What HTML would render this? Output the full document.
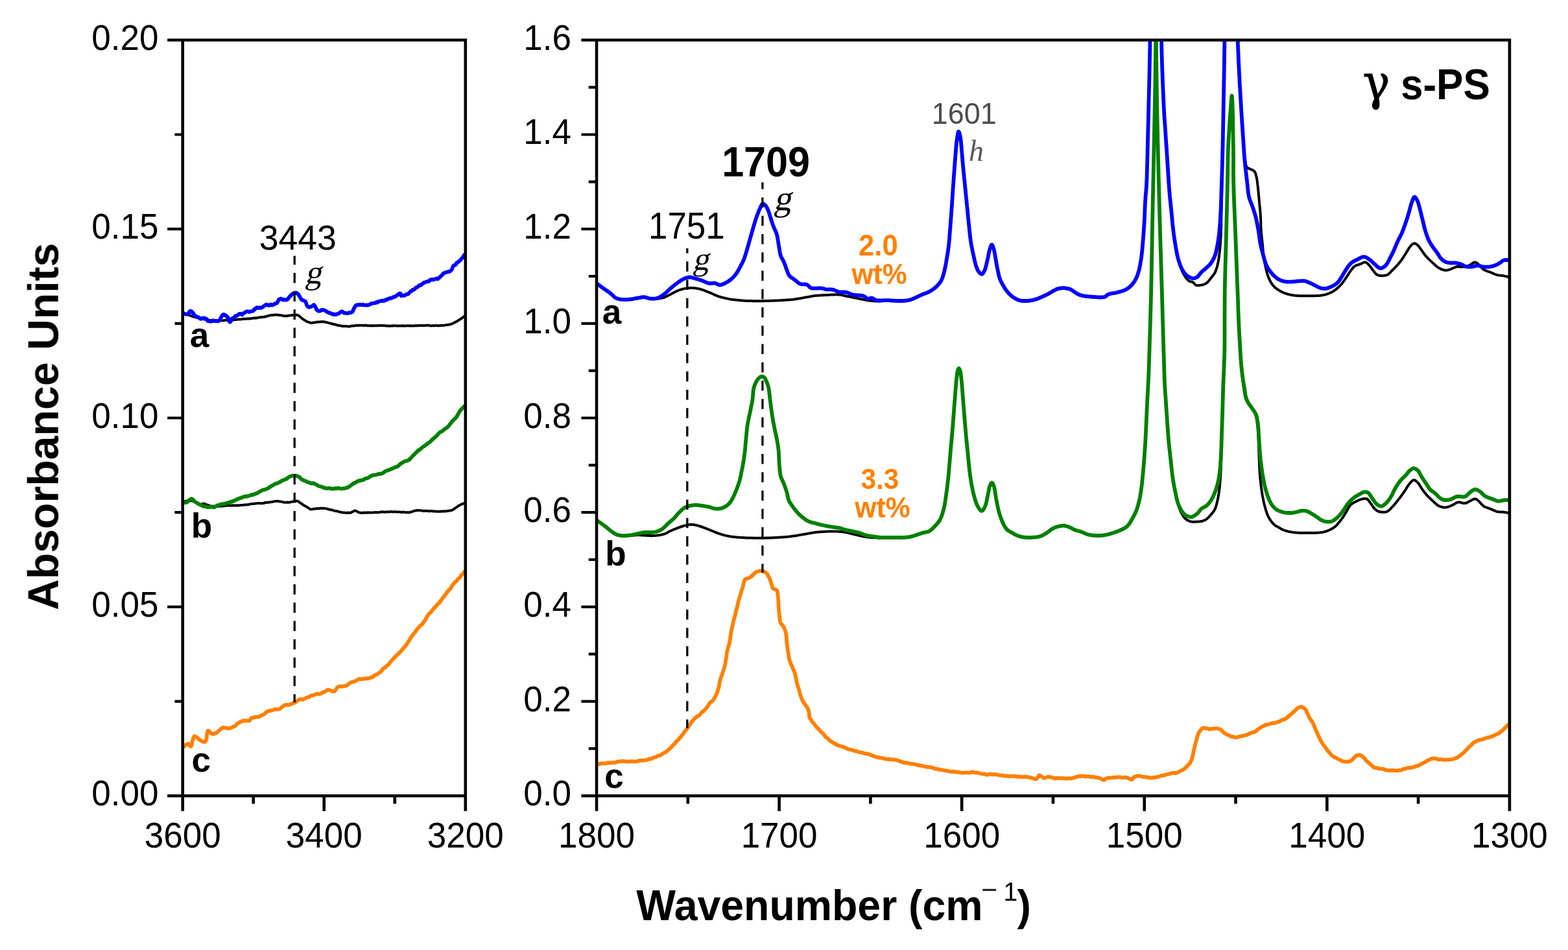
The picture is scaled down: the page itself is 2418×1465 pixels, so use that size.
<!DOCTYPE html>
<html lang="en"><head><meta charset="utf-8"><title>FTIR spectra</title>
<style>
html,body{margin:0;padding:0;background:#fff;}
body{width:2418px;height:1465px;overflow:hidden;}
svg{display:block;font-family:"Liberation Sans",sans-serif;}
</style></head><body>
<svg width="2418" height="1465" viewBox="0 0 2418 1465">
<rect x="0" y="0" width="2418" height="1465" fill="#fff"/>
<defs><filter id="soft" x="0" y="0" width="100%" height="100%" filterUnits="userSpaceOnUse" color-interpolation-filters="sRGB"><feGaussianBlur stdDeviation="0.75"/></filter></defs>
<g id="chart" filter="url(#soft)">
<defs><clipPath id="cl"><rect x="281.7" y="61.8" width="436.09999999999997" height="1165.4"/></clipPath><clipPath id="cr"><rect x="920.0" y="61.8" width="1407.9" height="1165.4"/></clipPath></defs>
<path d="M282.4,482.8 L282.6,483.0 L283.0,483.1 L283.7,483.4 L284.7,483.8 L285.9,484.0 L287.2,484.3 L288.7,485.1 L290.4,485.5 L292.1,486.1 L293.9,487.0 L295.8,487.5 L297.7,488.2 L299.6,488.7 L301.5,489.3 L303.3,489.6 L305.1,490.2 L306.7,490.8 L308.2,491.1 L309.8,491.5 L311.3,491.8 L312.9,491.8 L314.4,492.3 L316.0,492.6 L317.5,492.7 L319.0,492.8 L320.6,493.3 L322.1,493.5 L323.7,493.8 L325.2,494.1 L326.8,494.2 L328.3,494.5 L329.9,494.4 L331.5,494.5 L333.1,494.5 L334.6,494.7 L336.2,494.8 L337.8,494.4 L339.5,494.2 L341.1,494.1 L342.8,494.4 L344.5,494.2 L346.1,494.1 L347.8,493.8 L349.4,493.7 L351.0,493.5 L352.6,493.4 L354.1,493.3 L355.6,493.2 L357.1,493.3 L358.5,493.2 L359.8,493.2 L361.7,493.1 L363.5,493.1 L365.1,492.8 L366.7,492.4 L368.3,492.5 L369.9,492.5 L371.5,492.4 L373.2,492.1 L374.7,492.1 L376.2,491.7 L377.7,491.8 L379.2,491.7 L380.8,491.5 L382.3,491.2 L383.9,491.4 L385.4,491.5 L387.0,491.0 L388.5,491.1 L390.0,490.8 L391.5,490.5 L393.1,490.3 L394.6,490.4 L396.1,490.3 L397.7,489.8 L399.2,489.7 L400.7,489.3 L402.3,489.3 L403.8,489.0 L405.3,489.0 L406.9,488.8 L408.4,488.4 L410.0,488.2 L411.6,487.6 L413.1,487.0 L414.6,486.9 L416.1,486.4 L417.6,486.1 L419.1,486.0 L420.8,486.0 L422.5,485.6 L424.2,485.4 L425.9,485.6 L427.5,485.5 L429.0,485.7 L430.5,485.9 L432.1,485.9 L433.6,486.2 L435.1,486.6 L436.6,487.0 L438.2,487.2 L439.7,487.2 L441.3,487.2 L443.0,487.2 L444.7,486.8 L446.4,486.5 L448.0,486.4 L449.6,486.1 L451.3,486.0 L453.0,486.1 L454.6,485.9 L456.2,485.8 L457.7,485.6 L459.2,486.1 L460.6,486.8 L461.8,487.5 L463.0,488.7 L464.2,489.9 L465.5,490.7 L466.8,491.9 L468.1,492.7 L469.5,493.7 L470.9,494.4 L472.4,495.4 L473.8,496.2 L475.3,496.6 L476.8,497.0 L478.3,497.6 L479.9,498.1 L481.6,497.8 L483.2,497.6 L484.9,497.4 L486.6,497.0 L488.2,496.8 L489.8,496.6 L491.4,496.4 L492.9,496.4 L494.5,496.2 L496.0,496.1 L497.6,496.3 L499.3,496.1 L500.7,496.5 L502.2,496.9 L503.7,497.1 L505.2,497.4 L506.8,498.1 L508.4,498.4 L510.0,498.7 L511.6,499.2 L513.1,499.8 L514.6,500.0 L516.2,500.3 L517.7,500.7 L519.2,501.3 L520.7,501.5 L522.2,502.0 L523.7,502.1 L525.2,502.3 L526.6,502.6 L528.0,503.0 L529.7,503.1 L531.3,503.1 L532.9,503.1 L534.4,503.3 L536.0,503.2 L537.6,503.4 L539.1,503.5 L540.5,503.0 L542.0,502.6 L543.5,502.6 L545.2,502.4 L547.1,502.3 L548.2,502.0 L549.5,501.8 L550.7,501.7 L552.1,501.9 L553.4,501.8 L554.9,501.7 L556.4,501.7 L557.9,501.7 L559.4,501.8 L561.0,502.0 L562.6,501.8 L564.2,501.6 L565.9,502.0 L567.5,502.2 L569.2,502.3 L570.9,502.2 L572.5,502.3 L574.1,502.4 L575.8,502.1 L577.2,502.2 L578.6,502.3 L580.1,502.3 L581.6,502.2 L583.1,502.1 L584.6,502.0 L586.1,502.0 L587.6,501.9 L589.1,502.1 L590.7,502.1 L592.2,502.3 L593.8,502.1 L595.3,502.4 L596.9,502.5 L598.4,502.6 L600.0,502.7 L601.6,502.7 L603.1,502.6 L604.7,502.3 L606.3,502.5 L607.8,502.3 L609.4,502.3 L610.9,502.4 L612.5,502.5 L614.0,502.4 L615.5,502.6 L617.1,502.6 L618.6,502.4 L620.2,502.3 L621.7,502.5 L623.3,502.4 L624.9,502.5 L626.4,502.4 L628.0,502.2 L629.5,502.3 L631.1,502.4 L632.7,502.2 L634.2,502.4 L635.8,502.5 L637.3,502.5 L638.9,502.5 L640.4,502.1 L641.9,502.2 L643.4,502.3 L644.9,502.0 L646.4,501.9 L647.9,501.9 L649.3,502.0 L650.8,502.0 L652.2,502.0 L653.8,502.2 L655.5,501.9 L657.1,501.8 L658.7,501.8 L660.3,501.8 L661.9,501.8 L663.5,502.2 L665.1,502.4 L666.7,502.1 L668.3,502.2 L669.8,502.2 L671.3,502.1 L672.8,502.1 L674.2,502.3 L675.6,502.3 L677.0,502.2 L678.3,502.0 L679.6,502.0 L680.9,501.8 L682.6,501.8 L684.2,501.9 L685.8,501.6 L687.3,501.3 L688.7,501.1 L690.1,500.9 L691.5,500.8 L692.9,500.6 L694.3,500.1 L695.8,499.8 L697.2,499.2 L698.7,498.5 L700.1,497.8 L701.5,497.1 L702.9,496.4 L704.3,495.6 L705.7,494.9 L707.2,494.0 L708.8,492.8 L710.4,491.8 L712.1,490.8 L713.7,489.4 L715.1,488.5 L716.2,487.8 L716.9,487.5 L717.2,487.4" fill="none" stroke="#000000" stroke-width="4.0" stroke-linejoin="round" stroke-linecap="butt" clip-path="url(#cl)" />
<path d="M282.4,774.1 L282.8,773.9 L283.8,773.6 L285.3,773.1 L287.1,772.6 L289.1,772.3 L291.2,772.3 L293.1,772.2 L294.8,772.3 L296.4,772.3 L297.9,772.9 L299.5,773.5 L301.0,774.2 L302.6,774.9 L304.1,775.8 L305.5,776.9 L306.9,777.7 L308.2,778.0 L310.0,778.0 L311.6,777.3 L313.2,776.7 L314.9,776.8 L316.3,777.2 L317.7,777.9 L319.2,778.6 L320.7,778.9 L322.3,779.6 L323.9,780.3 L325.4,780.7 L327.0,780.6 L328.6,780.8 L330.2,780.6 L331.9,781.0 L333.5,781.0 L335.2,780.8 L336.9,780.6 L338.5,780.7 L340.2,780.6 L341.9,780.6 L343.6,780.5 L345.3,780.2 L347.0,779.9 L348.6,779.8 L350.3,779.6 L351.9,779.4 L353.6,779.4 L355.2,779.7 L356.7,779.4 L358.4,779.3 L360.0,779.6 L361.7,779.5 L363.2,779.5 L364.7,779.5 L366.2,779.3 L367.7,779.6 L369.2,779.2 L370.8,779.1 L372.4,778.9 L373.9,778.9 L375.5,778.7 L377.0,778.5 L378.6,778.6 L380.1,778.3 L381.7,778.2 L383.2,778.2 L384.8,777.6 L386.4,777.2 L387.9,777.0 L389.4,777.1 L390.9,777.0 L392.3,776.7 L394.0,776.4 L395.7,776.2 L397.3,776.2 L398.9,775.9 L400.5,776.1 L402.2,776.2 L403.8,776.2 L405.4,776.0 L407.0,775.9 L408.6,775.1 L410.3,774.8 L411.9,774.9 L413.6,774.8 L415.2,774.4 L416.9,774.4 L418.6,774.1 L420.3,773.9 L422.0,773.4 L423.7,773.0 L425.4,772.9 L427.1,772.7 L428.6,772.7 L430.3,773.3 L431.9,773.5 L433.4,773.6 L435.0,773.9 L436.5,774.2 L438.2,774.8 L439.8,774.8 L441.4,774.8 L443.1,774.5 L444.8,774.9 L446.5,774.6 L448.1,774.3 L449.6,773.9 L451.5,773.5 L453.2,773.1 L455.0,773.0 L456.6,772.6 L458.2,772.5 L459.7,773.2 L461.0,773.8 L462.3,775.1 L463.6,775.8 L464.9,776.7 L466.2,777.7 L467.5,778.4 L468.8,779.5 L470.1,780.1 L471.4,780.7 L472.6,781.5 L474.0,782.2 L475.3,783.3 L476.7,784.1 L478.3,785.1 L479.7,785.5 L481.3,785.4 L482.9,784.9 L484.6,784.7 L486.4,784.5 L488.1,784.2 L489.8,784.1 L491.4,784.4 L493.1,784.0 L494.8,783.6 L496.4,783.9 L498.1,783.8 L499.7,784.1 L501.2,784.0 L502.9,784.4 L504.5,784.7 L506.1,785.2 L507.6,785.7 L509.2,786.1 L510.8,786.2 L512.4,786.4 L514.0,787.1 L515.6,787.6 L517.2,788.0 L518.8,788.0 L520.4,788.4 L521.9,788.9 L523.4,789.3 L524.8,789.8 L526.3,790.0 L528.0,790.3 L529.5,790.5 L531.2,790.4 L532.9,790.8 L534.8,791.0 L536.6,790.5 L538.3,790.8 L539.9,790.8 L541.4,790.5 L543.3,789.3 L545.0,788.6 L546.5,787.5 L548.1,787.5 L549.6,788.1 L551.0,789.0 L552.8,789.9 L553.9,790.3 L555.0,790.6 L556.3,790.8 L557.6,791.1 L559.1,790.8 L560.6,790.5 L562.2,790.8 L563.9,790.4 L565.6,790.7 L567.3,790.3 L569.0,790.5 L570.7,790.5 L572.5,790.6 L574.1,790.4 L575.8,790.5 L577.2,790.1 L578.7,790.2 L580.1,790.0 L581.6,790.2 L583.1,790.2 L584.6,790.0 L586.1,789.9 L587.6,789.5 L589.1,789.3 L590.7,789.5 L592.2,789.5 L593.7,789.7 L595.3,789.6 L596.8,789.2 L598.4,789.2 L599.9,789.4 L601.4,789.3 L602.9,788.9 L604.4,789.3 L606.0,789.4 L607.6,789.1 L609.2,789.2 L610.8,789.2 L612.5,789.5 L614.1,789.5 L615.8,789.4 L617.5,789.6 L619.1,790.0 L620.7,789.7 L622.4,789.6 L623.9,789.9 L625.4,790.2 L626.9,790.2 L628.3,790.1 L629.6,790.3 L630.9,790.3 L632.0,789.8 L633.1,789.9 L634.9,789.3 L636.3,788.6 L637.7,788.3 L639.0,787.7 L640.8,787.5 L641.9,787.1 L643.2,787.3 L644.5,787.0 L646.0,786.9 L647.4,787.1 L649.0,787.2 L650.5,787.4 L652.1,787.8 L653.8,788.0 L655.4,787.7 L657.0,787.8 L658.6,788.0 L660.2,788.1 L661.8,788.3 L663.3,788.3 L664.8,788.1 L666.4,788.1 L668.0,788.5 L669.6,788.4 L671.2,788.6 L672.8,788.8 L674.4,788.7 L675.9,788.7 L677.5,788.7 L679.0,788.5 L680.5,788.7 L682.0,788.5 L683.4,788.6 L684.7,788.3 L686.4,788.4 L688.0,788.3 L689.6,788.1 L691.1,787.9 L692.6,787.5 L694.0,787.5 L695.4,787.1 L696.8,786.9 L698.1,786.1 L699.6,785.3 L701.0,784.3 L702.3,783.6 L703.6,782.4 L704.9,781.6 L706.3,780.5 L707.6,779.7 L709.4,778.7 L711.5,777.9 L713.6,776.9 L715.4,776.3 L716.7,776.2 L717.2,775.7" fill="none" stroke="#000000" stroke-width="4.0" stroke-linejoin="round" stroke-linecap="butt" clip-path="url(#cl)" />
<path d="M282.4,482.6 L283.2,483.2 L285.0,483.9 L287.2,484.7 L289.1,484.5 L290.6,483.8 L292.1,480.7 L293.5,479.4 L294.8,479.9 L295.8,480.4 L296.7,482.1 L297.6,482.3 L298.5,484.1 L299.5,485.3 L300.6,486.9 L302.0,488.3 L303.5,488.2 L305.0,488.9 L306.6,489.6 L308.2,491.3 L309.8,491.8 L311.3,490.7 L312.9,491.2 L314.4,490.2 L315.9,491.0 L317.4,491.2 L318.7,492.1 L320.1,495.0 L321.6,495.2 L323.0,494.9 L324.6,495.9 L326.1,495.7 L327.7,494.2 L329.2,494.8 L330.9,494.6 L332.6,495.2 L334.3,494.7 L335.9,495.5 L337.0,494.9 L338.1,494.4 L339.2,493.2 L340.2,490.6 L341.3,488.7 L342.4,486.8 L343.4,485.6 L344.5,484.8 L345.9,485.2 L347.3,486.5 L348.7,486.6 L350.1,488.6 L351.2,489.5 L352.2,490.4 L352.9,492.9 L353.2,494.5 L353.5,495.7 L354.1,496.5 L355.0,496.6 L356.0,494.3 L357.2,493.8 L358.5,490.8 L359.8,490.2 L361.1,489.8 L362.6,487.5 L364.1,487.4 L365.6,486.2 L367.1,485.8 L368.4,484.3 L370.1,483.8 L371.7,484.1 L373.2,485.5 L374.4,483.8 L375.5,483.2 L376.6,482.5 L378.0,481.8 L379.5,480.6 L381.2,480.2 L383.0,480.5 L384.8,481.2 L386.6,480.0 L388.0,480.2 L389.3,479.8 L390.7,479.3 L392.1,476.8 L393.4,476.9 L394.8,474.9 L396.1,474.2 L397.7,474.3 L399.2,475.0 L400.7,474.2 L402.3,474.9 L403.8,474.3 L405.3,473.2 L406.8,472.3 L408.3,471.2 L409.8,470.1 L411.4,469.6 L413.0,470.4 L414.6,471.4 L416.3,470.2 L417.9,469.4 L419.5,470.7 L421.0,470.3 L422.6,469.4 L424.0,468.2 L425.4,467.9 L426.7,467.7 L428.0,465.9 L429.0,463.9 L430.2,461.5 L431.5,461.7 L433.0,460.5 L434.7,461.2 L436.5,462.6 L438.2,461.8 L439.7,462.3 L441.1,462.7 L442.5,461.9 L443.9,461.4 L445.1,459.2 L446.3,458.0 L447.4,456.2 L448.5,456.1 L449.6,454.4 L450.8,453.2 L452.0,453.0 L453.2,452.1 L454.4,452.0 L456.0,451.4 L457.7,451.9 L459.2,453.4 L460.1,454.1 L460.8,454.9 L461.4,456.4 L462.1,457.3 L463.0,458.8 L464.2,461.1 L465.6,462.6 L467.0,463.1 L468.4,463.6 L469.7,464.1 L470.8,464.7 L471.7,466.4 L472.6,469.2 L473.5,471.5 L474.4,472.2 L475.4,473.5 L477.0,473.8 L478.7,473.3 L480.2,472.6 L482.2,471.5 L484.0,470.1 L485.0,471.2 L485.8,471.9 L486.7,473.8 L487.6,476.3 L488.6,478.1 L489.8,478.5 L491.1,479.8 L492.7,479.7 L494.3,479.4 L496.0,477.9 L497.7,478.2 L499.3,477.9 L501.0,479.0 L502.6,479.5 L504.2,480.9 L505.8,481.7 L507.3,482.7 L508.9,482.5 L510.4,483.3 L512.0,484.1 L513.5,484.9 L515.0,484.4 L516.5,485.1 L518.1,485.1 L519.7,484.2 L521.3,483.8 L522.9,483.1 L524.5,481.7 L526.1,480.9 L527.6,480.2 L529.1,481.5 L530.6,482.7 L532.2,482.6 L533.7,483.0 L535.3,483.1 L537.0,483.1 L538.8,481.9 L540.5,482.2 L542.0,481.6 L543.3,481.0 L544.3,479.3 L544.9,477.9 L545.5,476.5 L546.1,474.8 L547.1,473.6 L548.4,471.4 L549.9,470.3 L551.5,470.1 L553.3,470.3 L555.0,469.5 L556.7,470.0 L558.3,470.4 L559.9,469.7 L561.5,470.5 L563.0,470.7 L564.6,470.5 L566.2,470.5 L567.8,470.5 L569.4,469.8 L571.0,469.1 L572.6,467.9 L574.2,467.9 L575.8,467.4 L577.4,467.4 L578.9,467.1 L580.5,466.0 L582.1,466.6 L583.7,464.9 L585.3,464.6 L586.9,464.1 L588.5,464.0 L590.1,463.3 L591.7,464.2 L593.3,463.5 L594.9,462.2 L596.3,462.4 L597.6,461.1 L599.0,461.0 L600.4,460.1 L601.7,459.8 L603.1,460.0 L604.4,459.6 L606.1,458.2 L607.8,458.0 L609.6,457.3 L611.3,456.1 L612.8,454.7 L614.0,454.5 L615.2,453.2 L616.0,452.5 L616.9,452.3 L617.5,452.6 L618.1,453.7 L618.7,456.3 L619.7,456.0 L620.9,455.6 L622.5,455.9 L624.1,455.7 L625.9,454.0 L627.7,453.6 L629.3,453.5 L630.5,452.1 L631.7,451.0 L632.9,449.5 L634.1,448.3 L635.3,448.6 L636.4,447.0 L637.6,447.0 L638.8,446.4 L640.2,445.0 L641.5,443.3 L642.9,443.4 L644.3,442.2 L645.6,441.0 L647.0,439.8 L648.4,440.2 L649.8,439.0 L651.1,437.7 L652.5,437.1 L653.8,435.7 L655.2,435.7 L656.6,435.0 L658.0,434.1 L659.5,434.2 L661.2,434.0 L662.8,431.9 L664.4,431.6 L666.0,430.7 L667.5,431.4 L669.1,431.4 L670.6,430.4 L672.1,430.0 L673.6,429.4 L675.2,430.3 L676.4,428.9 L677.5,428.3 L678.7,427.0 L679.9,426.0 L681.0,424.8 L682.2,423.8 L683.5,421.7 L684.7,421.5 L686.3,420.3 L688.0,420.1 L689.7,419.5 L691.3,419.0 L692.9,418.9 L694.3,418.2 L695.4,416.9 L696.4,416.2 L697.2,414.7 L698.0,412.0 L698.9,410.3 L700.0,409.2 L701.0,409.2 L702.2,408.6 L703.4,407.1 L704.7,404.8 L705.9,404.6 L707.2,403.3 L708.4,402.4 L709.6,401.6 L710.7,400.4 L711.9,398.6 L713.2,397.7 L714.4,395.5 L715.5,393.7 L716.4,393.3 L717.0,391.6 L717.2,391.1" fill="none" stroke="#0000ff" stroke-width="5.8" stroke-linejoin="round" stroke-linecap="butt" clip-path="url(#cl)" />
<path d="M282.4,774.3 L283.5,774.8 L285.8,775.1 L288.2,774.7 L289.5,773.4 L290.8,772.4 L292.1,770.9 L293.5,770.0 L294.8,769.1 L296.1,769.7 L297.3,770.1 L298.5,771.6 L299.8,773.0 L301.1,774.0 L302.5,775.0 L303.8,775.9 L305.1,776.2 L306.5,777.1 L307.8,778.2 L309.2,778.4 L310.6,779.4 L312.0,780.0 L313.6,780.8 L315.2,780.8 L316.8,780.7 L318.4,781.6 L320.0,782.2 L321.6,782.1 L323.2,781.7 L324.8,781.6 L326.5,782.0 L328.1,781.7 L329.6,782.3 L331.2,781.9 L332.7,780.8 L334.2,780.3 L335.7,779.2 L337.2,778.9 L338.8,778.5 L340.3,777.7 L341.9,777.4 L343.5,777.2 L345.2,777.2 L346.9,777.3 L348.6,776.0 L350.3,775.6 L351.7,775.4 L353.2,774.8 L354.6,774.6 L356.0,773.6 L357.5,773.8 L358.9,773.2 L360.3,772.1 L361.7,772.0 L363.2,771.2 L364.6,770.3 L366.0,769.9 L367.5,769.0 L368.9,768.3 L370.3,768.4 L371.8,768.0 L373.2,766.8 L374.8,766.8 L376.5,765.8 L378.2,765.4 L379.8,765.8 L381.5,765.4 L383.1,764.7 L384.7,764.2 L386.3,763.7 L387.9,762.9 L389.5,763.4 L391.1,762.3 L392.7,761.8 L394.2,761.6 L395.6,760.7 L397.0,760.5 L398.3,759.1 L399.7,758.7 L401.0,758.0 L402.4,757.0 L403.8,756.5 L405.4,755.5 L407.0,755.3 L408.6,754.9 L410.2,754.3 L411.8,753.6 L413.3,753.2 L414.7,752.2 L416.0,750.9 L417.2,750.6 L418.5,749.4 L419.7,748.7 L421.0,748.4 L422.5,747.2 L424.0,746.2 L425.6,745.6 L427.1,745.6 L428.6,744.9 L429.9,744.1 L431.2,743.4 L432.5,743.2 L433.8,741.8 L435.0,741.0 L436.3,740.8 L437.7,740.2 L439.2,739.4 L440.6,739.0 L442.0,738.5 L443.4,737.2 L444.8,736.3 L446.2,735.2 L447.7,734.9 L449.3,733.9 L451.0,733.5 L452.7,733.6 L454.4,733.6 L456.1,733.4 L457.8,734.1 L459.4,734.6 L461.1,735.5 L462.4,736.4 L463.6,737.8 L464.9,739.2 L466.2,739.7 L467.4,740.0 L468.8,741.1 L470.2,741.5 L471.8,741.9 L473.3,743.2 L474.8,743.3 L476.4,744.3 L477.9,744.4 L479.4,745.3 L480.9,745.6 L482.5,745.0 L484.0,745.2 L485.4,746.4 L486.7,747.0 L488.1,747.4 L489.5,748.4 L490.9,749.3 L492.3,749.7 L493.6,750.1 L495.2,750.3 L496.7,751.0 L498.1,751.3 L499.7,752.3 L501.2,752.9 L502.7,752.7 L504.3,753.3 L505.9,752.9 L507.5,752.7 L509.1,753.3 L510.8,753.3 L512.4,753.9 L514.0,753.7 L515.6,753.7 L517.3,753.0 L519.0,753.4 L520.6,752.6 L522.3,752.8 L523.9,753.3 L525.6,753.6 L527.3,753.7 L529.0,753.2 L530.7,753.2 L532.2,753.2 L533.7,752.2 L535.4,752.2 L536.9,751.6 L538.4,750.3 L539.8,749.5 L541.4,748.3 L542.7,747.1 L544.0,746.6 L545.4,745.1 L546.7,744.8 L548.1,744.5 L549.5,743.1 L550.9,742.9 L552.5,741.5 L554.1,741.6 L555.7,740.7 L557.3,740.9 L558.9,740.2 L560.5,740.1 L562.1,738.7 L563.7,737.7 L565.3,737.7 L566.9,737.2 L568.5,736.5 L570.0,735.2 L571.6,734.3 L573.3,733.7 L574.9,732.6 L576.5,732.8 L578.0,732.4 L579.6,732.2 L581.2,731.9 L582.7,731.3 L584.2,730.8 L585.7,731.2 L587.2,730.5 L588.8,730.2 L590.3,729.5 L591.8,728.7 L593.3,727.3 L594.9,726.3 L596.4,726.1 L598.0,725.1 L599.6,724.9 L601.2,724.0 L602.8,723.4 L604.4,722.6 L605.8,722.4 L607.2,721.7 L608.6,720.9 L610.0,720.1 L611.4,719.8 L612.7,719.6 L614.0,718.6 L615.3,717.2 L616.6,716.2 L617.9,715.0 L619.1,714.3 L620.3,713.8 L621.6,713.0 L623.1,711.8 L624.7,711.3 L626.2,710.9 L627.8,710.5 L629.3,709.7 L630.4,709.6 L631.4,708.5 L632.5,707.5 L633.5,706.4 L634.6,705.2 L635.6,704.2 L636.7,702.6 L637.8,701.6 L638.8,701.0 L640.0,699.3 L641.2,698.4 L642.4,697.3 L643.6,695.9 L644.8,694.7 L646.0,694.5 L647.2,693.1 L648.4,692.7 L649.6,691.3 L650.8,690.4 L652.0,689.1 L653.2,688.5 L654.4,688.1 L655.6,686.7 L656.8,686.0 L658.0,685.5 L659.1,684.1 L660.4,683.1 L661.6,682.5 L662.8,681.9 L664.0,680.3 L665.2,679.5 L666.3,678.0 L667.5,676.7 L668.6,676.6 L669.7,674.9 L670.7,674.5 L671.7,673.6 L672.8,672.4 L673.8,671.4 L674.9,670.3 L676.0,668.8 L677.1,667.8 L678.4,666.4 L679.8,666.1 L681.1,665.4 L682.5,664.6 L683.9,663.1 L685.3,662.3 L686.6,660.9 L687.7,660.4 L688.8,659.6 L689.9,659.0 L690.9,657.8 L692.0,656.6 L693.1,655.6 L694.1,653.7 L695.1,652.8 L696.2,651.0 L697.3,649.9 L698.4,648.4 L699.5,648.0 L700.6,646.1 L701.7,645.5 L702.8,644.6 L703.8,642.9 L704.8,641.9 L705.7,639.9 L706.8,638.1 L707.8,636.2 L708.7,634.7 L709.6,633.1 L710.5,632.7 L711.5,631.0 L712.8,629.9 L714.3,628.2 L715.7,626.6 L716.8,625.8 L717.2,625.2" fill="none" stroke="#008000" stroke-width="5.8" stroke-linejoin="round" stroke-linecap="butt" clip-path="url(#cl)" />
<path d="M282.6,1152.3 L283.0,1151.6 L284.1,1151.1 L285.6,1149.3 L287.2,1148.4 L288.8,1147.4 L290.1,1146.7 L291.3,1147.9 L292.3,1149.0 L293.3,1150.8 L294.2,1151.0 L294.7,1150.4 L295.2,1149.8 L295.7,1149.0 L296.1,1146.5 L296.5,1144.3 L296.9,1142.7 L297.3,1141.3 L297.8,1139.2 L298.3,1137.3 L299.0,1136.8 L299.7,1135.2 L300.7,1135.9 L301.9,1136.1 L303.1,1136.7 L304.4,1137.7 L305.8,1139.0 L307.2,1140.7 L308.7,1141.1 L310.4,1142.3 L312.2,1143.5 L313.9,1143.9 L315.4,1144.3 L316.7,1143.4 L317.4,1142.4 L318.0,1141.2 L318.3,1140.2 L318.6,1138.3 L318.8,1136.0 L319.0,1134.1 L319.2,1132.0 L319.5,1129.9 L319.8,1128.9 L320.2,1128.0 L320.8,1126.8 L322.0,1127.1 L323.3,1128.2 L324.7,1130.0 L326.2,1131.3 L327.6,1131.4 L329.1,1132.1 L330.5,1131.1 L332.0,1130.6 L333.5,1130.4 L335.0,1129.1 L336.2,1128.4 L337.5,1126.7 L338.7,1125.9 L339.9,1125.0 L341.1,1123.7 L342.3,1123.1 L343.6,1121.9 L345.2,1122.0 L346.8,1122.4 L348.5,1122.8 L350.3,1122.8 L351.8,1123.2 L353.4,1123.4 L355.1,1122.7 L356.8,1122.3 L358.4,1121.0 L359.8,1120.9 L361.4,1120.1 L362.7,1119.4 L364.0,1118.1 L365.6,1116.2 L367.0,1115.2 L368.5,1114.8 L370.1,1113.3 L371.8,1112.9 L373.5,1112.1 L375.1,1111.4 L376.7,1111.0 L378.5,1111.8 L380.2,1111.4 L381.9,1111.3 L383.4,1111.3 L384.7,1111.6 L385.8,1109.8 L386.6,1108.6 L387.4,1107.5 L388.5,1107.0 L389.8,1106.8 L391.3,1106.7 L392.9,1106.0 L394.5,1105.7 L396.1,1105.3 L397.7,1105.7 L399.3,1105.7 L401.0,1104.4 L402.6,1103.5 L404.2,1102.8 L405.7,1102.0 L407.0,1101.5 L408.3,1100.8 L409.5,1099.5 L410.7,1097.9 L412.0,1097.2 L413.3,1096.5 L414.8,1096.2 L416.4,1096.3 L418.0,1095.8 L419.6,1095.2 L421.3,1094.8 L422.9,1094.5 L424.5,1093.3 L426.2,1093.9 L427.8,1093.8 L429.5,1093.8 L431.0,1093.5 L432.4,1092.5 L434.0,1091.3 L435.3,1089.7 L436.6,1089.1 L438.2,1087.7 L439.6,1087.1 L441.2,1087.0 L442.9,1087.0 L444.6,1087.2 L446.2,1086.8 L447.7,1086.2 L449.2,1085.8 L450.5,1085.0 L451.8,1084.5 L453.1,1083.4 L454.4,1083.6 L455.8,1083.0 L457.2,1081.5 L458.6,1080.5 L460.0,1079.7 L461.5,1079.0 L463.0,1078.1 L464.6,1078.5 L466.2,1078.8 L467.8,1078.2 L469.5,1077.7 L471.1,1076.8 L472.6,1076.1 L474.2,1075.6 L475.7,1074.8 L477.1,1074.8 L478.6,1073.4 L480.2,1072.2 L481.7,1072.7 L483.3,1072.1 L485.0,1071.1 L486.6,1070.9 L488.2,1069.9 L489.8,1069.9 L491.3,1070.3 L492.9,1070.3 L494.4,1069.8 L495.9,1068.8 L497.4,1068.1 L498.7,1067.1 L500.1,1067.0 L501.5,1066.2 L502.8,1065.7 L504.2,1064.4 L505.6,1063.5 L507.0,1063.8 L508.8,1064.5 L510.6,1065.1 L512.4,1065.8 L514.1,1066.4 L515.6,1066.2 L516.9,1064.6 L518.0,1063.3 L519.0,1061.7 L520.4,1059.9 L521.7,1059.0 L523.3,1058.7 L524.9,1058.3 L526.7,1058.6 L528.3,1058.8 L529.9,1058.0 L531.5,1058.0 L533.0,1057.8 L534.6,1057.3 L536.1,1056.0 L537.6,1054.7 L539.1,1053.7 L540.6,1052.8 L542.1,1051.9 L543.6,1051.7 L545.2,1051.6 L546.7,1051.1 L548.3,1049.9 L549.9,1049.2 L551.5,1048.6 L553.1,1047.1 L554.8,1047.0 L556.3,1047.3 L557.9,1047.2 L559.5,1047.2 L561.1,1046.9 L562.7,1046.2 L564.3,1046.6 L565.9,1046.0 L567.5,1046.1 L569.1,1046.2 L570.7,1045.2 L572.3,1044.4 L573.9,1044.5 L575.3,1043.9 L576.6,1042.4 L578.0,1041.2 L579.3,1040.3 L580.7,1040.4 L582.1,1039.8 L583.4,1038.1 L584.6,1037.8 L585.7,1037.3 L586.9,1036.1 L588.1,1034.6 L589.2,1033.5 L590.4,1031.8 L591.5,1030.3 L592.7,1030.3 L593.8,1029.3 L594.9,1028.2 L596.1,1027.5 L597.4,1025.9 L598.6,1025.1 L599.7,1024.1 L600.9,1022.2 L602.1,1020.7 L603.3,1019.4 L604.4,1018.0 L605.5,1017.3 L606.6,1015.9 L607.6,1014.8 L608.7,1013.3 L609.7,1013.0 L610.8,1011.5 L611.9,1010.3 L612.9,1009.3 L614.0,1008.7 L615.1,1007.2 L616.1,1006.7 L617.2,1005.3 L618.3,1004.2 L619.4,1003.1 L620.4,1001.3 L621.5,1000.5 L622.5,999.1 L623.6,997.5 L624.5,997.3 L625.4,995.7 L626.2,994.6 L627.1,993.8 L628.0,992.4 L628.8,990.7 L629.7,989.5 L630.5,988.2 L631.4,987.3 L632.2,985.2 L633.1,984.1 L634.1,982.5 L635.0,981.0 L635.9,980.2 L636.9,978.8 L637.8,977.5 L638.8,976.4 L639.7,975.5 L640.7,973.7 L641.7,972.4 L642.7,971.0 L643.7,969.7 L644.8,968.7 L645.8,967.4 L646.9,966.2 L648.0,965.0 L649.1,964.5 L650.1,963.3 L651.2,962.4 L652.2,961.4 L653.2,959.3 L654.2,957.9 L655.1,957.1 L656.1,955.9 L657.0,953.6 L658.0,951.7 L658.9,950.6 L659.8,948.8 L660.8,947.5 L661.8,946.0 L662.8,945.4 L663.9,944.6 L664.9,943.7 L666.0,941.6 L667.0,940.7 L668.1,939.6 L669.2,937.6 L670.3,937.1 L671.3,936.3 L672.4,934.3 L673.4,933.8 L674.5,932.2 L675.6,930.9 L676.7,930.4 L677.7,929.4 L678.8,927.3 L679.8,926.1 L680.9,924.9 L681.9,923.5 L682.8,922.0 L683.8,920.8 L684.7,920.2 L685.7,918.2 L686.6,917.3 L687.6,916.1 L688.5,914.3 L689.5,913.2 L690.4,912.4 L691.4,911.3 L692.3,909.4 L693.3,909.1 L694.2,908.1 L695.2,907.2 L696.1,904.9 L697.1,903.4 L698.1,901.7 L699.0,901.3 L700.0,899.8 L701.0,898.2 L702.1,897.2 L703.2,896.8 L704.3,895.9 L705.4,894.1 L706.4,892.5 L707.5,892.2 L708.5,891.0 L709.6,890.0 L710.8,887.8 L712.2,885.8 L713.7,884.8 L715.0,883.3 L716.2,881.5 L716.9,881.6 L717.2,881.3" fill="none" stroke="#ff8000" stroke-width="5.8" stroke-linejoin="round" stroke-linecap="butt" clip-path="url(#cl)" />
<path d="M920.7,437.4 L921.1,437.7 L921.9,438.3 L923.1,439.2 L924.6,440.3 L926.3,441.6 L928.0,442.8 L929.7,444.1 L931.1,445.1 L932.4,446.0 L933.7,446.9 L935.1,447.8 L936.4,448.7 L937.7,449.6 L939.0,450.5 L940.3,451.4 L941.5,452.4 L942.7,453.4 L943.9,454.6 L945.1,455.7 L946.2,456.9 L947.4,457.9 L948.6,458.9 L949.8,459.6 L951.4,460.3 L953.0,460.8 L954.6,461.2 L956.3,461.5 L958.1,461.7 L959.5,461.8 L961.0,461.9 L962.6,462.0 L964.2,462.0 L965.8,461.9 L967.4,461.9 L969.0,461.8 L970.5,461.7 L972.1,461.6 L973.7,461.4 L975.3,461.3 L976.8,461.1 L978.4,460.9 L980.0,460.6 L981.5,460.4 L983.0,460.2 L984.8,460.0 L986.5,459.7 L988.2,459.4 L989.9,459.2 L991.6,459.0 L993.4,459.0 L994.8,459.1 L996.3,459.4 L997.8,459.8 L999.3,460.2 L1000.8,460.6 L1002.2,460.9 L1003.7,461.1 L1005.5,461.2 L1007.2,461.2 L1008.9,461.1 L1010.7,461.0 L1012.4,460.9 L1014.1,460.7 L1015.6,460.5 L1017.1,460.3 L1018.6,460.0 L1020.1,459.8 L1021.6,459.4 L1023.0,459.0 L1024.5,458.6 L1026.0,458.0 L1027.5,457.3 L1029.0,456.6 L1030.4,455.8 L1031.9,455.0 L1033.4,454.2 L1034.9,453.4 L1036.3,452.6 L1037.8,451.9 L1039.3,451.1 L1040.8,450.3 L1042.2,449.6 L1043.7,448.9 L1045.2,448.2 L1046.7,447.7 L1048.2,447.1 L1049.6,446.6 L1051.1,446.2 L1052.6,445.8 L1054.1,445.4 L1055.6,445.1 L1057.3,444.8 L1059.0,444.5 L1060.8,444.3 L1062.5,444.2 L1064.2,444.1 L1066.0,444.1 L1067.7,444.1 L1069.4,444.2 L1071.2,444.3 L1072.9,444.5 L1074.6,444.8 L1076.3,445.1 L1077.8,445.4 L1079.3,445.8 L1080.8,446.2 L1082.3,446.7 L1083.8,447.2 L1085.3,447.7 L1086.7,448.2 L1088.2,448.8 L1089.7,449.3 L1091.2,449.9 L1092.7,450.5 L1094.1,451.1 L1095.6,451.7 L1097.1,452.4 L1098.6,453.0 L1100.1,453.7 L1101.5,454.4 L1103.0,455.1 L1104.5,455.7 L1106.0,456.4 L1107.5,456.9 L1108.9,457.4 L1110.4,457.8 L1111.9,458.2 L1113.4,458.6 L1114.9,459.0 L1116.4,459.3 L1117.8,459.6 L1119.3,460.0 L1120.7,460.3 L1122.1,460.6 L1123.5,460.9 L1125.0,461.2 L1126.5,461.4 L1128.2,461.7 L1129.6,461.9 L1131.0,462.1 L1132.5,462.3 L1134.0,462.5 L1135.5,462.6 L1137.1,462.8 L1138.8,463.0 L1140.5,463.1 L1142.1,463.3 L1143.8,463.4 L1145.5,463.6 L1147.3,463.7 L1149.0,463.8 L1150.5,463.9 L1152.0,463.9 L1153.6,464.0 L1155.2,464.0 L1156.9,464.1 L1158.6,464.1 L1160.2,464.2 L1161.9,464.2 L1163.6,464.2 L1165.2,464.2 L1166.9,464.2 L1168.5,464.2 L1170.1,464.2 L1171.6,464.2 L1173.1,464.2 L1174.6,464.2 L1175.9,464.2 L1177.7,464.2 L1179.4,464.1 L1181.0,464.1 L1182.6,464.1 L1184.1,464.0 L1185.6,464.0 L1187.1,463.9 L1188.8,463.8 L1190.5,463.8 L1191.9,463.7 L1193.5,463.7 L1195.1,463.6 L1196.7,463.5 L1198.4,463.4 L1200.1,463.4 L1201.8,463.3 L1203.4,463.2 L1205.1,463.1 L1206.7,463.0 L1208.3,462.9 L1209.8,462.8 L1211.2,462.7 L1212.9,462.6 L1214.5,462.5 L1216.0,462.4 L1217.5,462.3 L1218.9,462.2 L1220.4,462.1 L1222.0,461.9 L1223.7,461.7 L1225.1,461.5 L1226.6,461.3 L1228.1,461.1 L1229.7,460.8 L1231.3,460.5 L1232.9,460.3 L1234.5,460.0 L1236.1,459.7 L1237.7,459.4 L1239.3,459.1 L1240.8,458.8 L1242.3,458.6 L1244.0,458.3 L1245.7,458.0 L1247.3,457.7 L1248.8,457.4 L1250.4,457.1 L1252.0,456.8 L1253.6,456.5 L1255.2,456.3 L1256.8,456.1 L1258.3,455.9 L1259.8,455.8 L1261.2,455.7 L1262.7,455.6 L1264.2,455.5 L1265.7,455.4 L1267.2,455.3 L1268.8,455.3 L1270.3,455.2 L1271.9,455.1 L1273.4,455.1 L1275.0,455.0 L1276.6,454.9 L1278.2,454.8 L1279.9,454.7 L1281.6,454.6 L1283.3,454.5 L1285.0,454.4 L1286.6,454.4 L1288.3,454.3 L1289.9,454.3 L1291.4,454.3 L1292.8,454.4 L1294.2,454.4 L1295.8,454.6 L1297.3,454.9 L1298.7,455.1 L1300.1,455.5 L1301.4,455.8 L1302.9,456.2 L1304.6,456.5 L1305.8,456.8 L1307.2,457.0 L1308.6,457.3 L1310.1,457.6 L1311.7,457.9 L1313.2,458.2 L1314.8,458.6 L1316.4,458.9 L1318.0,459.2 L1319.6,459.5 L1321.1,459.8 L1322.6,460.1 L1324.0,460.4 L1325.3,460.7 L1327.0,461.0 L1328.6,461.4 L1330.2,461.7 L1331.7,462.0 L1333.2,462.3 L1334.7,462.6 L1336.2,462.9 L1337.8,463.2 L1339.3,463.4 L1340.8,463.6 L1342.3,463.8 L1343.9,463.9 L1345.4,464.1 L1347.0,464.2 L1348.6,464.3 L1350.2,464.4 L1351.6,464.4 L1353.0,464.4 L1354.4,464.4 L1355.8,464.4 L1357.3,464.3 L1358.7,464.3 L1360.2,464.2 L1361.8,464.1 L1363.4,464.1 L1365.1,464.0 L1366.8,464.0 L1368.1,464.0 L1369.4,464.0 L1370.8,464.0 L1372.2,464.0 L1373.7,464.1 L1375.2,464.2 L1376.8,464.2 L1378.3,464.3 L1379.9,464.3 L1381.5,464.4 L1383.1,464.5 L1384.8,464.5 L1386.4,464.5 L1388.0,464.5 L1389.6,464.5 L1391.2,464.5 L1392.7,464.4 L1394.3,464.3 L1395.8,464.2 L1397.2,464.0 L1398.6,463.8 L1400.0,463.6 L1401.6,463.2 L1403.1,462.8 L1404.7,462.3 L1406.2,461.8 L1407.8,461.2 L1409.3,460.6 L1410.7,459.9 L1412.2,459.2 L1413.6,458.6 L1415.0,457.9 L1416.4,457.2 L1417.7,456.6 L1419.0,456.0 L1420.2,455.4 L1421.4,454.8 L1422.6,454.4 L1424.3,453.7 L1425.9,453.1 L1427.4,452.6 L1428.8,452.1 L1430.2,451.5 L1431.6,450.9 L1433.0,450.2 L1434.3,449.5 L1435.7,448.7 L1437.0,447.8 L1438.4,446.9 L1439.7,446.0 L1440.9,445.0 L1442.2,444.0 L1443.4,442.9 L1444.5,441.8 L1445.7,440.7 L1446.8,439.4 L1447.9,438.2 L1448.9,436.9 L1449.9,435.5 L1450.8,434.1 L1451.7,432.6 L1452.3,431.3 L1452.9,429.9 L1453.5,428.4 L1454.0,426.9 L1454.4,425.4 L1454.9,423.8 L1455.3,422.2 L1455.7,420.7 L1456.1,419.1 L1456.5,417.5 L1456.8,416.0 L1457.2,414.5 L1457.5,413.0 L1457.8,411.5 L1458.1,410.0 L1458.4,408.6 L1458.7,407.1 L1458.9,405.6 L1459.2,404.0 L1459.4,402.5 L1459.7,401.0 L1460.0,399.4 L1460.2,397.9 L1460.5,396.3 L1460.7,394.8 L1461.0,393.2 L1461.2,391.7 L1461.5,390.1 L1461.7,388.5 L1462.0,386.9 L1462.2,385.2 L1462.4,383.6 L1462.7,382.0 L1462.9,380.3 L1463.1,378.6 L1463.2,377.1 L1463.4,375.6 L1463.5,374.1 L1463.7,372.6 L1463.8,371.1 L1464.0,369.5 L1464.1,368.0 L1464.2,366.4 L1464.3,364.8 L1464.4,363.2 L1464.5,361.7 L1464.7,360.1 L1464.8,358.5 L1464.9,356.9 L1465.0,355.3 L1465.1,353.7 L1465.3,352.3 L1465.4,350.8 L1465.5,349.3 L1465.6,347.9 L1465.7,346.4 L1465.8,344.9 L1466.0,343.4 L1466.1,341.9 L1466.2,340.4 L1466.3,338.9 L1466.4,337.4 L1466.5,335.9 L1466.7,334.4 L1466.8,332.9 L1466.9,331.4 L1467.0,329.9 L1467.1,328.3 L1467.2,326.8 L1467.3,325.3 L1467.4,323.7 L1467.5,322.2 L1467.6,320.7 L1467.7,319.1 L1467.9,317.6 L1468.0,316.0 L1468.1,314.4 L1468.2,312.9 L1468.3,311.3 L1468.4,309.7 L1468.5,308.1 L1468.6,306.5 L1468.7,305.0 L1468.8,303.4 L1468.9,301.8 L1469.0,300.3 L1469.1,298.7 L1469.2,297.2 L1469.3,295.6 L1469.4,294.1 L1469.5,292.5 L1469.6,291.0 L1469.7,289.4 L1469.8,287.9 L1469.9,286.4 L1470.1,284.8 L1470.2,283.3 L1470.3,281.8 L1470.4,280.2 L1470.5,278.7 L1470.6,277.2 L1470.7,275.7 L1470.8,274.1 L1470.9,272.6 L1471.0,271.1 L1471.1,269.6 L1471.3,268.1 L1471.4,266.6 L1471.5,265.1 L1471.6,263.5 L1471.7,262.0 L1471.8,260.5 L1471.9,259.0 L1472.0,257.4 L1472.2,255.9 L1472.3,254.4 L1472.4,252.9 L1472.5,251.4 L1472.6,249.9 L1472.7,248.4 L1472.9,246.9 L1473.0,245.4 L1473.1,244.0 L1473.2,242.5 L1473.3,241.1 L1473.4,239.6 L1473.6,238.0 L1473.7,236.4 L1473.8,234.8 L1473.9,233.2 L1474.1,231.7 L1474.2,230.1 L1474.3,228.5 L1474.4,226.9 L1474.6,225.4 L1474.7,223.9 L1474.8,222.4 L1475.0,220.9 L1475.2,219.5 L1475.3,218.1 L1475.5,216.8 L1475.8,215.0 L1476.0,213.1 L1476.3,211.1 L1476.6,209.1 L1476.9,207.3 L1477.2,205.7 L1477.5,204.5 L1477.9,203.6 L1478.2,203.3 L1478.7,203.8 L1479.2,205.0 L1479.8,206.7 L1480.3,208.7 L1480.7,210.6 L1481.0,211.8 L1481.2,213.1 L1481.4,214.6 L1481.6,216.0 L1481.7,217.6 L1481.9,219.2 L1482.0,220.8 L1482.2,222.5 L1482.3,224.2 L1482.5,225.9 L1482.6,227.6 L1482.8,229.3 L1482.9,230.7 L1483.1,232.2 L1483.2,233.7 L1483.3,235.2 L1483.4,236.7 L1483.6,238.2 L1483.7,239.7 L1483.8,241.3 L1483.9,242.9 L1484.0,244.5 L1484.2,246.0 L1484.3,247.6 L1484.4,249.3 L1484.6,250.9 L1484.7,252.5 L1484.9,254.1 L1485.0,255.6 L1485.1,257.1 L1485.3,258.6 L1485.4,260.2 L1485.6,261.7 L1485.7,263.2 L1485.9,264.8 L1486.0,266.3 L1486.2,267.9 L1486.4,269.5 L1486.5,271.1 L1486.7,272.7 L1486.8,274.2 L1487.0,275.8 L1487.2,277.4 L1487.3,279.0 L1487.5,280.6 L1487.7,282.1 L1487.8,283.7 L1488.0,285.3 L1488.1,286.8 L1488.3,288.4 L1488.4,289.9 L1488.6,291.5 L1488.7,293.0 L1488.9,294.6 L1489.1,296.2 L1489.2,297.7 L1489.4,299.3 L1489.5,300.8 L1489.7,302.4 L1489.8,303.9 L1490.0,305.5 L1490.1,307.1 L1490.3,308.6 L1490.5,310.2 L1490.6,311.7 L1490.8,313.3 L1490.9,314.8 L1491.1,316.4 L1491.2,317.9 L1491.4,319.5 L1491.5,321.1 L1491.7,322.7 L1491.9,324.2 L1492.0,325.8 L1492.2,327.4 L1492.3,328.9 L1492.5,330.5 L1492.6,332.1 L1492.8,333.7 L1492.9,335.2 L1493.1,336.8 L1493.2,338.3 L1493.4,339.9 L1493.6,341.4 L1493.7,343.0 L1493.9,344.5 L1494.0,346.0 L1494.2,347.5 L1494.4,349.1 L1494.5,350.6 L1494.7,352.2 L1494.8,353.7 L1495.0,355.2 L1495.2,356.8 L1495.3,358.3 L1495.5,359.8 L1495.6,361.3 L1495.8,362.9 L1496.0,364.4 L1496.1,365.8 L1496.3,367.3 L1496.5,368.8 L1496.7,370.2 L1496.9,371.7 L1497.1,373.1 L1497.3,374.5 L1497.6,376.1 L1497.8,377.6 L1498.1,379.2 L1498.4,380.7 L1498.7,382.2 L1499.0,383.7 L1499.3,385.2 L1499.6,386.7 L1499.9,388.1 L1500.2,389.6 L1500.5,391.0 L1500.8,392.4 L1501.1,393.8 L1501.5,395.2 L1501.8,396.8 L1502.2,398.4 L1502.5,400.1 L1502.9,401.7 L1503.2,403.3 L1503.6,404.8 L1504.0,406.3 L1504.3,407.8 L1504.7,409.2 L1505.2,410.6 L1505.6,411.8 L1506.2,413.5 L1506.9,415.0 L1507.5,416.5 L1508.2,417.8 L1509.0,419.1 L1509.8,420.1 L1511.1,421.6 L1512.5,422.8 L1513.9,423.2 L1515.0,422.7 L1516.1,421.4 L1517.1,419.8 L1518.0,418.0 L1518.6,416.9 L1519.0,415.7 L1519.5,414.3 L1519.9,412.9 L1520.3,411.4 L1520.7,409.9 L1521.1,408.3 L1521.4,406.7 L1521.8,405.1 L1522.2,403.5 L1522.6,402.0 L1522.9,400.5 L1523.3,398.8 L1523.6,397.2 L1523.9,395.5 L1524.3,393.8 L1524.6,392.1 L1524.9,390.5 L1525.3,388.9 L1525.6,387.5 L1526.0,386.1 L1526.3,384.9 L1526.9,382.9 L1527.6,381.0 L1528.2,379.3 L1528.8,378.1 L1529.5,377.6 L1530.1,378.1 L1530.7,379.3 L1531.4,381.0 L1532.0,383.0 L1532.6,384.9 L1532.9,386.1 L1533.2,387.4 L1533.5,388.9 L1533.8,390.4 L1534.1,391.9 L1534.4,393.5 L1534.6,395.1 L1534.9,396.7 L1535.1,398.3 L1535.4,399.9 L1535.7,401.5 L1536.0,403.0 L1536.2,404.5 L1536.5,406.0 L1536.8,407.6 L1537.1,409.1 L1537.3,410.7 L1537.6,412.2 L1537.9,413.7 L1538.2,415.2 L1538.5,416.6 L1538.8,418.0 L1539.2,419.7 L1539.5,421.3 L1539.8,422.9 L1540.2,424.5 L1540.5,426.0 L1541.0,427.5 L1541.4,429.0 L1541.9,430.5 L1542.5,432.1 L1543.2,433.6 L1543.9,435.1 L1544.7,436.6 L1545.5,438.0 L1546.3,439.4 L1547.1,440.9 L1547.9,442.3 L1548.7,443.6 L1549.6,445.0 L1550.4,446.3 L1551.3,447.6 L1552.3,448.9 L1553.3,450.2 L1554.3,451.4 L1555.4,452.6 L1556.5,453.8 L1557.7,455.0 L1558.9,456.2 L1560.1,457.3 L1561.4,458.3 L1562.7,459.2 L1564.0,460.1 L1565.4,460.9 L1566.8,461.7 L1568.2,462.4 L1569.7,463.0 L1571.2,463.5 L1572.8,464.0 L1574.5,464.3 L1575.8,464.5 L1577.2,464.7 L1578.6,464.8 L1580.1,464.8 L1581.6,464.8 L1583.2,464.7 L1584.7,464.6 L1586.3,464.5 L1587.9,464.3 L1589.5,464.0 L1591.0,463.8 L1592.5,463.5 L1594.0,463.2 L1595.5,462.8 L1596.9,462.4 L1598.3,462.0 L1599.7,461.5 L1601.1,460.9 L1602.5,460.4 L1603.9,459.8 L1605.3,459.2 L1606.7,458.5 L1608.1,457.9 L1609.5,457.2 L1610.9,456.6 L1612.2,456.0 L1613.6,455.3 L1615.1,454.7 L1616.5,453.9 L1617.9,453.1 L1619.3,452.3 L1620.7,451.5 L1622.1,450.6 L1623.5,449.8 L1624.9,449.0 L1626.3,448.2 L1627.7,447.5 L1629.1,446.9 L1630.5,446.3 L1631.9,445.9 L1633.2,445.5 L1634.8,445.2 L1636.4,445.0 L1638.0,444.9 L1639.6,444.9 L1641.2,444.9 L1642.7,445.1 L1644.3,445.3 L1645.8,445.6 L1647.4,445.9 L1648.9,446.3 L1650.2,446.8 L1651.5,447.4 L1652.8,448.1 L1654.1,448.9 L1655.4,449.8 L1656.6,450.7 L1657.9,451.6 L1659.2,452.4 L1660.5,453.3 L1661.8,454.1 L1663.2,454.8 L1664.6,455.3 L1666.0,455.8 L1667.4,456.2 L1668.9,456.6 L1670.4,456.9 L1671.9,457.1 L1673.4,457.4 L1674.9,457.6 L1676.5,457.8 L1678.0,457.9 L1679.6,458.1 L1681.1,458.2 L1682.6,458.3 L1684.2,458.5 L1685.7,458.6 L1687.3,458.7 L1689.0,458.9 L1690.6,459.0 L1692.3,459.1 L1694.0,459.2 L1695.6,459.2 L1697.2,459.3 L1698.7,459.2 L1700.2,459.1 L1701.5,459.0 L1702.7,458.8 L1703.8,458.5 L1705.3,457.6 L1706.4,456.5 L1707.5,455.3 L1708.9,454.4 L1710.2,453.9 L1711.6,453.4 L1713.2,453.1 L1714.9,452.8 L1716.6,452.5 L1718.4,452.2 L1720.1,452.0 L1721.8,451.6 L1723.4,451.2 L1725.1,450.8 L1726.7,450.4 L1728.3,449.9 L1729.9,449.4 L1731.5,448.9 L1733.0,448.4 L1734.5,447.8 L1735.9,447.1 L1737.5,446.2 L1738.9,445.3 L1740.3,444.3 L1741.7,443.2 L1743.0,442.1 L1744.2,440.9 L1745.4,439.6 L1746.5,438.3 L1747.5,437.0 L1748.5,435.6 L1749.5,434.1 L1750.4,432.6 L1751.2,431.2 L1751.9,429.8 L1752.6,428.3 L1753.2,426.8 L1753.9,425.2 L1754.5,423.6 L1755.0,421.9 L1755.6,420.1 L1756.0,418.8 L1756.3,417.5 L1756.7,416.1 L1757.0,414.7 L1757.3,413.3 L1757.6,411.9 L1757.9,410.4 L1758.2,408.9 L1758.5,407.3 L1758.7,405.8 L1759.0,404.2 L1759.3,402.6 L1759.5,401.0 L1759.8,399.4 L1760.0,398.0 L1760.2,396.5 L1760.3,395.1 L1760.5,393.6 L1760.7,392.1 L1760.9,390.5 L1761.0,389.0 L1761.2,387.4 L1761.4,385.8 L1761.5,384.2 L1761.7,382.6 L1761.8,381.0 L1761.9,379.4 L1762.1,377.8 L1762.2,376.2 L1762.3,374.6 L1762.5,373.0 L1762.6,371.4 L1762.7,369.8 L1762.9,368.3 L1763.0,366.8 L1763.1,365.2 L1763.2,363.7 L1763.3,362.2 L1763.5,360.7 L1763.6,359.2 L1763.7,357.6 L1763.8,356.1 L1763.9,354.6 L1764.0,353.0 L1764.1,351.5 L1764.2,350.0 L1764.3,348.5 L1764.4,347.0 L1764.4,345.5 L1764.5,344.0 L1764.6,342.5 L1764.7,341.0 L1764.8,339.6 L1764.9,338.1 L1764.9,336.7 L1765.0,335.1 L1765.1,333.5 L1765.2,331.9 L1765.2,330.3 L1765.3,328.8 L1765.3,327.2 L1765.4,325.7 L1765.4,324.2 L1765.5,322.6 L1765.6,321.1 L1765.6,319.6 L1765.7,318.0 L1765.7,316.5 L1765.8,315.0 L1765.9,313.4 L1766.0,311.8 L1766.1,310.4 L1766.2,308.9 L1766.3,307.4 L1766.4,305.9 L1766.5,304.5 L1766.6,303.0 L1766.8,301.5 L1766.9,300.0 L1767.0,298.5 L1767.1,297.0 L1767.3,295.5 L1767.4,294.0 L1767.5,292.5 L1767.6,291.0 L1767.8,289.5 L1767.9,287.9 L1768.0,286.4 L1768.0,284.9 L1768.1,283.4 L1768.2,281.9 L1768.3,280.4 L1768.3,278.8 L1768.4,277.3 L1768.5,275.8 L1768.5,274.3 L1768.6,272.8 L1768.6,271.3 L1768.7,269.7 L1768.7,268.2 L1768.7,266.6 L1768.8,265.0 L1768.8,263.5 L1768.9,261.9 L1768.9,260.3 L1769.0,258.7 L1769.0,257.0 L1769.0,255.4 L1769.1,253.7 L1769.1,252.3 L1769.2,250.9 L1769.2,249.4 L1769.3,247.9 L1769.3,246.4 L1769.3,244.9 L1769.4,243.4 L1769.4,241.9 L1769.4,240.3 L1769.5,238.8 L1769.5,237.3 L1769.6,235.7 L1769.6,234.1 L1769.6,232.6 L1769.7,231.0 L1769.7,229.4 L1769.7,227.9 L1769.8,226.3 L1769.8,224.7 L1769.9,223.1 L1769.9,221.6 L1769.9,220.0 L1770.0,218.4 L1770.0,216.9 L1770.0,215.3 L1770.1,213.8 L1770.1,212.2 L1770.2,210.7 L1770.2,209.2 L1770.2,207.7 L1770.3,206.3 L1770.3,204.8 L1770.3,203.4 L1770.4,202.0 L1770.4,200.6 L1770.5,199.1 L1770.5,197.7 L1770.5,196.3 L1770.6,194.9 L1770.6,193.4 L1770.6,192.0 L1770.7,190.5 L1770.7,189.1 L1770.8,187.6 L1770.8,186.0 L1770.8,184.5 L1770.9,182.9 L1770.9,181.3 L1771.0,179.6 L1771.0,177.9 L1771.0,176.2 L1771.1,174.4 L1771.1,172.6 L1771.2,170.7 L1771.2,169.6 L1771.2,168.4 L1771.2,167.2 L1771.3,166.0 L1771.3,164.8 L1771.3,163.6 L1771.4,162.4 L1771.4,161.2 L1771.4,159.9 L1771.4,158.7 L1771.5,157.4 L1771.5,156.1 L1771.5,154.9 L1771.6,153.6 L1771.6,152.3 L1771.6,150.9 L1771.7,149.6 L1771.7,148.3 L1771.7,146.9 L1771.8,145.6 L1771.8,144.2 L1771.8,142.8 L1771.9,141.4 L1771.9,140.0 L1771.9,138.6 L1772.0,137.2 L1772.0,135.8 L1772.0,134.4 L1772.1,132.9 L1772.1,131.5 L1772.1,130.0 L1772.2,128.5 L1772.2,127.0 L1772.2,125.5 L1772.3,124.0 L1772.3,122.5 L1772.4,121.0 L1772.4,119.5 L1772.4,117.9 L1772.5,116.4 L1772.5,114.8 L1772.5,113.3 L1772.6,111.7 L1772.6,110.1 L1772.6,108.5 L1772.7,106.9 L1772.7,105.3 L1772.7,103.6 L1772.8,102.0 L1772.8,100.4 L1772.8,98.7 L1772.9,97.0 L1772.9,95.4 L1772.9,93.7 L1773.0,92.0 L1773.0,90.3 L1773.0,88.6 L1773.1,86.9 L1773.1,85.2 L1773.1,83.4 L1773.2,81.7 L1773.2,80.0 L1773.2,78.2 L1773.3,76.4 L1773.3,74.7 L1773.3,72.9 L1773.4,71.1 L1773.4,69.3 L1773.4,67.5 L1773.4,65.7 L1773.5,63.8 L1773.5,62.0 L1773.5,60.8 L1773.5,59.6 L1773.5,58.4 L1773.5,57.1 L1773.6,55.8 L1773.6,54.5 L1773.6,53.2 L1773.6,51.9 L1773.5,50.5 L1773.5,49.2 L1773.5,47.8 L1773.5,46.4 L1773.5,44.9 L1773.5,43.5 L1773.5,42.0 L1773.4,40.6 L1773.4,39.1 L1773.4,37.6 L1773.3,36.0 L1773.3,34.5 L1773.3,32.9 L1773.2,31.4 L1773.2,29.8 L1773.2,28.2 L1773.1,26.5 L1773.1,24.9 L1773.0,23.3 L1773.0,21.6 L1772.9,19.9 L1772.9,18.3 L1772.8,16.6 L1772.8,14.8 L1772.7,13.1 L1772.7,11.4 L1772.6,9.7 L1772.6,7.9 L1772.5,6.1 L1772.4,4.4 L1772.4,2.6 L1772.3,0.8 L1772.2,-1.0 L1772.2,-2.8 L1772.1,-4.7 L1772.0,-6.5 L1772.0,-8.3 L1771.9,-10.2 L1771.8,-12.0 L1771.8,-13.9 L1771.7,-15.7 L1771.6,-17.6 L1771.6,-19.5 L1771.5,-21.4 L1771.4,-23.3 L1771.3,-25.2 L1771.3,-27.1 L1771.2,-29.0 L1771.1,-30.9 L1771.1,-32.8 L1771.0,-34.7 L1770.9,-36.6 L1770.8,-38.6 L1770.8,-40.5 L1770.7,-42.4 L1770.6,-44.4 L1770.5,-46.3 L1770.5,-48.2 L1770.4,-50.2 L1770.3,-52.1 L1770.3,-54.0 L1770.2,-56.0 L1770.1,-57.9 L1770.0,-59.9 L1770.0,-61.8 L1769.9,-63.7 L1769.8,-65.7 L1769.8,-67.6 L1769.7,-69.5 L1769.6,-71.5 L1769.6,-73.4 L1769.5,-75.3 L1769.5,-77.2 L1769.4,-79.2 L1769.3,-81.1 L1769.3,-83.0 L1769.2,-84.9 L1769.2,-86.8 L1769.1,-88.7 L1769.1,-90.6 L1769.0,-92.5 L1769.0,-94.4 L1768.9,-96.2 L1768.9,-98.1 L1768.8,-100.0 L1768.8,-101.8 L1768.8,-103.7 L1768.7,-105.5 L1768.7,-107.3 L1768.7,-109.2 L1768.6,-111.0 L1768.6,-112.8 L1768.6,-114.6 L1768.5,-116.4 L1768.5,-118.1 L1768.5,-119.9 L1768.5,-121.7 L1768.5,-123.4 L1768.4,-125.1 L1768.4,-126.9 L1768.4,-128.6 L1768.4,-130.3 L1768.4,-132.0 L1768.4,-133.6 L1768.4,-135.3 L1768.4,-137.0 L1768.4,-138.6 L1768.4,-140.2 L1768.5,-141.8 L1768.5,-143.4 L1768.5,-145.0 L1768.5,-146.6 L1768.6,-148.1 L1768.6,-149.6 L1768.6,-151.1 L1768.7,-152.6 L1768.7,-154.1 L1768.7,-155.6 L1768.8,-157.0 L1768.8,-158.5 L1768.9,-159.9 L1769.0,-161.3 L1769.0,-162.7 L1769.1,-164.0 L1769.2,-165.4 L1769.2,-166.7 L1769.3,-168.0 L1769.4,-169.3 L1769.5,-170.5 L1769.6,-171.8 L1769.7,-173.0 L1769.8,-174.2 L1769.9,-175.3 L1770.0,-176.5 L1770.1,-177.6 L1770.2,-178.7 L1770.3,-179.8 L1770.4,-180.9 L1770.6,-181.9 L1770.7,-182.9 L1770.8,-183.9 L1771.0,-184.9 L1771.1,-185.8 L1771.3,-186.8 L1771.4,-187.6 L1771.6,-188.5 L1771.8,-189.4 L1771.9,-190.2 L1772.1,-191.0 L1772.3,-191.7 L1772.5,-192.5 L1772.7,-193.2 L1772.9,-193.8 L1773.1,-194.5 L1773.3,-195.1 L1773.5,-195.7 L1773.7,-196.3 L1774.0,-196.8 L1774.2,-197.3 L1774.4,-197.8 L1774.7,-198.2 L1774.9,-198.6 L1775.2,-199.0 L1775.5,-199.4 L1775.7,-199.7 L1776.0,-200.0 L1777.4,-201.2 L1779.0,-202.0 L1780.7,-202.5 L1782.5,-202.7 L1784.3,-202.5 L1786.0,-202.0 L1787.6,-201.2 L1789.0,-200.0 L1789.3,-199.7 L1789.5,-199.4 L1789.8,-199.0 L1790.1,-198.6 L1790.3,-198.2 L1790.5,-197.8 L1790.8,-197.3 L1791.0,-196.8 L1791.2,-196.3 L1791.5,-195.7 L1791.7,-195.1 L1791.9,-194.5 L1792.1,-193.8 L1792.3,-193.2 L1792.5,-192.5 L1792.7,-191.7 L1792.8,-191.0 L1793.0,-190.2 L1793.2,-189.4 L1793.3,-188.5 L1793.5,-187.6 L1793.7,-186.8 L1793.8,-185.8 L1794.0,-184.9 L1794.1,-183.9 L1794.2,-182.9 L1794.4,-181.9 L1794.5,-180.9 L1794.6,-179.8 L1794.7,-178.7 L1794.8,-177.6 L1794.9,-176.5 L1795.0,-175.3 L1795.1,-174.2 L1795.2,-173.0 L1795.3,-171.8 L1795.4,-170.5 L1795.5,-169.3 L1795.6,-168.0 L1795.6,-166.7 L1795.7,-165.4 L1795.8,-164.0 L1795.8,-162.7 L1795.9,-161.3 L1795.9,-159.9 L1796.0,-158.5 L1796.0,-157.0 L1796.1,-155.6 L1796.1,-154.1 L1796.1,-152.6 L1796.2,-151.1 L1796.2,-149.6 L1796.2,-148.1 L1796.3,-146.6 L1796.3,-145.0 L1796.3,-143.4 L1796.3,-141.8 L1796.3,-140.2 L1796.3,-138.6 L1796.3,-137.0 L1796.3,-135.3 L1796.3,-133.6 L1796.3,-132.0 L1796.3,-130.3 L1796.3,-128.6 L1796.3,-126.9 L1796.2,-125.1 L1796.2,-123.4 L1796.2,-121.7 L1796.2,-119.9 L1796.2,-118.1 L1796.1,-116.4 L1796.1,-114.6 L1796.1,-112.8 L1796.0,-111.0 L1796.0,-109.2 L1795.9,-107.3 L1795.9,-105.5 L1795.9,-103.7 L1795.8,-101.8 L1795.8,-100.0 L1795.7,-98.1 L1795.7,-96.2 L1795.6,-94.4 L1795.6,-92.5 L1795.5,-90.6 L1795.4,-88.7 L1795.4,-86.8 L1795.3,-84.9 L1795.3,-83.0 L1795.2,-81.1 L1795.1,-79.2 L1795.1,-77.2 L1795.0,-75.3 L1794.9,-73.4 L1794.9,-71.5 L1794.8,-69.5 L1794.7,-67.6 L1794.7,-65.7 L1794.6,-63.7 L1794.5,-61.8 L1794.4,-59.9 L1794.4,-57.9 L1794.3,-56.0 L1794.2,-54.0 L1794.1,-52.1 L1794.1,-50.2 L1794.0,-48.2 L1793.9,-46.3 L1793.8,-44.4 L1793.8,-42.4 L1793.7,-40.5 L1793.6,-38.6 L1793.5,-36.6 L1793.4,-34.7 L1793.4,-32.8 L1793.3,-30.9 L1793.2,-29.0 L1793.1,-27.1 L1793.1,-25.2 L1793.0,-23.3 L1792.9,-21.4 L1792.8,-19.5 L1792.8,-17.6 L1792.7,-15.7 L1792.6,-13.9 L1792.5,-12.0 L1792.5,-10.2 L1792.4,-8.3 L1792.3,-6.5 L1792.3,-4.7 L1792.2,-2.8 L1792.1,-1.0 L1792.1,0.8 L1792.0,2.6 L1791.9,4.4 L1791.9,6.1 L1791.8,7.9 L1791.8,9.7 L1791.7,11.4 L1791.6,13.1 L1791.6,14.8 L1791.5,16.6 L1791.5,18.3 L1791.4,19.9 L1791.4,21.6 L1791.3,23.3 L1791.3,24.9 L1791.3,26.5 L1791.2,28.2 L1791.2,29.8 L1791.1,31.4 L1791.1,32.9 L1791.1,34.5 L1791.0,36.0 L1791.0,37.6 L1791.0,39.1 L1791.0,40.6 L1791.0,42.0 L1790.9,43.5 L1790.9,44.9 L1790.9,46.4 L1790.9,47.8 L1790.9,49.2 L1790.9,50.5 L1790.9,51.9 L1790.9,53.2 L1790.9,54.5 L1790.9,55.8 L1790.9,57.1 L1790.9,58.4 L1791.0,59.6 L1791.0,60.8 L1791.0,62.0 L1791.0,63.8 L1791.1,65.7 L1791.1,67.5 L1791.2,69.3 L1791.2,71.1 L1791.3,72.9 L1791.3,74.7 L1791.4,76.5 L1791.4,78.3 L1791.4,80.1 L1791.5,81.8 L1791.5,83.6 L1791.6,85.4 L1791.6,87.1 L1791.7,88.9 L1791.8,90.6 L1791.8,92.3 L1791.9,94.0 L1791.9,95.8 L1792.0,97.5 L1792.0,99.2 L1792.1,100.8 L1792.1,102.5 L1792.2,104.2 L1792.2,105.8 L1792.3,107.5 L1792.4,109.1 L1792.4,110.8 L1792.5,112.4 L1792.5,114.0 L1792.6,115.6 L1792.7,117.2 L1792.7,118.8 L1792.8,120.3 L1792.8,121.9 L1792.9,123.4 L1792.9,125.0 L1793.0,126.5 L1793.1,128.0 L1793.1,129.5 L1793.2,131.0 L1793.3,132.5 L1793.3,134.0 L1793.4,135.4 L1793.4,136.9 L1793.5,138.3 L1793.6,139.7 L1793.6,141.1 L1793.7,142.5 L1793.7,143.9 L1793.8,145.3 L1793.9,146.6 L1793.9,148.0 L1794.0,149.3 L1794.0,150.6 L1794.1,151.9 L1794.2,153.2 L1794.2,154.5 L1794.3,155.7 L1794.3,157.0 L1794.4,158.2 L1794.5,159.4 L1794.5,160.6 L1794.6,161.8 L1794.6,163.0 L1794.7,164.1 L1794.7,165.3 L1794.8,166.4 L1794.9,167.5 L1794.9,168.6 L1795.0,169.7 L1795.0,170.7 L1795.1,172.7 L1795.2,174.6 L1795.3,176.4 L1795.4,178.2 L1795.5,179.9 L1795.6,181.5 L1795.8,183.0 L1795.9,184.6 L1796.0,186.0 L1796.1,187.5 L1796.2,188.9 L1796.3,190.3 L1796.4,191.7 L1796.5,193.1 L1796.6,194.5 L1796.7,195.9 L1796.8,197.4 L1796.9,198.8 L1797.0,200.3 L1797.1,201.9 L1797.2,203.4 L1797.3,205.0 L1797.4,206.5 L1797.5,208.1 L1797.6,209.6 L1797.7,211.2 L1797.8,212.8 L1797.9,214.3 L1798.0,215.9 L1798.1,217.4 L1798.2,219.0 L1798.3,220.5 L1798.4,222.1 L1798.5,223.7 L1798.7,225.2 L1798.8,226.8 L1798.9,228.3 L1799.0,229.9 L1799.1,231.4 L1799.2,233.0 L1799.3,234.5 L1799.4,236.1 L1799.5,237.7 L1799.6,239.2 L1799.7,240.8 L1799.8,242.3 L1799.9,243.9 L1800.0,245.4 L1800.1,247.0 L1800.2,248.5 L1800.3,250.1 L1800.4,251.7 L1800.5,253.2 L1800.6,254.8 L1800.7,256.3 L1800.8,257.9 L1800.9,259.4 L1801.0,261.0 L1801.1,262.6 L1801.2,264.1 L1801.3,265.7 L1801.4,267.2 L1801.5,268.8 L1801.6,270.3 L1801.7,271.9 L1801.8,273.4 L1801.9,275.0 L1802.0,276.6 L1802.1,278.1 L1802.2,279.7 L1802.3,281.2 L1802.4,282.8 L1802.5,284.3 L1802.6,285.9 L1802.7,287.5 L1802.8,289.0 L1803.0,290.6 L1803.1,292.1 L1803.2,293.7 L1803.3,295.2 L1803.5,296.8 L1803.6,298.3 L1803.7,299.9 L1803.9,301.5 L1804.0,303.0 L1804.2,304.6 L1804.3,306.1 L1804.5,307.7 L1804.6,309.2 L1804.8,310.8 L1805.0,312.3 L1805.1,313.9 L1805.3,315.5 L1805.5,317.0 L1805.6,318.6 L1805.8,320.1 L1806.0,321.7 L1806.1,323.2 L1806.3,324.8 L1806.4,326.3 L1806.6,327.9 L1806.7,329.5 L1806.9,331.1 L1807.0,332.7 L1807.2,334.3 L1807.3,335.9 L1807.5,337.5 L1807.6,339.1 L1807.8,340.7 L1807.9,342.3 L1808.1,343.9 L1808.2,345.5 L1808.4,347.0 L1808.6,348.6 L1808.7,350.1 L1808.9,351.7 L1809.0,353.1 L1809.2,354.6 L1809.4,356.1 L1809.5,357.5 L1809.8,359.2 L1810.0,360.9 L1810.2,362.5 L1810.4,364.2 L1810.7,365.8 L1810.9,367.3 L1811.1,368.9 L1811.4,370.4 L1811.6,372.0 L1811.9,373.5 L1812.1,375.1 L1812.4,376.6 L1812.7,378.2 L1812.9,379.7 L1813.2,381.2 L1813.4,382.7 L1813.7,384.2 L1814.0,385.7 L1814.3,387.2 L1814.6,388.8 L1814.9,390.3 L1815.2,391.7 L1815.5,393.2 L1815.8,394.7 L1816.1,396.1 L1816.5,397.6 L1816.8,399.0 L1817.2,400.6 L1817.6,402.2 L1818.1,403.8 L1818.5,405.3 L1819.0,406.9 L1819.5,408.4 L1820.0,409.9 L1820.4,411.4 L1821.0,412.8 L1821.5,414.2 L1822.0,415.6 L1822.7,417.2 L1823.4,418.8 L1824.1,420.3 L1824.8,421.8 L1825.5,423.2 L1826.3,424.6 L1827.2,425.9 L1828.1,427.3 L1829.1,428.7 L1830.1,430.0 L1831.2,431.2 L1832.3,432.3 L1833.4,433.2 L1835.0,434.0 L1836.8,434.4 L1838.5,434.8 L1840.0,435.5 L1841.4,436.9 L1842.6,438.5 L1844.1,439.6 L1845.6,440.0 L1847.2,440.2 L1849.0,440.1 L1850.7,439.9 L1852.4,439.6 L1854.2,439.3 L1855.9,438.8 L1857.6,438.2 L1859.2,437.4 L1860.7,436.5 L1861.9,435.5 L1863.0,434.4 L1864.0,433.2 L1865.0,431.9 L1866.0,430.6 L1867.0,429.3 L1868.1,427.9 L1869.2,426.6 L1870.2,425.3 L1871.3,423.9 L1872.3,422.5 L1873.2,421.0 L1873.9,419.7 L1874.5,418.4 L1875.0,417.0 L1875.5,415.6 L1876.0,414.2 L1876.5,412.7 L1876.9,411.1 L1877.3,409.5 L1877.7,408.2 L1878.0,406.7 L1878.3,405.3 L1878.6,403.8 L1878.9,402.3 L1879.1,400.7 L1879.4,399.1 L1879.6,397.5 L1879.8,395.9 L1880.0,394.2 L1880.2,392.5 L1880.5,390.9 L1880.6,389.4 L1880.8,388.0 L1881.0,386.5 L1881.1,385.1 L1881.3,383.6 L1881.4,382.1 L1881.5,380.6 L1881.7,379.1 L1881.8,377.5 L1881.9,375.9 L1882.0,374.3 L1882.1,372.7 L1882.2,371.1 L1882.3,369.4 L1882.4,367.7 L1882.5,366.0 L1882.6,364.6 L1882.7,363.2 L1882.7,361.8 L1882.8,360.3 L1882.8,358.9 L1882.9,357.4 L1882.9,355.8 L1883.0,354.3 L1883.0,352.7 L1883.1,351.1 L1883.1,349.5 L1883.1,347.9 L1883.2,346.3 L1883.2,344.7 L1883.2,343.1 L1883.3,341.5 L1883.3,339.9 L1883.3,338.3 L1883.3,336.7 L1883.4,335.1 L1883.4,333.5 L1883.4,331.9 L1883.5,330.4 L1883.5,328.9 L1883.5,327.4 L1883.5,325.9 L1883.6,324.5 L1883.6,322.8 L1883.6,321.2 L1883.7,319.6 L1883.7,318.0 L1883.7,316.4 L1883.8,314.8 L1883.8,313.3 L1883.8,311.7 L1883.9,310.2 L1883.9,308.6 L1883.9,307.1 L1884.0,305.6 L1884.0,304.1 L1884.0,302.6 L1884.0,301.0 L1884.1,299.5 L1884.1,298.0 L1884.1,296.5 L1884.2,294.9 L1884.2,293.4 L1884.2,291.8 L1884.3,290.3 L1884.3,288.7 L1884.3,287.2 L1884.3,285.7 L1884.4,284.2 L1884.4,282.6 L1884.4,281.1 L1884.5,279.6 L1884.5,278.1 L1884.5,276.5 L1884.6,275.0 L1884.6,273.5 L1884.6,271.9 L1884.7,270.3 L1884.7,268.8 L1884.7,267.2 L1884.7,265.5 L1884.8,263.9 L1884.8,262.2 L1884.8,260.8 L1884.9,259.3 L1884.9,257.8 L1884.9,256.3 L1885.0,254.7 L1885.0,253.1 L1885.0,251.6 L1885.1,249.9 L1885.1,248.3 L1885.1,246.7 L1885.2,245.1 L1885.2,243.4 L1885.2,241.8 L1885.3,240.2 L1885.3,238.5 L1885.3,236.9 L1885.4,235.3 L1885.4,233.7 L1885.4,232.2 L1885.4,230.6 L1885.5,229.1 L1885.5,227.6 L1885.5,226.2 L1885.6,224.8 L1885.6,223.4 L1885.6,222.0 L1885.6,220.7 L1885.7,219.0 L1885.7,217.3 L1885.7,215.8 L1885.8,214.4 L1885.8,213.1 L1885.8,211.7 L1885.9,210.4 L1885.9,209.0 L1885.9,207.5 L1885.9,205.9 L1886.0,204.1 L1886.0,202.2 L1886.1,200.0 L1886.1,199.2 L1886.1,198.3 L1886.1,197.4 L1886.1,196.5 L1886.1,195.5 L1886.2,194.6 L1886.2,193.6 L1886.2,192.6 L1886.2,191.5 L1886.2,190.5 L1886.3,189.4 L1886.3,188.3 L1886.3,187.2 L1886.3,186.1 L1886.3,184.9 L1886.4,183.8 L1886.4,182.6 L1886.4,181.4 L1886.4,180.2 L1886.5,178.9 L1886.5,177.7 L1886.5,176.4 L1886.5,175.1 L1886.5,173.8 L1886.6,172.5 L1886.6,171.1 L1886.6,169.8 L1886.6,168.4 L1886.7,167.0 L1886.7,165.6 L1886.7,164.2 L1886.8,162.7 L1886.8,161.3 L1886.8,159.8 L1886.8,158.4 L1886.9,156.9 L1886.9,155.4 L1886.9,153.9 L1886.9,152.3 L1887.0,150.8 L1887.0,149.3 L1887.0,147.7 L1887.1,146.1 L1887.1,144.5 L1887.1,143.0 L1887.1,141.4 L1887.2,139.7 L1887.2,138.1 L1887.2,136.5 L1887.3,134.9 L1887.3,133.2 L1887.3,131.6 L1887.3,129.9 L1887.4,128.2 L1887.4,126.5 L1887.4,124.9 L1887.5,123.2 L1887.5,121.5 L1887.5,119.8 L1887.5,118.0 L1887.6,116.3 L1887.6,114.6 L1887.6,112.9 L1887.7,111.2 L1887.7,109.4 L1887.7,107.7 L1887.7,105.9 L1887.8,104.2 L1887.8,102.4 L1887.8,100.7 L1887.9,98.9 L1887.9,97.2 L1887.9,95.4 L1887.9,93.7 L1888.0,91.9 L1888.0,90.1 L1888.0,88.4 L1888.0,86.6 L1888.1,84.8 L1888.1,83.1 L1888.1,81.3 L1888.2,79.5 L1888.2,77.8 L1888.2,76.0 L1888.2,74.3 L1888.3,72.5 L1888.3,70.7 L1888.3,69.0 L1888.3,67.2 L1888.4,65.5 L1888.4,63.7 L1888.4,62.0 L1888.4,60.7 L1888.4,59.4 L1888.4,58.1 L1888.4,56.8 L1888.4,55.4 L1888.4,54.1 L1888.4,52.7 L1888.4,51.3 L1888.4,49.8 L1888.4,48.4 L1888.4,47.0 L1888.4,45.5 L1888.4,44.0 L1888.4,42.5 L1888.3,41.0 L1888.3,39.4 L1888.3,37.9 L1888.2,36.3 L1888.2,34.7 L1888.2,33.1 L1888.1,31.5 L1888.1,29.9 L1888.1,28.3 L1888.0,26.6 L1888.0,25.0 L1887.9,23.3 L1887.9,21.6 L1887.8,19.9 L1887.8,18.2 L1887.7,16.5 L1887.7,14.8 L1887.6,13.0 L1887.6,11.3 L1887.5,9.5 L1887.4,7.8 L1887.4,6.0 L1887.3,4.2 L1887.3,2.4 L1887.2,0.6 L1887.1,-1.2 L1887.1,-3.0 L1887.0,-4.9 L1886.9,-6.7 L1886.9,-8.5 L1886.8,-10.4 L1886.7,-12.2 L1886.6,-14.1 L1886.6,-16.0 L1886.5,-17.9 L1886.4,-19.7 L1886.4,-21.6 L1886.3,-23.5 L1886.2,-25.4 L1886.1,-27.3 L1886.1,-29.2 L1886.0,-31.1 L1885.9,-33.0 L1885.8,-34.9 L1885.8,-36.8 L1885.7,-38.8 L1885.6,-40.7 L1885.5,-42.6 L1885.5,-44.5 L1885.4,-46.4 L1885.3,-48.4 L1885.2,-50.3 L1885.2,-52.2 L1885.1,-54.2 L1885.0,-56.1 L1884.9,-58.0 L1884.9,-59.9 L1884.8,-61.9 L1884.7,-63.8 L1884.7,-65.7 L1884.6,-67.6 L1884.5,-69.5 L1884.5,-71.4 L1884.4,-73.4 L1884.3,-75.3 L1884.3,-77.2 L1884.2,-79.1 L1884.1,-81.0 L1884.1,-82.9 L1884.0,-84.8 L1884.0,-86.6 L1883.9,-88.5 L1883.9,-90.4 L1883.8,-92.3 L1883.8,-94.1 L1883.7,-96.0 L1883.7,-97.8 L1883.6,-99.7 L1883.6,-101.5 L1883.5,-103.3 L1883.5,-105.2 L1883.5,-107.0 L1883.4,-108.8 L1883.4,-110.6 L1883.3,-112.4 L1883.3,-114.1 L1883.3,-115.9 L1883.3,-117.7 L1883.2,-119.4 L1883.2,-121.2 L1883.2,-122.9 L1883.2,-124.6 L1883.2,-126.3 L1883.2,-128.0 L1883.2,-129.7 L1883.2,-131.4 L1883.2,-133.0 L1883.2,-134.7 L1883.2,-136.3 L1883.2,-137.9 L1883.2,-139.5 L1883.2,-141.1 L1883.2,-142.7 L1883.2,-144.3 L1883.2,-145.8 L1883.3,-147.3 L1883.3,-148.9 L1883.3,-150.4 L1883.4,-151.8 L1883.4,-153.3 L1883.4,-154.8 L1883.5,-156.2 L1883.5,-157.6 L1883.6,-159.0 L1883.7,-160.4 L1883.7,-161.8 L1883.8,-163.1 L1883.8,-164.5 L1883.9,-165.8 L1884.0,-167.1 L1884.1,-168.4 L1884.2,-169.6 L1884.3,-170.9 L1884.3,-172.1 L1884.4,-173.3 L1884.5,-174.4 L1884.7,-175.6 L1884.8,-176.7 L1884.9,-177.8 L1885.0,-178.9 L1885.1,-180.0 L1885.3,-181.0 L1885.4,-182.1 L1885.5,-183.1 L1885.7,-184.0 L1885.8,-185.0 L1886.0,-185.9 L1886.1,-186.8 L1886.3,-187.7 L1886.5,-188.6 L1886.6,-189.4 L1886.8,-190.2 L1887.0,-191.0 L1887.2,-191.7 L1887.4,-192.4 L1887.6,-193.1 L1887.8,-193.8 L1888.0,-194.5 L1888.2,-195.1 L1888.4,-195.7 L1888.7,-196.2 L1888.9,-196.8 L1889.2,-197.3 L1889.4,-197.8 L1889.6,-198.2 L1889.9,-198.6 L1890.2,-199.0 L1890.4,-199.4 L1890.7,-199.7 L1891.0,-200.0 L1892.4,-201.1 L1893.9,-202.0 L1895.5,-202.5 L1897.1,-202.8 L1898.8,-202.8 L1900.5,-202.5 L1902.1,-202.0 L1903.6,-201.1 L1905.0,-200.0 L1905.3,-199.7 L1905.6,-199.4 L1905.8,-199.0 L1906.1,-198.6 L1906.4,-198.2 L1906.6,-197.8 L1906.9,-197.3 L1907.1,-196.8 L1907.3,-196.3 L1907.6,-195.7 L1907.8,-195.1 L1908.0,-194.5 L1908.2,-193.9 L1908.4,-193.2 L1908.6,-192.5 L1908.8,-191.8 L1909.0,-191.1 L1909.2,-190.3 L1909.4,-189.5 L1909.5,-188.7 L1909.7,-187.8 L1909.9,-187.0 L1910.0,-186.1 L1910.2,-185.2 L1910.3,-184.2 L1910.5,-183.3 L1910.6,-182.3 L1910.7,-181.3 L1910.9,-180.2 L1911.0,-179.2 L1911.1,-178.1 L1911.2,-177.0 L1911.3,-175.9 L1911.4,-174.8 L1911.5,-173.6 L1911.6,-172.4 L1911.7,-171.2 L1911.8,-170.0 L1911.9,-168.8 L1912.0,-167.5 L1912.0,-166.2 L1912.1,-164.9 L1912.2,-163.6 L1912.2,-162.3 L1912.3,-161.0 L1912.4,-159.6 L1912.4,-158.2 L1912.5,-156.8 L1912.5,-155.4 L1912.5,-153.9 L1912.6,-152.5 L1912.6,-151.0 L1912.6,-149.5 L1912.7,-148.0 L1912.7,-146.5 L1912.7,-145.0 L1912.7,-143.5 L1912.8,-141.9 L1912.8,-140.3 L1912.8,-138.7 L1912.8,-137.1 L1912.8,-135.5 L1912.8,-133.9 L1912.8,-132.3 L1912.8,-130.6 L1912.8,-128.9 L1912.8,-127.3 L1912.7,-125.6 L1912.7,-123.9 L1912.7,-122.2 L1912.7,-120.5 L1912.7,-118.7 L1912.6,-117.0 L1912.6,-115.2 L1912.6,-113.5 L1912.5,-111.7 L1912.5,-109.9 L1912.5,-108.1 L1912.4,-106.4 L1912.4,-104.5 L1912.4,-102.7 L1912.3,-100.9 L1912.3,-99.1 L1912.2,-97.3 L1912.2,-95.4 L1912.1,-93.6 L1912.1,-91.7 L1912.0,-89.9 L1912.0,-88.0 L1911.9,-86.1 L1911.9,-84.2 L1911.8,-82.4 L1911.7,-80.5 L1911.7,-78.6 L1911.6,-76.7 L1911.6,-74.8 L1911.5,-72.9 L1911.4,-71.0 L1911.4,-69.1 L1911.3,-67.2 L1911.2,-65.3 L1911.2,-63.4 L1911.1,-61.4 L1911.1,-59.5 L1911.0,-57.6 L1910.9,-55.7 L1910.8,-53.8 L1910.8,-51.8 L1910.7,-49.9 L1910.6,-48.0 L1910.6,-46.1 L1910.5,-44.2 L1910.4,-42.2 L1910.4,-40.3 L1910.3,-38.4 L1910.2,-36.5 L1910.2,-34.6 L1910.1,-32.7 L1910.0,-30.8 L1910.0,-28.9 L1909.9,-27.0 L1909.8,-25.1 L1909.8,-23.2 L1909.7,-21.3 L1909.7,-19.4 L1909.6,-17.5 L1909.5,-15.6 L1909.5,-13.8 L1909.4,-11.9 L1909.4,-10.0 L1909.3,-8.2 L1909.2,-6.3 L1909.2,-4.5 L1909.1,-2.7 L1909.1,-0.8 L1909.0,1.0 L1909.0,2.8 L1908.9,4.6 L1908.9,6.4 L1908.8,8.2 L1908.8,10.0 L1908.8,11.7 L1908.7,13.5 L1908.7,15.3 L1908.6,17.0 L1908.6,18.7 L1908.6,20.5 L1908.6,22.2 L1908.5,23.9 L1908.5,25.6 L1908.5,27.2 L1908.5,28.9 L1908.4,30.6 L1908.4,32.2 L1908.4,33.8 L1908.4,35.4 L1908.4,37.0 L1908.4,38.6 L1908.4,40.2 L1908.4,41.8 L1908.4,43.3 L1908.4,44.8 L1908.4,46.4 L1908.4,47.9 L1908.4,49.4 L1908.4,50.8 L1908.5,52.3 L1908.5,53.7 L1908.5,55.1 L1908.5,56.5 L1908.6,57.9 L1908.6,59.3 L1908.7,60.7 L1908.7,62.0 L1908.8,63.7 L1908.8,65.4 L1908.9,67.1 L1908.9,68.8 L1909.0,70.5 L1909.1,72.2 L1909.1,74.0 L1909.2,75.7 L1909.3,77.4 L1909.4,79.2 L1909.4,80.9 L1909.5,82.6 L1909.6,84.4 L1909.6,86.1 L1909.7,87.9 L1909.8,89.7 L1909.9,91.4 L1910.0,93.2 L1910.0,94.9 L1910.1,96.7 L1910.2,98.5 L1910.3,100.2 L1910.4,102.0 L1910.4,103.8 L1910.5,105.5 L1910.6,107.3 L1910.7,109.1 L1910.8,110.8 L1910.9,112.6 L1911.0,114.4 L1911.1,116.1 L1911.1,117.9 L1911.2,119.6 L1911.3,121.4 L1911.4,123.1 L1911.5,124.9 L1911.6,126.6 L1911.7,128.4 L1911.8,130.1 L1911.9,131.8 L1912.0,133.6 L1912.1,135.3 L1912.2,137.0 L1912.3,138.7 L1912.4,140.4 L1912.4,142.1 L1912.5,143.8 L1912.6,145.5 L1912.7,147.2 L1912.8,148.9 L1912.9,150.6 L1913.0,152.2 L1913.1,153.9 L1913.2,155.5 L1913.3,157.2 L1913.4,158.8 L1913.5,160.4 L1913.6,162.0 L1913.7,163.6 L1913.8,165.2 L1913.9,166.8 L1914.0,168.4 L1914.1,169.9 L1914.2,171.5 L1914.3,173.0 L1914.4,174.6 L1914.5,176.1 L1914.6,177.6 L1914.6,179.1 L1914.7,180.6 L1914.8,182.0 L1914.9,183.5 L1915.0,184.9 L1915.1,186.3 L1915.2,187.8 L1915.3,189.2 L1915.4,190.5 L1915.5,191.9 L1915.6,193.3 L1915.7,194.6 L1915.7,195.9 L1915.8,197.3 L1915.9,198.5 L1916.0,199.8 L1916.1,201.1 L1916.2,202.3 L1916.3,203.6 L1916.3,204.8 L1916.4,206.0 L1916.5,207.1 L1916.6,208.3 L1916.7,209.4 L1916.7,210.5 L1916.8,211.6 L1916.9,212.7 L1917.0,213.8 L1917.0,214.8 L1917.1,215.9 L1917.2,216.9 L1917.3,217.8 L1917.3,218.8 L1917.4,219.7 L1917.5,220.6 L1917.5,221.5 L1917.6,222.4 L1917.7,223.3 L1917.7,224.1 L1917.8,224.9 L1918.0,227.2 L1918.1,229.2 L1918.3,231.1 L1918.4,232.9 L1918.5,234.6 L1918.7,236.1 L1918.8,237.6 L1919.0,239.0 L1919.1,240.3 L1919.3,241.6 L1919.4,243.0 L1919.6,244.3 L1919.9,245.6 L1920.2,247.4 L1920.4,249.2 L1920.7,251.0 L1921.0,252.7 L1921.3,254.3 L1921.7,255.7 L1922.3,257.0 L1923.0,258.1 L1924.3,259.2 L1925.9,260.0 L1927.6,260.5 L1929.2,261.2 L1930.6,261.9 L1932.0,262.5 L1933.3,263.3 L1934.4,264.3 L1935.3,265.6 L1936.0,267.2 L1936.5,268.9 L1937.0,270.7 L1937.5,272.6 L1937.8,274.0 L1938.1,275.5 L1938.4,277.0 L1938.6,278.6 L1938.8,280.3 L1939.0,281.9 L1939.2,283.6 L1939.4,285.4 L1939.6,287.1 L1939.8,288.6 L1939.9,290.1 L1940.1,291.6 L1940.3,293.2 L1940.4,294.8 L1940.6,296.4 L1940.7,298.0 L1940.9,299.7 L1941.0,301.3 L1941.2,303.0 L1941.4,304.6 L1941.5,306.2 L1941.7,307.9 L1941.8,309.4 L1941.9,310.9 L1942.1,312.4 L1942.2,313.9 L1942.4,315.4 L1942.5,316.9 L1942.7,318.4 L1942.8,319.9 L1943.0,321.4 L1943.1,323.0 L1943.3,324.5 L1943.4,326.1 L1943.5,327.6 L1943.6,329.2 L1943.7,330.7 L1943.8,332.2 L1943.9,333.8 L1944.0,335.3 L1944.0,336.9 L1944.1,338.5 L1944.2,340.1 L1944.2,341.6 L1944.2,343.2 L1944.3,344.8 L1944.3,346.4 L1944.4,348.0 L1944.4,349.5 L1944.5,351.1 L1944.6,352.6 L1944.7,354.1 L1944.8,355.6 L1944.9,357.3 L1945.0,358.9 L1945.2,360.5 L1945.3,362.1 L1945.5,363.7 L1945.7,365.3 L1945.8,366.9 L1946.0,368.5 L1946.2,370.0 L1946.3,371.6 L1946.5,373.2 L1946.7,374.8 L1946.8,376.3 L1947.0,377.9 L1947.1,379.5 L1947.3,381.1 L1947.4,382.7 L1947.6,384.3 L1947.7,385.9 L1947.8,387.5 L1948.0,389.1 L1948.1,390.7 L1948.3,392.3 L1948.5,393.9 L1948.7,395.5 L1948.9,397.1 L1949.2,398.6 L1949.4,400.1 L1949.7,401.7 L1949.9,403.2 L1950.2,404.7 L1950.5,406.3 L1950.8,407.8 L1951.1,409.3 L1951.4,410.8 L1951.7,412.3 L1952.1,413.8 L1952.4,415.2 L1952.7,416.5 L1953.1,417.8 L1953.5,419.6 L1954.0,421.2 L1954.4,422.8 L1954.9,424.4 L1955.4,425.9 L1956.0,427.3 L1956.6,428.8 L1957.2,430.3 L1957.9,431.6 L1958.6,433.0 L1959.3,434.4 L1960.1,435.7 L1960.9,437.0 L1961.8,438.3 L1962.6,439.5 L1963.6,440.6 L1964.5,441.7 L1965.8,443.0 L1967.1,444.1 L1968.5,445.2 L1969.9,446.1 L1971.3,447.0 L1972.8,447.9 L1974.1,448.7 L1975.4,449.5 L1976.7,450.2 L1978.1,450.8 L1979.5,451.5 L1981.1,452.1 L1982.5,452.6 L1984.0,453.0 L1985.5,453.5 L1987.1,453.9 L1988.7,454.3 L1990.4,454.7 L1992.1,455.0 L1993.8,455.3 L1995.6,455.6 L1997.1,455.8 L1998.6,455.9 L2000.1,456.0 L2001.7,456.1 L2003.3,456.2 L2004.9,456.2 L2006.5,456.2 L2008.2,456.2 L2009.8,456.2 L2011.5,456.2 L2013.1,456.2 L2014.7,456.2 L2016.3,456.2 L2018.0,456.2 L2019.6,456.2 L2021.3,456.2 L2023.0,456.2 L2024.7,456.2 L2026.3,456.2 L2028.0,456.2 L2029.6,456.1 L2031.3,456.1 L2032.8,456.0 L2034.3,455.9 L2035.7,455.8 L2037.1,455.6 L2038.8,455.4 L2040.3,455.1 L2041.8,454.8 L2043.2,454.4 L2044.6,454.1 L2046.0,453.6 L2047.5,453.1 L2049.0,452.5 L2050.5,451.9 L2052.0,451.2 L2053.5,450.5 L2055.0,449.7 L2056.4,448.9 L2057.8,447.9 L2059.1,447.1 L2060.3,446.1 L2061.5,445.1 L2062.7,444.1 L2063.9,443.0 L2065.0,441.9 L2066.2,440.8 L2067.2,439.7 L2068.2,438.6 L2069.4,437.2 L2070.5,435.9 L2071.4,434.6 L2072.4,433.2 L2073.4,431.8 L2074.4,430.3 L2075.3,429.0 L2076.2,427.6 L2077.2,426.2 L2078.1,424.7 L2079.0,423.3 L2080.0,421.8 L2080.9,420.4 L2081.8,419.1 L2082.7,417.8 L2083.8,416.4 L2084.7,415.1 L2085.7,413.8 L2086.7,412.6 L2087.8,411.5 L2089.0,410.6 L2090.5,409.7 L2092.1,409.1 L2093.8,408.5 L2095.6,408.0 L2097.3,407.5 L2099.0,406.7 L2100.7,405.8 L2102.4,405.0 L2104.0,404.4 L2105.6,404.4 L2106.9,404.9 L2108.2,405.8 L2109.4,406.9 L2110.6,408.2 L2111.8,409.5 L2112.9,410.8 L2113.9,412.2 L2114.9,413.6 L2115.9,415.1 L2116.9,416.5 L2118.0,417.8 L2119.2,419.3 L2120.3,420.7 L2121.4,422.0 L2122.7,423.2 L2124.2,424.1 L2125.6,424.5 L2127.1,424.8 L2128.7,425.1 L2130.5,425.2 L2132.3,425.2 L2134.0,425.1 L2135.7,424.8 L2137.3,424.5 L2138.8,424.1 L2140.1,423.4 L2141.4,422.6 L2142.5,421.6 L2143.6,420.5 L2144.7,419.3 L2145.8,418.0 L2147.1,416.8 L2148.0,415.8 L2149.1,414.8 L2150.1,413.8 L2151.2,412.7 L2152.3,411.5 L2153.4,410.4 L2154.5,409.2 L2155.5,408.0 L2156.6,406.8 L2157.6,405.6 L2158.6,404.5 L2159.5,403.3 L2160.5,401.9 L2161.5,400.6 L2162.5,399.2 L2163.4,397.8 L2164.3,396.4 L2165.1,395.0 L2166.0,393.6 L2166.9,392.3 L2167.8,390.9 L2168.7,389.4 L2169.6,387.9 L2170.6,386.4 L2171.5,384.8 L2172.4,383.3 L2173.3,381.9 L2174.3,380.6 L2175.2,379.4 L2176.1,378.4 L2177.4,377.2 L2178.7,376.2 L2180.0,375.6 L2181.3,375.3 L2182.6,375.6 L2183.9,376.3 L2185.2,377.3 L2186.5,378.4 L2187.5,379.5 L2188.6,380.8 L2189.6,382.3 L2190.6,383.8 L2191.7,385.3 L2192.7,386.7 L2193.7,388.1 L2194.7,389.5 L2195.7,390.9 L2196.7,392.3 L2197.8,393.7 L2198.9,395.0 L2200.0,396.2 L2201.1,397.4 L2202.2,398.6 L2203.4,399.8 L2204.6,400.9 L2205.9,402.1 L2207.2,403.3 L2208.3,404.4 L2209.5,405.5 L2210.7,406.6 L2212.0,407.8 L2213.2,408.9 L2214.5,410.0 L2215.8,411.1 L2217.1,412.1 L2218.4,412.9 L2219.7,413.7 L2221.1,414.4 L2222.6,415.1 L2224.1,415.7 L2225.6,416.2 L2227.1,416.5 L2228.6,416.7 L2230.0,416.8 L2231.5,416.7 L2233.1,416.4 L2234.6,415.9 L2236.2,415.4 L2237.7,414.8 L2239.1,414.2 L2240.4,413.7 L2242.1,413.0 L2243.6,412.3 L2245.0,411.6 L2246.6,411.2 L2248.2,411.1 L2249.8,411.2 L2251.5,411.4 L2253.2,411.6 L2254.9,411.6 L2256.4,411.5 L2257.9,411.3 L2259.4,411.1 L2260.9,410.8 L2262.4,410.4 L2263.9,410.0 L2265.3,409.5 L2266.7,408.9 L2268.1,408.0 L2269.5,407.0 L2270.9,406.0 L2272.2,405.2 L2273.5,404.6 L2274.6,404.4 L2276.0,404.7 L2277.3,405.4 L2278.5,406.4 L2279.8,407.5 L2280.9,408.4 L2282.0,409.6 L2283.2,410.9 L2284.3,412.3 L2285.6,413.6 L2286.8,414.8 L2288.1,415.8 L2289.5,416.6 L2290.9,417.2 L2292.4,417.8 L2293.9,418.3 L2295.5,418.8 L2297.0,419.4 L2298.5,419.9 L2300.0,420.5 L2301.5,421.2 L2303.0,421.9 L2304.5,422.5 L2306.0,423.1 L2307.4,423.6 L2308.9,424.1 L2310.6,424.4 L2312.2,424.6 L2313.9,424.7 L2315.5,424.9 L2317.2,425.1 L2318.9,425.4 L2320.9,425.9 L2323.0,426.3 L2324.8,426.8 L2326.0,427.1 L2326.5,427.2" fill="none" stroke="#000000" stroke-width="4.0" stroke-linejoin="round" stroke-linecap="butt" clip-path="url(#cr)" />
<path d="M920.7,437.4 L921.1,437.7 L921.9,438.3 L923.1,439.2 L924.6,440.3 L926.3,441.6 L928.0,442.8 L929.7,444.1 L931.1,445.1 L932.4,446.0 L933.7,446.9 L935.1,447.8 L936.4,448.7 L937.7,449.6 L939.0,450.5 L940.3,451.4 L941.5,452.4 L942.7,453.4 L943.9,454.6 L945.1,455.7 L946.2,456.9 L947.4,457.9 L948.6,458.9 L949.8,459.6 L951.4,460.3 L953.0,460.8 L954.6,461.2 L956.3,461.5 L958.1,461.7 L959.5,461.8 L961.0,461.9 L962.6,462.0 L964.2,462.0 L965.8,462.0 L967.4,461.9 L969.0,461.8 L970.5,461.7 L972.1,461.5 L973.7,461.3 L975.3,461.1 L976.8,460.8 L978.4,460.5 L980.0,460.2 L981.5,459.9 L983.0,459.6 L984.8,459.3 L986.5,459.0 L988.2,458.6 L989.9,458.4 L991.6,458.2 L993.4,458.2 L994.8,458.4 L996.3,458.7 L997.8,459.2 L999.3,459.6 L1000.8,460.1 L1002.2,460.5 L1003.7,460.7 L1005.5,460.7 L1007.2,460.7 L1009.0,460.6 L1010.7,460.4 L1012.4,460.1 L1014.1,459.6 L1015.4,459.1 L1016.8,458.5 L1018.1,457.8 L1019.4,457.0 L1020.7,456.1 L1022.0,455.2 L1023.2,454.3 L1024.5,453.4 L1025.7,452.5 L1026.8,451.5 L1028.0,450.5 L1029.1,449.4 L1030.3,448.3 L1031.4,447.2 L1032.5,446.1 L1033.7,445.1 L1034.9,444.1 L1036.1,443.0 L1037.4,441.9 L1038.7,440.8 L1040.0,439.8 L1041.3,438.7 L1042.6,437.7 L1043.9,436.7 L1045.2,435.8 L1046.5,434.9 L1047.8,434.0 L1049.1,433.1 L1050.4,432.3 L1051.7,431.5 L1053.0,430.8 L1054.3,430.1 L1055.6,429.5 L1057.3,428.9 L1058.9,428.3 L1060.6,427.9 L1062.2,427.6 L1063.9,427.5 L1065.5,427.6 L1067.2,428.0 L1068.8,428.5 L1070.5,429.0 L1072.2,429.5 L1073.6,429.9 L1075.1,430.3 L1076.6,430.8 L1078.1,431.2 L1079.6,431.7 L1081.1,432.2 L1082.6,432.7 L1084.1,433.2 L1085.5,433.9 L1087.0,434.6 L1088.5,435.3 L1090.0,435.9 L1091.4,436.4 L1092.9,436.8 L1094.7,437.0 L1096.5,437.0 L1098.3,436.8 L1100.1,436.7 L1101.8,436.6 L1103.3,436.8 L1105.0,437.4 L1106.5,438.3 L1108.0,439.1 L1109.5,439.5 L1111.1,439.4 L1112.8,439.0 L1114.5,438.3 L1116.2,437.6 L1117.8,436.8 L1119.3,436.1 L1120.7,435.3 L1122.1,434.5 L1123.4,433.6 L1124.8,432.6 L1126.1,431.6 L1127.4,430.6 L1128.6,429.5 L1129.9,428.4 L1131.1,427.2 L1132.2,425.9 L1133.4,424.6 L1134.4,423.3 L1135.3,422.1 L1136.2,420.9 L1137.0,419.6 L1137.7,418.3 L1138.5,417.0 L1139.2,415.7 L1139.9,414.3 L1140.7,412.9 L1141.4,411.6 L1142.1,410.3 L1142.8,408.9 L1143.6,407.5 L1144.3,406.1 L1145.0,404.7 L1145.6,403.3 L1146.3,401.9 L1146.9,400.5 L1147.5,399.0 L1148.1,397.4 L1148.6,395.9 L1149.1,394.4 L1149.6,392.8 L1150.1,391.2 L1150.5,389.7 L1151.0,388.0 L1151.5,386.6 L1151.9,385.2 L1152.3,383.8 L1152.7,382.3 L1153.1,380.9 L1153.5,379.4 L1154.0,377.9 L1154.4,376.5 L1154.8,375.0 L1155.2,373.5 L1155.6,372.1 L1156.0,370.6 L1156.4,369.2 L1156.8,367.7 L1157.3,366.3 L1157.7,364.8 L1158.1,363.4 L1158.5,361.9 L1158.9,360.5 L1159.3,359.0 L1159.7,357.5 L1160.2,356.1 L1160.6,354.6 L1161.0,353.1 L1161.4,351.7 L1161.8,350.2 L1162.2,348.7 L1162.6,347.3 L1163.1,345.9 L1163.5,344.5 L1164.0,342.9 L1164.5,341.3 L1165.0,339.7 L1165.5,338.1 L1166.0,336.6 L1166.6,335.0 L1167.1,333.5 L1167.6,332.0 L1168.2,330.5 L1168.8,328.9 L1169.4,327.4 L1169.9,325.9 L1170.5,324.4 L1171.2,323.0 L1171.8,321.7 L1172.6,319.9 L1173.3,318.1 L1174.1,316.4 L1175.0,315.1 L1175.9,314.4 L1177.3,314.5 L1178.7,315.3 L1180.1,316.5 L1181.0,317.6 L1181.9,318.9 L1182.7,320.4 L1183.5,322.0 L1184.2,323.7 L1184.8,325.1 L1185.4,326.6 L1185.9,328.1 L1186.4,329.7 L1186.9,331.4 L1187.4,333.0 L1187.9,334.6 L1188.4,336.2 L1188.9,337.7 L1189.4,339.3 L1189.9,340.9 L1190.4,342.4 L1190.9,344.0 L1191.4,345.5 L1192.0,347.1 L1192.5,348.6 L1193.1,350.2 L1193.8,351.7 L1194.5,353.2 L1195.2,354.7 L1195.9,356.3 L1196.6,357.8 L1197.2,359.4 L1197.7,361.1 L1198.1,362.5 L1198.5,363.9 L1198.8,365.4 L1199.1,366.9 L1199.3,368.4 L1199.6,370.0 L1199.8,371.5 L1200.1,373.1 L1200.3,374.6 L1200.6,376.2 L1200.8,377.7 L1201.1,379.2 L1201.3,380.8 L1201.6,382.3 L1201.8,383.9 L1202.1,385.5 L1202.3,387.0 L1202.6,388.6 L1202.8,390.1 L1203.2,391.5 L1203.5,392.9 L1203.9,394.3 L1204.6,395.9 L1205.3,397.4 L1206.1,398.9 L1206.9,400.3 L1207.7,401.7 L1208.4,403.2 L1209.1,404.6 L1209.7,406.0 L1210.2,407.5 L1210.8,408.9 L1211.3,410.4 L1211.7,411.8 L1212.2,413.3 L1212.7,414.7 L1213.3,416.1 L1213.9,417.7 L1214.5,419.4 L1215.1,421.0 L1215.7,422.6 L1216.5,424.0 L1217.4,425.4 L1218.6,426.6 L1219.9,427.7 L1221.3,428.7 L1222.8,429.7 L1224.3,430.6 L1225.7,431.6 L1227.1,432.7 L1228.4,433.9 L1229.7,435.1 L1231.1,436.2 L1232.5,437.1 L1234.0,437.8 L1235.7,438.3 L1237.5,438.4 L1239.3,438.4 L1241.1,438.3 L1242.8,438.5 L1244.4,438.9 L1245.7,439.7 L1246.9,440.9 L1247.9,442.1 L1249.1,443.2 L1250.6,444.1 L1251.8,444.4 L1253.2,444.6 L1254.7,444.7 L1256.3,444.7 L1258.0,444.7 L1259.7,444.6 L1261.4,444.5 L1263.0,444.4 L1264.6,444.3 L1266.0,444.4 L1267.2,444.5 L1269.0,444.8 L1270.4,445.3 L1271.8,445.8 L1273.4,446.1 L1275.0,446.3 L1276.7,446.3 L1278.5,446.3 L1280.3,446.3 L1282.1,446.3 L1283.8,446.6 L1285.3,446.9 L1286.8,447.5 L1288.3,448.1 L1289.7,448.7 L1291.2,449.4 L1292.7,449.9 L1294.2,450.3 L1295.9,450.5 L1297.6,450.5 L1299.4,450.5 L1301.1,450.5 L1302.8,450.5 L1304.6,450.7 L1306.0,451.1 L1307.5,451.6 L1308.9,452.2 L1310.3,452.8 L1311.8,453.4 L1313.3,454.0 L1314.9,454.4 L1316.3,454.7 L1317.8,454.9 L1319.4,455.1 L1321.0,455.2 L1322.7,455.3 L1324.3,455.4 L1326.0,455.5 L1327.5,455.7 L1329.0,455.9 L1330.3,456.2 L1331.5,456.5 L1333.4,457.5 L1334.9,458.8 L1336.3,460.0 L1337.8,460.7 L1339.3,460.6 L1340.8,460.2 L1342.4,459.7 L1344.0,459.6 L1345.3,459.9 L1346.6,460.5 L1347.9,461.3 L1349.3,462.0 L1350.7,462.7 L1352.3,463.2 L1353.7,463.4 L1355.1,463.5 L1356.6,463.5 L1358.1,463.5 L1359.7,463.4 L1361.4,463.3 L1363.1,463.2 L1364.9,463.2 L1366.8,463.2 L1368.0,463.2 L1369.3,463.2 L1370.7,463.2 L1372.1,463.3 L1373.6,463.4 L1375.1,463.5 L1376.6,463.6 L1378.2,463.6 L1379.8,463.7 L1381.4,463.8 L1383.0,463.9 L1384.6,463.9 L1386.3,464.0 L1387.9,464.0 L1389.5,464.0 L1391.1,464.0 L1392.7,463.9 L1394.2,463.9 L1395.7,463.7 L1397.2,463.6 L1398.6,463.4 L1400.0,463.2 L1401.6,462.8 L1403.1,462.4 L1404.7,461.9 L1406.2,461.4 L1407.8,460.8 L1409.3,460.2 L1410.7,459.5 L1412.2,458.8 L1413.6,458.2 L1415.0,457.5 L1416.4,456.8 L1417.7,456.2 L1419.0,455.6 L1420.2,455.0 L1421.4,454.4 L1422.6,453.9 L1424.3,453.3 L1425.9,452.7 L1427.4,452.2 L1428.8,451.7 L1430.2,451.1 L1431.6,450.5 L1433.0,449.8 L1434.3,449.0 L1435.7,448.2 L1437.0,447.4 L1438.4,446.5 L1439.7,445.6 L1440.9,444.6 L1442.2,443.6 L1443.4,442.5 L1444.5,441.4 L1445.7,440.2 L1446.8,439.0 L1447.9,437.8 L1448.9,436.5 L1449.9,435.1 L1450.8,433.7 L1451.7,432.2 L1452.3,430.8 L1452.9,429.5 L1453.5,428.0 L1454.0,426.5 L1454.4,425.0 L1454.9,423.4 L1455.3,421.8 L1455.7,420.2 L1456.1,418.7 L1456.5,417.1 L1456.8,415.6 L1457.2,414.1 L1457.5,412.6 L1457.8,411.1 L1458.1,409.6 L1458.4,408.1 L1458.7,406.6 L1458.9,405.1 L1459.2,403.6 L1459.4,402.1 L1459.7,400.5 L1460.0,399.0 L1460.2,397.4 L1460.5,395.9 L1460.7,394.4 L1461.0,392.8 L1461.2,391.2 L1461.5,389.7 L1461.7,388.1 L1462.0,386.4 L1462.2,384.8 L1462.4,383.2 L1462.7,381.5 L1462.9,379.9 L1463.1,378.2 L1463.2,376.7 L1463.4,375.2 L1463.5,373.7 L1463.7,372.2 L1463.8,370.6 L1464.0,369.1 L1464.1,367.5 L1464.2,366.0 L1464.3,364.4 L1464.4,362.8 L1464.5,361.3 L1464.7,359.7 L1464.8,358.1 L1464.9,356.5 L1465.0,354.9 L1465.1,353.3 L1465.3,351.9 L1465.4,350.4 L1465.5,348.9 L1465.6,347.4 L1465.7,346.0 L1465.8,344.5 L1466.0,343.0 L1466.1,341.5 L1466.2,340.0 L1466.3,338.5 L1466.4,337.0 L1466.5,335.5 L1466.7,334.0 L1466.8,332.5 L1466.9,331.0 L1467.0,329.4 L1467.1,327.9 L1467.2,326.3 L1467.3,324.8 L1467.4,323.3 L1467.5,321.8 L1467.6,320.3 L1467.7,318.7 L1467.9,317.1 L1468.0,315.6 L1468.1,314.0 L1468.2,312.4 L1468.3,310.9 L1468.4,309.3 L1468.5,307.7 L1468.6,306.1 L1468.7,304.6 L1468.8,303.0 L1468.9,301.4 L1469.0,299.9 L1469.1,298.3 L1469.2,296.8 L1469.3,295.2 L1469.4,293.7 L1469.5,292.1 L1469.6,290.6 L1469.7,289.0 L1469.8,287.5 L1469.9,285.9 L1470.1,284.4 L1470.2,282.9 L1470.3,281.3 L1470.4,279.8 L1470.5,278.3 L1470.6,276.8 L1470.7,275.2 L1470.8,273.7 L1470.9,272.2 L1471.0,270.7 L1471.1,269.2 L1471.3,267.7 L1471.4,266.2 L1471.5,264.7 L1471.6,263.1 L1471.7,261.6 L1471.8,260.1 L1471.9,258.6 L1472.0,257.0 L1472.2,255.5 L1472.3,254.0 L1472.4,252.5 L1472.5,251.0 L1472.6,249.5 L1472.7,248.0 L1472.9,246.5 L1473.0,245.0 L1473.1,243.6 L1473.2,242.1 L1473.3,240.7 L1473.4,239.2 L1473.6,237.6 L1473.7,236.0 L1473.8,234.4 L1473.9,232.8 L1474.1,231.2 L1474.2,229.7 L1474.3,228.1 L1474.4,226.5 L1474.6,225.0 L1474.7,223.5 L1474.8,222.0 L1475.0,220.5 L1475.2,219.1 L1475.3,217.7 L1475.5,216.4 L1475.8,214.6 L1476.0,212.6 L1476.3,210.6 L1476.6,208.7 L1476.9,206.9 L1477.2,205.3 L1477.5,204.0 L1477.9,203.2 L1478.2,202.9 L1478.7,203.3 L1479.2,204.6 L1479.8,206.3 L1480.3,208.2 L1480.7,210.2 L1481.0,211.4 L1481.2,212.7 L1481.4,214.1 L1481.6,215.6 L1481.7,217.2 L1481.9,218.8 L1482.0,220.4 L1482.2,222.1 L1482.3,223.8 L1482.5,225.5 L1482.6,227.2 L1482.8,228.8 L1482.9,230.3 L1483.1,231.8 L1483.2,233.2 L1483.3,234.7 L1483.4,236.3 L1483.6,237.8 L1483.7,239.3 L1483.8,240.9 L1483.9,242.5 L1484.0,244.0 L1484.2,245.6 L1484.3,247.2 L1484.4,248.8 L1484.6,250.5 L1484.7,252.1 L1484.9,253.7 L1485.0,255.2 L1485.1,256.7 L1485.3,258.2 L1485.4,259.7 L1485.6,261.3 L1485.7,262.8 L1485.9,264.4 L1486.0,265.9 L1486.2,267.5 L1486.4,269.1 L1486.5,270.7 L1486.7,272.2 L1486.8,273.8 L1487.0,275.4 L1487.2,277.0 L1487.3,278.6 L1487.5,280.2 L1487.7,281.7 L1487.8,283.3 L1488.0,284.9 L1488.1,286.4 L1488.3,288.0 L1488.4,289.5 L1488.6,291.1 L1488.7,292.6 L1488.9,294.2 L1489.1,295.7 L1489.2,297.3 L1489.4,298.9 L1489.5,300.4 L1489.7,302.0 L1489.8,303.5 L1490.0,305.1 L1490.1,306.6 L1490.3,308.2 L1490.5,309.8 L1490.6,311.3 L1490.8,312.9 L1490.9,314.4 L1491.1,316.0 L1491.2,317.5 L1491.4,319.1 L1491.5,320.7 L1491.7,322.2 L1491.9,323.8 L1492.0,325.4 L1492.2,327.0 L1492.3,328.5 L1492.5,330.1 L1492.6,331.7 L1492.8,333.2 L1492.9,334.8 L1493.1,336.4 L1493.2,337.9 L1493.4,339.5 L1493.6,341.0 L1493.7,342.5 L1493.9,344.1 L1494.0,345.6 L1494.2,347.1 L1494.4,348.6 L1494.5,350.2 L1494.7,351.7 L1494.8,353.3 L1495.0,354.8 L1495.2,356.4 L1495.3,357.9 L1495.5,359.4 L1495.6,360.9 L1495.8,362.4 L1496.0,363.9 L1496.1,365.4 L1496.3,366.9 L1496.5,368.4 L1496.7,369.8 L1496.9,371.2 L1497.1,372.7 L1497.3,374.1 L1497.6,375.6 L1497.8,377.2 L1498.1,378.7 L1498.4,380.3 L1498.7,381.8 L1499.0,383.3 L1499.3,384.8 L1499.6,386.2 L1499.9,387.7 L1500.2,389.1 L1500.5,390.6 L1500.8,392.0 L1501.1,393.4 L1501.5,394.8 L1501.8,396.4 L1502.2,398.0 L1502.5,399.6 L1502.9,401.3 L1503.2,402.8 L1503.6,404.4 L1504.0,405.9 L1504.3,407.4 L1504.7,408.8 L1505.2,410.1 L1505.6,411.4 L1506.2,413.0 L1506.9,414.6 L1507.5,416.1 L1508.2,417.4 L1509.0,418.6 L1509.8,419.7 L1511.1,421.2 L1512.5,422.4 L1513.9,422.8 L1515.0,422.3 L1516.1,421.0 L1517.1,419.4 L1518.0,417.6 L1518.6,416.5 L1519.0,415.3 L1519.5,413.9 L1519.9,412.5 L1520.3,411.0 L1520.7,409.4 L1521.1,407.9 L1521.4,406.3 L1521.8,404.7 L1522.2,403.1 L1522.6,401.6 L1522.9,400.0 L1523.3,398.4 L1523.6,396.7 L1523.9,395.1 L1524.3,393.4 L1524.6,391.7 L1524.9,390.1 L1525.3,388.5 L1525.6,387.1 L1526.0,385.7 L1526.3,384.4 L1526.9,382.5 L1527.6,380.6 L1528.2,378.9 L1528.8,377.6 L1529.5,377.2 L1530.1,377.6 L1530.7,378.9 L1531.4,380.6 L1532.0,382.5 L1532.6,384.4 L1532.9,385.7 L1533.2,387.0 L1533.5,388.5 L1533.8,390.0 L1534.1,391.5 L1534.4,393.1 L1534.6,394.7 L1534.9,396.3 L1535.1,397.9 L1535.4,399.5 L1535.7,401.0 L1536.0,402.6 L1536.2,404.1 L1536.5,405.6 L1536.8,407.2 L1537.1,408.7 L1537.3,410.3 L1537.6,411.8 L1537.9,413.3 L1538.2,414.8 L1538.5,416.2 L1538.8,417.6 L1539.2,419.3 L1539.5,420.9 L1539.8,422.5 L1540.2,424.1 L1540.5,425.6 L1541.0,427.1 L1541.4,428.6 L1541.9,430.1 L1542.5,431.6 L1543.2,433.2 L1543.9,434.7 L1544.7,436.1 L1545.5,437.6 L1546.3,439.0 L1547.1,440.5 L1547.9,441.8 L1548.7,443.2 L1549.6,444.6 L1550.4,445.9 L1551.3,447.2 L1552.3,448.5 L1553.3,449.8 L1554.3,451.0 L1555.4,452.1 L1556.5,453.3 L1557.7,454.4 L1558.9,455.5 L1560.1,456.6 L1561.4,457.6 L1562.7,458.5 L1564.0,459.3 L1565.4,460.1 L1566.8,460.9 L1568.2,461.6 L1569.7,462.2 L1571.2,462.7 L1572.8,463.2 L1574.5,463.6 L1575.8,463.8 L1577.2,463.9 L1578.6,464.0 L1580.1,464.0 L1581.6,464.0 L1583.2,463.9 L1584.7,463.8 L1586.3,463.7 L1587.9,463.5 L1589.5,463.3 L1591.0,463.0 L1592.5,462.7 L1594.0,462.4 L1595.5,462.0 L1596.9,461.6 L1598.3,461.2 L1599.7,460.7 L1601.1,460.2 L1602.5,459.6 L1603.9,459.0 L1605.3,458.4 L1606.7,457.8 L1608.1,457.1 L1609.5,456.5 L1610.9,455.8 L1612.2,455.2 L1613.6,454.5 L1615.1,453.9 L1616.5,453.1 L1617.9,452.4 L1619.3,451.5 L1620.7,450.7 L1622.1,449.9 L1623.5,449.0 L1624.9,448.2 L1626.3,447.5 L1627.7,446.8 L1629.1,446.1 L1630.5,445.6 L1631.9,445.1 L1633.2,444.7 L1634.8,444.5 L1636.4,444.3 L1638.0,444.1 L1639.6,444.1 L1641.2,444.2 L1642.7,444.3 L1644.3,444.5 L1645.8,444.8 L1647.4,445.1 L1648.9,445.5 L1650.2,446.0 L1651.5,446.6 L1652.8,447.3 L1654.1,448.1 L1655.4,449.0 L1656.6,449.9 L1657.9,450.8 L1659.2,451.7 L1660.5,452.5 L1661.8,453.3 L1663.2,454.0 L1664.6,454.5 L1666.0,455.0 L1667.4,455.4 L1668.9,455.8 L1670.4,456.1 L1671.9,456.4 L1673.4,456.6 L1674.9,456.8 L1676.5,457.0 L1678.0,457.2 L1679.6,457.3 L1681.1,457.4 L1682.6,457.6 L1684.2,457.7 L1685.7,457.8 L1687.3,457.9 L1689.0,458.1 L1690.6,458.2 L1692.3,458.3 L1694.0,458.4 L1695.6,458.4 L1697.2,458.4 L1698.7,458.4 L1700.2,458.3 L1701.5,458.2 L1702.7,458.0 L1703.8,457.7 L1705.3,456.9 L1706.4,455.9 L1707.5,454.8 L1708.9,453.9 L1710.2,453.5 L1711.6,453.1 L1713.2,452.7 L1714.9,452.4 L1716.6,452.1 L1718.4,451.9 L1720.2,451.6 L1721.8,451.2 L1723.4,450.8 L1725.1,450.4 L1726.7,449.9 L1728.3,449.5 L1729.9,449.0 L1731.5,448.5 L1733.0,448.0 L1734.5,447.4 L1735.9,446.7 L1737.5,445.8 L1738.9,444.9 L1740.3,443.8 L1741.7,442.8 L1743.0,441.6 L1744.2,440.5 L1745.4,439.2 L1746.5,437.9 L1747.5,436.6 L1748.5,435.2 L1749.5,433.7 L1750.4,432.2 L1751.2,430.8 L1751.9,429.4 L1752.6,427.9 L1753.2,426.4 L1753.9,424.8 L1754.5,423.2 L1755.0,421.5 L1755.6,419.7 L1756.0,418.4 L1756.3,417.1 L1756.7,415.7 L1757.0,414.3 L1757.3,412.9 L1757.6,411.4 L1757.9,410.0 L1758.2,408.5 L1758.5,406.9 L1758.7,405.4 L1759.0,403.8 L1759.3,402.2 L1759.5,400.6 L1759.8,399.0 L1760.0,397.6 L1760.2,396.1 L1760.3,394.6 L1760.5,393.2 L1760.7,391.6 L1760.9,390.1 L1761.0,388.6 L1761.2,387.0 L1761.4,385.4 L1761.5,383.8 L1761.7,382.2 L1761.8,380.6 L1761.9,379.0 L1762.1,377.4 L1762.2,375.8 L1762.3,374.2 L1762.5,372.6 L1762.6,371.0 L1762.7,369.4 L1762.9,367.8 L1763.0,366.3 L1763.1,364.7 L1763.2,363.1 L1763.4,361.6 L1763.5,360.0 L1763.6,358.4 L1763.7,356.8 L1763.8,355.2 L1763.9,353.6 L1764.0,352.1 L1764.1,350.5 L1764.2,348.9 L1764.3,347.4 L1764.4,345.8 L1764.5,344.3 L1764.6,342.7 L1764.7,341.2 L1764.8,339.7 L1764.9,338.2 L1764.9,336.7 L1765.0,335.1 L1765.1,333.5 L1765.2,331.9 L1765.2,330.3 L1765.3,328.8 L1765.3,327.2 L1765.4,325.7 L1765.4,324.2 L1765.5,322.6 L1765.6,321.1 L1765.6,319.6 L1765.7,318.1 L1765.7,316.5 L1765.8,315.0 L1765.9,313.4 L1766.0,311.8 L1766.1,310.4 L1766.2,308.9 L1766.3,307.4 L1766.4,305.9 L1766.5,304.5 L1766.6,303.0 L1766.8,301.5 L1766.9,300.0 L1767.0,298.5 L1767.1,297.0 L1767.3,295.5 L1767.4,294.0 L1767.5,292.5 L1767.6,291.0 L1767.8,289.5 L1767.9,287.9 L1768.0,286.4 L1768.0,284.9 L1768.1,283.4 L1768.2,281.9 L1768.3,280.4 L1768.3,278.8 L1768.4,277.3 L1768.5,275.8 L1768.5,274.3 L1768.6,272.8 L1768.6,271.3 L1768.7,269.7 L1768.7,268.2 L1768.7,266.6 L1768.8,265.0 L1768.8,263.5 L1768.9,261.9 L1768.9,260.3 L1769.0,258.7 L1769.0,257.0 L1769.0,255.4 L1769.1,253.7 L1769.1,252.3 L1769.2,250.9 L1769.2,249.4 L1769.3,247.9 L1769.3,246.4 L1769.3,244.9 L1769.4,243.4 L1769.4,241.9 L1769.4,240.3 L1769.5,238.8 L1769.5,237.3 L1769.6,235.7 L1769.6,234.1 L1769.6,232.6 L1769.7,231.0 L1769.7,229.4 L1769.7,227.9 L1769.8,226.3 L1769.8,224.7 L1769.9,223.1 L1769.9,221.6 L1769.9,220.0 L1770.0,218.4 L1770.0,216.9 L1770.0,215.3 L1770.1,213.8 L1770.1,212.2 L1770.2,210.7 L1770.2,209.2 L1770.2,207.7 L1770.3,206.3 L1770.3,204.8 L1770.3,203.4 L1770.4,202.0 L1770.4,200.6 L1770.5,199.1 L1770.5,197.7 L1770.5,196.3 L1770.6,194.9 L1770.6,193.4 L1770.6,192.0 L1770.7,190.5 L1770.7,189.1 L1770.8,187.6 L1770.8,186.0 L1770.8,184.5 L1770.9,182.9 L1770.9,181.3 L1771.0,179.6 L1771.0,177.9 L1771.0,176.2 L1771.1,174.4 L1771.1,172.6 L1771.2,170.7 L1771.2,169.6 L1771.2,168.4 L1771.2,167.2 L1771.3,166.0 L1771.3,164.8 L1771.3,163.6 L1771.4,162.4 L1771.4,161.2 L1771.4,159.9 L1771.4,158.7 L1771.5,157.4 L1771.5,156.1 L1771.5,154.9 L1771.6,153.6 L1771.6,152.3 L1771.6,150.9 L1771.7,149.6 L1771.7,148.3 L1771.7,146.9 L1771.8,145.6 L1771.8,144.2 L1771.8,142.8 L1771.9,141.4 L1771.9,140.0 L1771.9,138.6 L1772.0,137.2 L1772.0,135.8 L1772.0,134.4 L1772.1,132.9 L1772.1,131.5 L1772.1,130.0 L1772.2,128.5 L1772.2,127.0 L1772.2,125.5 L1772.3,124.0 L1772.3,122.5 L1772.4,121.0 L1772.4,119.5 L1772.4,117.9 L1772.5,116.4 L1772.5,114.8 L1772.5,113.3 L1772.6,111.7 L1772.6,110.1 L1772.6,108.5 L1772.7,106.9 L1772.7,105.3 L1772.7,103.6 L1772.8,102.0 L1772.8,100.4 L1772.8,98.7 L1772.9,97.0 L1772.9,95.4 L1772.9,93.7 L1773.0,92.0 L1773.0,90.3 L1773.0,88.6 L1773.1,86.9 L1773.1,85.2 L1773.1,83.4 L1773.2,81.7 L1773.2,80.0 L1773.2,78.2 L1773.3,76.4 L1773.3,74.7 L1773.3,72.9 L1773.4,71.1 L1773.4,69.3 L1773.4,67.5 L1773.4,65.7 L1773.5,63.8 L1773.5,62.0 L1773.5,60.8 L1773.5,59.6 L1773.5,58.4 L1773.5,57.1 L1773.6,55.8 L1773.6,54.5 L1773.6,53.2 L1773.6,51.9 L1773.5,50.5 L1773.5,49.2 L1773.5,47.8 L1773.5,46.4 L1773.5,44.9 L1773.5,43.5 L1773.5,42.0 L1773.4,40.6 L1773.4,39.1 L1773.4,37.6 L1773.3,36.0 L1773.3,34.5 L1773.3,32.9 L1773.2,31.4 L1773.2,29.8 L1773.2,28.2 L1773.1,26.5 L1773.1,24.9 L1773.0,23.3 L1773.0,21.6 L1772.9,19.9 L1772.9,18.3 L1772.8,16.6 L1772.8,14.8 L1772.7,13.1 L1772.7,11.4 L1772.6,9.7 L1772.6,7.9 L1772.5,6.1 L1772.4,4.4 L1772.4,2.6 L1772.3,0.8 L1772.2,-1.0 L1772.2,-2.8 L1772.1,-4.7 L1772.0,-6.5 L1772.0,-8.3 L1771.9,-10.2 L1771.8,-12.0 L1771.8,-13.9 L1771.7,-15.7 L1771.6,-17.6 L1771.6,-19.5 L1771.5,-21.4 L1771.4,-23.3 L1771.3,-25.2 L1771.3,-27.1 L1771.2,-29.0 L1771.1,-30.9 L1771.1,-32.8 L1771.0,-34.7 L1770.9,-36.6 L1770.8,-38.6 L1770.8,-40.5 L1770.7,-42.4 L1770.6,-44.4 L1770.5,-46.3 L1770.5,-48.2 L1770.4,-50.2 L1770.3,-52.1 L1770.3,-54.0 L1770.2,-56.0 L1770.1,-57.9 L1770.0,-59.9 L1770.0,-61.8 L1769.9,-63.7 L1769.8,-65.7 L1769.8,-67.6 L1769.7,-69.5 L1769.6,-71.5 L1769.6,-73.4 L1769.5,-75.3 L1769.5,-77.2 L1769.4,-79.2 L1769.3,-81.1 L1769.3,-83.0 L1769.2,-84.9 L1769.2,-86.8 L1769.1,-88.7 L1769.1,-90.6 L1769.0,-92.5 L1769.0,-94.4 L1768.9,-96.2 L1768.9,-98.1 L1768.8,-100.0 L1768.8,-101.8 L1768.8,-103.7 L1768.7,-105.5 L1768.7,-107.3 L1768.7,-109.2 L1768.6,-111.0 L1768.6,-112.8 L1768.6,-114.6 L1768.5,-116.4 L1768.5,-118.1 L1768.5,-119.9 L1768.5,-121.7 L1768.5,-123.4 L1768.4,-125.1 L1768.4,-126.9 L1768.4,-128.6 L1768.4,-130.3 L1768.4,-132.0 L1768.4,-133.6 L1768.4,-135.3 L1768.4,-137.0 L1768.4,-138.6 L1768.4,-140.2 L1768.5,-141.8 L1768.5,-143.4 L1768.5,-145.0 L1768.5,-146.6 L1768.6,-148.1 L1768.6,-149.6 L1768.6,-151.1 L1768.7,-152.6 L1768.7,-154.1 L1768.7,-155.6 L1768.8,-157.0 L1768.8,-158.5 L1768.9,-159.9 L1769.0,-161.3 L1769.0,-162.7 L1769.1,-164.0 L1769.2,-165.4 L1769.2,-166.7 L1769.3,-168.0 L1769.4,-169.3 L1769.5,-170.5 L1769.6,-171.8 L1769.7,-173.0 L1769.8,-174.2 L1769.9,-175.3 L1770.0,-176.5 L1770.1,-177.6 L1770.2,-178.7 L1770.3,-179.8 L1770.4,-180.9 L1770.6,-181.9 L1770.7,-182.9 L1770.8,-183.9 L1771.0,-184.9 L1771.1,-185.8 L1771.3,-186.8 L1771.4,-187.6 L1771.6,-188.5 L1771.8,-189.4 L1771.9,-190.2 L1772.1,-191.0 L1772.3,-191.7 L1772.5,-192.5 L1772.7,-193.2 L1772.9,-193.8 L1773.1,-194.5 L1773.3,-195.1 L1773.5,-195.7 L1773.7,-196.3 L1774.0,-196.8 L1774.2,-197.3 L1774.4,-197.8 L1774.7,-198.2 L1774.9,-198.6 L1775.2,-199.0 L1775.5,-199.4 L1775.7,-199.7 L1776.0,-200.0 L1777.4,-201.2 L1779.0,-202.0 L1780.7,-202.5 L1782.5,-202.7 L1784.3,-202.5 L1786.0,-202.0 L1787.6,-201.2 L1789.0,-200.0 L1789.3,-199.7 L1789.5,-199.4 L1789.8,-199.0 L1790.1,-198.6 L1790.3,-198.2 L1790.5,-197.8 L1790.8,-197.3 L1791.0,-196.8 L1791.2,-196.3 L1791.5,-195.7 L1791.7,-195.1 L1791.9,-194.5 L1792.1,-193.8 L1792.3,-193.2 L1792.5,-192.5 L1792.7,-191.7 L1792.8,-191.0 L1793.0,-190.2 L1793.2,-189.4 L1793.3,-188.5 L1793.5,-187.6 L1793.7,-186.8 L1793.8,-185.8 L1794.0,-184.9 L1794.1,-183.9 L1794.2,-182.9 L1794.4,-181.9 L1794.5,-180.9 L1794.6,-179.8 L1794.7,-178.7 L1794.8,-177.6 L1794.9,-176.5 L1795.0,-175.3 L1795.1,-174.2 L1795.2,-173.0 L1795.3,-171.8 L1795.4,-170.5 L1795.5,-169.3 L1795.6,-168.0 L1795.6,-166.7 L1795.7,-165.4 L1795.8,-164.0 L1795.8,-162.7 L1795.9,-161.3 L1795.9,-159.9 L1796.0,-158.5 L1796.0,-157.0 L1796.1,-155.6 L1796.1,-154.1 L1796.1,-152.6 L1796.2,-151.1 L1796.2,-149.6 L1796.2,-148.1 L1796.3,-146.6 L1796.3,-145.0 L1796.3,-143.4 L1796.3,-141.8 L1796.3,-140.2 L1796.3,-138.6 L1796.3,-137.0 L1796.3,-135.3 L1796.3,-133.6 L1796.3,-132.0 L1796.3,-130.3 L1796.3,-128.6 L1796.3,-126.9 L1796.2,-125.1 L1796.2,-123.4 L1796.2,-121.7 L1796.2,-119.9 L1796.2,-118.1 L1796.1,-116.4 L1796.1,-114.6 L1796.1,-112.8 L1796.0,-111.0 L1796.0,-109.2 L1795.9,-107.3 L1795.9,-105.5 L1795.9,-103.7 L1795.8,-101.8 L1795.8,-100.0 L1795.7,-98.1 L1795.7,-96.2 L1795.6,-94.4 L1795.6,-92.5 L1795.5,-90.6 L1795.4,-88.7 L1795.4,-86.8 L1795.3,-84.9 L1795.3,-83.0 L1795.2,-81.1 L1795.1,-79.2 L1795.1,-77.2 L1795.0,-75.3 L1794.9,-73.4 L1794.9,-71.5 L1794.8,-69.5 L1794.7,-67.6 L1794.7,-65.7 L1794.6,-63.7 L1794.5,-61.8 L1794.4,-59.9 L1794.4,-57.9 L1794.3,-56.0 L1794.2,-54.0 L1794.1,-52.1 L1794.1,-50.2 L1794.0,-48.2 L1793.9,-46.3 L1793.8,-44.4 L1793.8,-42.4 L1793.7,-40.5 L1793.6,-38.6 L1793.5,-36.6 L1793.4,-34.7 L1793.4,-32.8 L1793.3,-30.9 L1793.2,-29.0 L1793.1,-27.1 L1793.1,-25.2 L1793.0,-23.3 L1792.9,-21.4 L1792.8,-19.5 L1792.8,-17.6 L1792.7,-15.7 L1792.6,-13.9 L1792.5,-12.0 L1792.5,-10.2 L1792.4,-8.3 L1792.3,-6.5 L1792.3,-4.7 L1792.2,-2.8 L1792.1,-1.0 L1792.1,0.8 L1792.0,2.6 L1791.9,4.4 L1791.9,6.1 L1791.8,7.9 L1791.8,9.7 L1791.7,11.4 L1791.6,13.1 L1791.6,14.8 L1791.5,16.6 L1791.5,18.3 L1791.4,19.9 L1791.4,21.6 L1791.3,23.3 L1791.3,24.9 L1791.3,26.5 L1791.2,28.2 L1791.2,29.8 L1791.1,31.4 L1791.1,32.9 L1791.1,34.5 L1791.0,36.0 L1791.0,37.6 L1791.0,39.1 L1791.0,40.6 L1791.0,42.0 L1790.9,43.5 L1790.9,44.9 L1790.9,46.4 L1790.9,47.8 L1790.9,49.2 L1790.9,50.5 L1790.9,51.9 L1790.9,53.2 L1790.9,54.5 L1790.9,55.8 L1790.9,57.1 L1790.9,58.4 L1791.0,59.6 L1791.0,60.8 L1791.0,62.0 L1791.0,63.8 L1791.1,65.7 L1791.1,67.5 L1791.2,69.3 L1791.2,71.1 L1791.3,72.9 L1791.3,74.7 L1791.4,76.5 L1791.4,78.3 L1791.4,80.1 L1791.5,81.8 L1791.5,83.6 L1791.6,85.4 L1791.6,87.1 L1791.7,88.9 L1791.8,90.6 L1791.8,92.3 L1791.9,94.0 L1791.9,95.8 L1792.0,97.5 L1792.0,99.2 L1792.1,100.8 L1792.1,102.5 L1792.2,104.2 L1792.2,105.8 L1792.3,107.5 L1792.4,109.1 L1792.4,110.8 L1792.5,112.4 L1792.5,114.0 L1792.6,115.6 L1792.7,117.2 L1792.7,118.8 L1792.8,120.3 L1792.8,121.9 L1792.9,123.4 L1792.9,125.0 L1793.0,126.5 L1793.1,128.0 L1793.1,129.5 L1793.2,131.0 L1793.3,132.5 L1793.3,134.0 L1793.4,135.4 L1793.4,136.9 L1793.5,138.3 L1793.6,139.7 L1793.6,141.1 L1793.7,142.5 L1793.7,143.9 L1793.8,145.3 L1793.9,146.6 L1793.9,148.0 L1794.0,149.3 L1794.0,150.6 L1794.1,151.9 L1794.2,153.2 L1794.2,154.5 L1794.3,155.7 L1794.3,157.0 L1794.4,158.2 L1794.5,159.4 L1794.5,160.6 L1794.6,161.8 L1794.6,163.0 L1794.7,164.1 L1794.7,165.3 L1794.8,166.4 L1794.9,167.5 L1794.9,168.6 L1795.0,169.7 L1795.0,170.7 L1795.1,172.7 L1795.2,174.6 L1795.3,176.4 L1795.4,178.2 L1795.5,179.9 L1795.6,181.5 L1795.8,183.0 L1795.9,184.6 L1796.0,186.0 L1796.1,187.5 L1796.2,188.9 L1796.3,190.3 L1796.4,191.7 L1796.5,193.1 L1796.6,194.5 L1796.7,195.9 L1796.8,197.4 L1796.9,198.8 L1797.0,200.3 L1797.1,201.9 L1797.2,203.4 L1797.3,205.0 L1797.4,206.5 L1797.5,208.1 L1797.6,209.6 L1797.7,211.2 L1797.8,212.8 L1797.9,214.3 L1798.0,215.9 L1798.1,217.4 L1798.2,219.0 L1798.3,220.5 L1798.4,222.1 L1798.5,223.7 L1798.7,225.2 L1798.8,226.8 L1798.9,228.3 L1799.0,229.9 L1799.1,231.4 L1799.2,233.0 L1799.3,234.5 L1799.4,236.1 L1799.5,237.7 L1799.6,239.2 L1799.7,240.8 L1799.8,242.3 L1799.9,243.9 L1800.0,245.4 L1800.1,247.0 L1800.2,248.5 L1800.3,250.1 L1800.4,251.7 L1800.5,253.2 L1800.6,254.8 L1800.7,256.3 L1800.8,257.9 L1800.9,259.4 L1801.0,261.0 L1801.1,262.6 L1801.2,264.1 L1801.3,265.7 L1801.4,267.2 L1801.5,268.8 L1801.6,270.3 L1801.7,271.9 L1801.8,273.4 L1801.9,275.0 L1802.0,276.6 L1802.1,278.1 L1802.2,279.7 L1802.3,281.2 L1802.4,282.8 L1802.5,284.3 L1802.6,285.9 L1802.7,287.5 L1802.8,289.0 L1803.0,290.6 L1803.1,292.1 L1803.2,293.7 L1803.3,295.2 L1803.5,296.8 L1803.6,298.3 L1803.7,299.9 L1803.9,301.5 L1804.0,303.0 L1804.2,304.6 L1804.3,306.1 L1804.5,307.7 L1804.6,309.2 L1804.8,310.8 L1805.0,312.3 L1805.1,313.9 L1805.3,315.5 L1805.5,317.0 L1805.6,318.6 L1805.8,320.1 L1806.0,321.7 L1806.1,323.2 L1806.3,324.8 L1806.4,326.3 L1806.6,327.9 L1806.7,329.5 L1806.9,331.1 L1807.0,332.7 L1807.2,334.3 L1807.3,335.9 L1807.5,337.5 L1807.6,339.1 L1807.8,340.7 L1807.9,342.3 L1808.1,343.9 L1808.2,345.5 L1808.4,347.0 L1808.6,348.6 L1808.7,350.1 L1808.9,351.7 L1809.0,353.1 L1809.2,354.6 L1809.4,356.1 L1809.5,357.5 L1809.8,359.2 L1810.0,360.9 L1810.2,362.5 L1810.4,364.2 L1810.7,365.8 L1810.9,367.3 L1811.1,368.9 L1811.4,370.4 L1811.6,372.0 L1811.9,373.5 L1812.1,375.1 L1812.4,376.6 L1812.7,378.2 L1812.9,379.7 L1813.2,381.2 L1813.4,382.7 L1813.7,384.3 L1814.0,385.8 L1814.3,387.3 L1814.5,388.8 L1814.8,390.4 L1815.1,391.9 L1815.4,393.3 L1815.8,394.8 L1816.1,396.2 L1816.4,397.6 L1816.8,399.0 L1817.3,400.6 L1817.7,402.1 L1818.2,403.7 L1818.7,405.2 L1819.2,406.7 L1819.7,408.1 L1820.3,409.6 L1820.8,410.9 L1821.4,412.2 L1822.0,413.5 L1822.8,415.1 L1823.6,416.6 L1824.4,418.0 L1825.3,419.3 L1826.2,420.6 L1827.2,421.8 L1828.3,423.0 L1829.5,424.2 L1830.8,425.2 L1832.1,426.2 L1833.4,427.0 L1835.0,427.8 L1836.7,428.5 L1838.3,429.1 L1840.0,429.3 L1841.6,429.1 L1843.2,428.7 L1844.7,428.0 L1846.2,427.2 L1847.3,426.3 L1848.3,425.1 L1849.3,423.8 L1850.3,422.5 L1851.3,421.2 L1852.4,419.9 L1853.6,418.8 L1854.7,417.8 L1856.0,416.7 L1857.2,415.7 L1858.4,414.7 L1859.6,413.7 L1860.7,412.7 L1862.1,411.4 L1863.4,410.3 L1864.6,409.1 L1865.8,407.9 L1867.0,406.4 L1867.8,405.2 L1868.7,403.9 L1869.5,402.6 L1870.3,401.2 L1871.1,399.7 L1871.8,398.2 L1872.5,396.6 L1873.2,395.0 L1873.7,393.7 L1874.2,392.3 L1874.6,390.8 L1875.0,389.4 L1875.4,387.9 L1875.7,386.4 L1876.1,384.8 L1876.4,383.3 L1876.7,381.7 L1877.0,380.1 L1877.3,378.4 L1877.6,377.0 L1877.9,375.6 L1878.1,374.2 L1878.3,372.7 L1878.6,371.2 L1878.8,369.7 L1879.0,368.2 L1879.2,366.7 L1879.4,365.2 L1879.6,363.6 L1879.8,362.0 L1879.9,360.5 L1880.1,358.9 L1880.3,357.2 L1880.5,355.6 L1880.6,354.2 L1880.7,352.7 L1880.9,351.2 L1881.0,349.7 L1881.1,348.2 L1881.2,346.6 L1881.3,345.1 L1881.5,343.5 L1881.6,341.9 L1881.7,340.3 L1881.8,338.8 L1881.9,337.2 L1881.9,335.6 L1882.0,334.0 L1882.1,332.4 L1882.2,330.8 L1882.3,329.2 L1882.4,327.6 L1882.5,326.0 L1882.5,324.5 L1882.6,322.9 L1882.7,321.4 L1882.7,319.8 L1882.8,318.3 L1882.9,316.7 L1882.9,315.1 L1883.0,313.6 L1883.0,312.0 L1883.1,310.5 L1883.1,308.9 L1883.2,307.4 L1883.2,305.8 L1883.2,304.3 L1883.3,302.7 L1883.3,301.1 L1883.4,299.6 L1883.4,298.0 L1883.5,296.5 L1883.5,294.9 L1883.6,293.4 L1883.6,291.8 L1883.7,290.3 L1883.7,288.7 L1883.8,287.2 L1883.8,285.7 L1883.9,284.2 L1883.9,282.6 L1884.0,281.1 L1884.0,279.6 L1884.1,278.1 L1884.1,276.5 L1884.2,275.0 L1884.3,273.5 L1884.3,271.9 L1884.4,270.3 L1884.4,268.8 L1884.5,267.2 L1884.5,265.5 L1884.6,263.9 L1884.6,262.2 L1884.6,260.8 L1884.7,259.3 L1884.7,257.8 L1884.8,256.3 L1884.8,254.7 L1884.9,253.1 L1884.9,251.6 L1884.9,249.9 L1885.0,248.3 L1885.0,246.7 L1885.1,245.1 L1885.1,243.4 L1885.1,241.8 L1885.2,240.2 L1885.2,238.5 L1885.3,236.9 L1885.3,235.3 L1885.3,233.7 L1885.4,232.2 L1885.4,230.6 L1885.5,229.1 L1885.5,227.6 L1885.5,226.2 L1885.6,224.8 L1885.6,223.4 L1885.6,222.0 L1885.6,220.7 L1885.7,219.0 L1885.7,217.3 L1885.8,215.8 L1885.8,214.4 L1885.8,213.1 L1885.8,211.7 L1885.9,210.4 L1885.9,209.0 L1885.9,207.5 L1885.9,205.9 L1886.0,204.1 L1886.0,202.2 L1886.1,200.0 L1886.1,199.2 L1886.1,198.3 L1886.1,197.4 L1886.1,196.5 L1886.1,195.5 L1886.2,194.6 L1886.2,193.6 L1886.2,192.6 L1886.2,191.5 L1886.2,190.5 L1886.3,189.4 L1886.3,188.3 L1886.3,187.2 L1886.3,186.1 L1886.3,184.9 L1886.4,183.8 L1886.4,182.6 L1886.4,181.4 L1886.4,180.2 L1886.5,178.9 L1886.5,177.7 L1886.5,176.4 L1886.5,175.1 L1886.5,173.8 L1886.6,172.5 L1886.6,171.1 L1886.6,169.8 L1886.6,168.4 L1886.7,167.0 L1886.7,165.6 L1886.7,164.2 L1886.8,162.7 L1886.8,161.3 L1886.8,159.8 L1886.8,158.4 L1886.9,156.9 L1886.9,155.4 L1886.9,153.9 L1886.9,152.3 L1887.0,150.8 L1887.0,149.3 L1887.0,147.7 L1887.1,146.1 L1887.1,144.5 L1887.1,143.0 L1887.1,141.4 L1887.2,139.7 L1887.2,138.1 L1887.2,136.5 L1887.3,134.9 L1887.3,133.2 L1887.3,131.6 L1887.3,129.9 L1887.4,128.2 L1887.4,126.5 L1887.4,124.9 L1887.5,123.2 L1887.5,121.5 L1887.5,119.8 L1887.5,118.0 L1887.6,116.3 L1887.6,114.6 L1887.6,112.9 L1887.7,111.2 L1887.7,109.4 L1887.7,107.7 L1887.7,105.9 L1887.8,104.2 L1887.8,102.4 L1887.8,100.7 L1887.9,98.9 L1887.9,97.2 L1887.9,95.4 L1887.9,93.7 L1888.0,91.9 L1888.0,90.1 L1888.0,88.4 L1888.0,86.6 L1888.1,84.8 L1888.1,83.1 L1888.1,81.3 L1888.2,79.5 L1888.2,77.8 L1888.2,76.0 L1888.2,74.3 L1888.3,72.5 L1888.3,70.7 L1888.3,69.0 L1888.3,67.2 L1888.4,65.5 L1888.4,63.7 L1888.4,62.0 L1888.4,60.7 L1888.4,59.4 L1888.4,58.1 L1888.4,56.8 L1888.4,55.4 L1888.4,54.1 L1888.4,52.7 L1888.4,51.3 L1888.4,49.8 L1888.4,48.4 L1888.4,47.0 L1888.4,45.5 L1888.4,44.0 L1888.4,42.5 L1888.3,41.0 L1888.3,39.4 L1888.3,37.9 L1888.2,36.3 L1888.2,34.7 L1888.2,33.1 L1888.1,31.5 L1888.1,29.9 L1888.1,28.3 L1888.0,26.6 L1888.0,25.0 L1887.9,23.3 L1887.9,21.6 L1887.8,19.9 L1887.8,18.2 L1887.7,16.5 L1887.7,14.8 L1887.6,13.0 L1887.6,11.3 L1887.5,9.5 L1887.4,7.8 L1887.4,6.0 L1887.3,4.2 L1887.3,2.4 L1887.2,0.6 L1887.1,-1.2 L1887.1,-3.0 L1887.0,-4.9 L1886.9,-6.7 L1886.9,-8.5 L1886.8,-10.4 L1886.7,-12.2 L1886.6,-14.1 L1886.6,-16.0 L1886.5,-17.9 L1886.4,-19.7 L1886.4,-21.6 L1886.3,-23.5 L1886.2,-25.4 L1886.1,-27.3 L1886.1,-29.2 L1886.0,-31.1 L1885.9,-33.0 L1885.8,-34.9 L1885.8,-36.8 L1885.7,-38.8 L1885.6,-40.7 L1885.5,-42.6 L1885.5,-44.5 L1885.4,-46.4 L1885.3,-48.4 L1885.2,-50.3 L1885.2,-52.2 L1885.1,-54.2 L1885.0,-56.1 L1884.9,-58.0 L1884.9,-59.9 L1884.8,-61.9 L1884.7,-63.8 L1884.7,-65.7 L1884.6,-67.6 L1884.5,-69.5 L1884.5,-71.4 L1884.4,-73.4 L1884.3,-75.3 L1884.3,-77.2 L1884.2,-79.1 L1884.1,-81.0 L1884.1,-82.9 L1884.0,-84.8 L1884.0,-86.6 L1883.9,-88.5 L1883.9,-90.4 L1883.8,-92.3 L1883.8,-94.1 L1883.7,-96.0 L1883.7,-97.8 L1883.6,-99.7 L1883.6,-101.5 L1883.5,-103.3 L1883.5,-105.2 L1883.5,-107.0 L1883.4,-108.8 L1883.4,-110.6 L1883.3,-112.4 L1883.3,-114.1 L1883.3,-115.9 L1883.3,-117.7 L1883.2,-119.4 L1883.2,-121.2 L1883.2,-122.9 L1883.2,-124.6 L1883.2,-126.3 L1883.2,-128.0 L1883.2,-129.7 L1883.2,-131.4 L1883.2,-133.0 L1883.2,-134.7 L1883.2,-136.3 L1883.2,-137.9 L1883.2,-139.5 L1883.2,-141.1 L1883.2,-142.7 L1883.2,-144.3 L1883.2,-145.8 L1883.3,-147.3 L1883.3,-148.9 L1883.3,-150.4 L1883.4,-151.8 L1883.4,-153.3 L1883.4,-154.8 L1883.5,-156.2 L1883.5,-157.6 L1883.6,-159.0 L1883.7,-160.4 L1883.7,-161.8 L1883.8,-163.1 L1883.8,-164.5 L1883.9,-165.8 L1884.0,-167.1 L1884.1,-168.4 L1884.2,-169.6 L1884.3,-170.9 L1884.3,-172.1 L1884.4,-173.3 L1884.5,-174.4 L1884.7,-175.6 L1884.8,-176.7 L1884.9,-177.8 L1885.0,-178.9 L1885.1,-180.0 L1885.3,-181.0 L1885.4,-182.1 L1885.5,-183.1 L1885.7,-184.0 L1885.8,-185.0 L1886.0,-185.9 L1886.1,-186.8 L1886.3,-187.7 L1886.5,-188.6 L1886.6,-189.4 L1886.8,-190.2 L1887.0,-191.0 L1887.2,-191.7 L1887.4,-192.4 L1887.6,-193.1 L1887.8,-193.8 L1888.0,-194.5 L1888.2,-195.1 L1888.4,-195.7 L1888.7,-196.2 L1888.9,-196.8 L1889.2,-197.3 L1889.4,-197.8 L1889.6,-198.2 L1889.9,-198.6 L1890.2,-199.0 L1890.4,-199.4 L1890.7,-199.7 L1891.0,-200.0 L1892.4,-201.1 L1893.9,-202.0 L1895.5,-202.5 L1897.1,-202.8 L1898.8,-202.8 L1900.5,-202.5 L1902.1,-202.0 L1903.6,-201.1 L1905.0,-200.0 L1905.3,-199.7 L1905.6,-199.4 L1905.8,-199.0 L1906.1,-198.6 L1906.4,-198.2 L1906.6,-197.8 L1906.9,-197.3 L1907.1,-196.8 L1907.3,-196.3 L1907.6,-195.7 L1907.8,-195.1 L1908.0,-194.5 L1908.2,-193.9 L1908.4,-193.2 L1908.6,-192.5 L1908.8,-191.8 L1909.0,-191.1 L1909.2,-190.3 L1909.4,-189.5 L1909.5,-188.7 L1909.7,-187.8 L1909.9,-187.0 L1910.0,-186.1 L1910.2,-185.2 L1910.3,-184.2 L1910.5,-183.3 L1910.6,-182.3 L1910.7,-181.3 L1910.9,-180.2 L1911.0,-179.2 L1911.1,-178.1 L1911.2,-177.0 L1911.3,-175.9 L1911.4,-174.8 L1911.5,-173.6 L1911.6,-172.4 L1911.7,-171.2 L1911.8,-170.0 L1911.9,-168.8 L1912.0,-167.5 L1912.0,-166.2 L1912.1,-164.9 L1912.2,-163.6 L1912.2,-162.3 L1912.3,-161.0 L1912.4,-159.6 L1912.4,-158.2 L1912.5,-156.8 L1912.5,-155.4 L1912.5,-153.9 L1912.6,-152.5 L1912.6,-151.0 L1912.6,-149.5 L1912.7,-148.0 L1912.7,-146.5 L1912.7,-145.0 L1912.7,-143.5 L1912.8,-141.9 L1912.8,-140.3 L1912.8,-138.7 L1912.8,-137.1 L1912.8,-135.5 L1912.8,-133.9 L1912.8,-132.3 L1912.8,-130.6 L1912.8,-128.9 L1912.8,-127.3 L1912.7,-125.6 L1912.7,-123.9 L1912.7,-122.2 L1912.7,-120.5 L1912.7,-118.7 L1912.6,-117.0 L1912.6,-115.2 L1912.6,-113.5 L1912.5,-111.7 L1912.5,-109.9 L1912.5,-108.1 L1912.4,-106.4 L1912.4,-104.5 L1912.4,-102.7 L1912.3,-100.9 L1912.3,-99.1 L1912.2,-97.3 L1912.2,-95.4 L1912.1,-93.6 L1912.1,-91.7 L1912.0,-89.9 L1912.0,-88.0 L1911.9,-86.1 L1911.9,-84.2 L1911.8,-82.4 L1911.7,-80.5 L1911.7,-78.6 L1911.6,-76.7 L1911.6,-74.8 L1911.5,-72.9 L1911.4,-71.0 L1911.4,-69.1 L1911.3,-67.2 L1911.2,-65.3 L1911.2,-63.4 L1911.1,-61.4 L1911.1,-59.5 L1911.0,-57.6 L1910.9,-55.7 L1910.8,-53.8 L1910.8,-51.8 L1910.7,-49.9 L1910.6,-48.0 L1910.6,-46.1 L1910.5,-44.2 L1910.4,-42.2 L1910.4,-40.3 L1910.3,-38.4 L1910.2,-36.5 L1910.2,-34.6 L1910.1,-32.7 L1910.0,-30.8 L1910.0,-28.9 L1909.9,-27.0 L1909.8,-25.1 L1909.8,-23.2 L1909.7,-21.3 L1909.7,-19.4 L1909.6,-17.5 L1909.5,-15.6 L1909.5,-13.8 L1909.4,-11.9 L1909.4,-10.0 L1909.3,-8.2 L1909.2,-6.3 L1909.2,-4.5 L1909.1,-2.7 L1909.1,-0.8 L1909.0,1.0 L1909.0,2.8 L1908.9,4.6 L1908.9,6.4 L1908.8,8.2 L1908.8,10.0 L1908.8,11.7 L1908.7,13.5 L1908.7,15.3 L1908.6,17.0 L1908.6,18.7 L1908.6,20.5 L1908.6,22.2 L1908.5,23.9 L1908.5,25.6 L1908.5,27.2 L1908.5,28.9 L1908.4,30.6 L1908.4,32.2 L1908.4,33.8 L1908.4,35.4 L1908.4,37.0 L1908.4,38.6 L1908.4,40.2 L1908.4,41.8 L1908.4,43.3 L1908.4,44.8 L1908.4,46.4 L1908.4,47.9 L1908.4,49.4 L1908.4,50.8 L1908.5,52.3 L1908.5,53.7 L1908.5,55.1 L1908.5,56.5 L1908.6,57.9 L1908.6,59.3 L1908.7,60.7 L1908.7,62.0 L1908.8,63.7 L1908.8,65.4 L1908.9,67.1 L1908.9,68.8 L1909.0,70.5 L1909.1,72.2 L1909.1,73.9 L1909.2,75.6 L1909.3,77.4 L1909.4,79.1 L1909.4,80.8 L1909.5,82.6 L1909.6,84.3 L1909.7,86.0 L1909.7,87.8 L1909.8,89.5 L1909.9,91.2 L1910.0,93.0 L1910.0,94.7 L1910.1,96.5 L1910.2,98.2 L1910.3,99.9 L1910.4,101.7 L1910.5,103.4 L1910.6,105.2 L1910.6,106.9 L1910.7,108.7 L1910.8,110.4 L1910.9,112.1 L1911.0,113.9 L1911.1,115.6 L1911.2,117.3 L1911.3,119.1 L1911.4,120.8 L1911.4,122.5 L1911.5,124.3 L1911.6,126.0 L1911.7,127.7 L1911.8,129.4 L1911.9,131.1 L1912.0,132.8 L1912.1,134.5 L1912.2,136.2 L1912.3,137.9 L1912.4,139.6 L1912.5,141.2 L1912.6,142.9 L1912.7,144.6 L1912.8,146.2 L1912.9,147.9 L1913.0,149.6 L1913.1,151.2 L1913.2,152.8 L1913.3,154.5 L1913.4,156.1 L1913.5,157.7 L1913.6,159.3 L1913.7,160.9 L1913.8,162.5 L1913.8,164.0 L1913.9,165.6 L1914.0,167.2 L1914.1,168.7 L1914.2,170.3 L1914.3,171.8 L1914.4,173.3 L1914.5,174.8 L1914.6,176.3 L1914.7,177.8 L1914.8,179.3 L1914.9,180.8 L1915.0,182.2 L1915.1,183.6 L1915.2,185.1 L1915.3,186.5 L1915.4,187.9 L1915.4,189.3 L1915.5,190.7 L1915.6,192.0 L1915.7,193.4 L1915.8,194.7 L1915.9,196.1 L1916.0,197.4 L1916.1,198.7 L1916.1,200.0 L1916.2,201.2 L1916.3,202.5 L1916.4,203.7 L1916.5,204.9 L1916.6,206.1 L1916.6,207.3 L1916.7,208.5 L1916.8,209.7 L1916.9,210.8 L1916.9,211.9 L1917.0,213.0 L1917.1,214.1 L1917.2,215.2 L1917.2,216.3 L1917.3,217.3 L1917.4,218.3 L1917.4,219.3 L1917.5,220.3 L1917.6,221.2 L1917.6,222.2 L1917.7,223.1 L1917.7,224.0 L1917.8,224.9 L1917.9,227.0 L1918.1,228.9 L1918.2,230.7 L1918.3,232.4 L1918.4,234.0 L1918.5,235.6 L1918.6,237.0 L1918.7,238.4 L1918.8,239.8 L1918.9,241.1 L1919.0,242.4 L1919.1,243.7 L1919.3,245.0 L1919.4,246.3 L1919.5,247.6 L1919.6,249.0 L1919.7,250.4 L1919.9,251.9 L1920.0,253.4 L1920.2,254.9 L1920.3,256.4 L1920.5,257.9 L1920.7,259.4 L1920.8,260.9 L1921.0,262.4 L1921.2,263.9 L1921.4,265.4 L1921.5,266.9 L1921.7,268.4 L1921.9,269.9 L1922.1,271.4 L1922.3,272.9 L1922.4,274.4 L1922.6,275.9 L1922.8,277.4 L1923.0,278.8 L1923.2,280.4 L1923.3,282.0 L1923.5,283.7 L1923.7,285.3 L1923.8,286.9 L1924.0,288.6 L1924.1,290.2 L1924.3,291.8 L1924.5,293.4 L1924.6,295.0 L1924.8,296.5 L1925.0,298.0 L1925.3,299.5 L1925.5,301.0 L1925.8,302.4 L1926.1,303.7 L1926.5,305.4 L1927.0,306.9 L1927.5,308.4 L1928.0,309.8 L1928.6,311.2 L1929.1,312.6 L1929.7,314.0 L1930.2,315.4 L1930.8,316.8 L1931.3,318.3 L1931.8,319.7 L1932.3,321.2 L1932.8,322.6 L1933.3,324.1 L1933.7,325.6 L1934.2,327.1 L1934.7,328.6 L1935.2,330.1 L1935.6,331.7 L1936.1,333.3 L1936.5,334.9 L1936.8,336.3 L1937.2,337.7 L1937.5,339.1 L1937.8,340.6 L1938.1,342.1 L1938.4,343.6 L1938.7,345.1 L1939.0,346.6 L1939.3,348.1 L1939.6,349.6 L1939.8,351.1 L1940.1,352.6 L1940.4,354.1 L1940.6,355.6 L1940.9,357.2 L1941.1,358.8 L1941.4,360.4 L1941.6,362.1 L1941.8,363.7 L1942.0,365.3 L1942.3,366.9 L1942.5,368.5 L1942.7,370.1 L1942.9,371.7 L1943.2,373.3 L1943.4,374.8 L1943.7,376.3 L1944.1,377.9 L1944.4,379.5 L1944.7,381.0 L1945.1,382.5 L1945.5,384.0 L1945.9,385.5 L1946.2,387.0 L1946.6,388.5 L1947.1,390.0 L1947.5,391.4 L1947.9,392.9 L1948.3,394.5 L1948.7,396.1 L1949.2,397.7 L1949.6,399.3 L1950.1,400.9 L1950.5,402.4 L1951.0,404.0 L1951.5,405.5 L1952.0,406.9 L1952.5,408.3 L1953.1,409.5 L1953.9,411.1 L1954.7,412.6 L1955.5,414.0 L1956.4,415.3 L1957.3,416.6 L1958.3,417.8 L1959.2,419.1 L1960.2,420.4 L1961.2,421.6 L1962.2,422.8 L1963.3,424.0 L1964.5,425.1 L1965.7,426.3 L1967.0,427.4 L1968.4,428.5 L1969.8,429.5 L1971.3,430.5 L1972.8,431.3 L1974.2,432.0 L1975.6,432.5 L1977.1,433.1 L1978.6,433.5 L1980.1,433.9 L1981.6,434.2 L1983.2,434.4 L1984.9,434.6 L1986.6,434.7 L1988.3,434.7 L1990.1,434.6 L1991.8,434.5 L1993.5,434.4 L1995.3,434.3 L1997.0,434.1 L1998.8,433.9 L2000.5,433.7 L2002.2,433.5 L2003.9,433.4 L2005.6,433.3 L2007.3,433.2 L2008.9,433.1 L2010.6,433.2 L2012.2,433.4 L2013.9,433.8 L2015.5,434.4 L2017.2,435.1 L2018.9,435.8 L2020.5,436.5 L2021.9,437.2 L2023.3,437.8 L2024.7,438.6 L2026.0,439.3 L2027.4,440.0 L2028.8,440.7 L2030.2,441.3 L2031.5,442.1 L2032.9,442.8 L2034.3,443.4 L2035.7,444.0 L2037.1,444.4 L2038.7,444.7 L2040.4,444.9 L2042.1,445.0 L2043.7,445.0 L2045.4,444.8 L2047.1,444.4 L2048.8,443.9 L2050.4,443.2 L2052.1,442.5 L2053.7,441.7 L2055.1,441.0 L2056.6,440.2 L2058.0,439.4 L2059.4,438.5 L2060.7,437.6 L2062.0,436.5 L2063.2,435.3 L2064.3,434.0 L2065.3,432.6 L2066.3,431.2 L2067.2,429.7 L2068.2,428.2 L2069.0,427.0 L2069.8,425.7 L2070.5,424.4 L2071.3,423.1 L2072.0,421.8 L2072.8,420.5 L2073.6,419.2 L2074.4,417.8 L2075.3,416.6 L2076.1,415.2 L2077.0,413.9 L2077.9,412.5 L2078.8,411.2 L2079.7,409.9 L2080.7,408.6 L2081.7,407.5 L2082.7,406.4 L2083.9,405.4 L2085.1,404.5 L2086.4,403.7 L2087.7,402.9 L2089.1,402.2 L2090.4,401.5 L2091.8,400.9 L2093.1,400.2 L2094.6,399.4 L2096.1,398.6 L2097.6,397.8 L2099.1,397.1 L2100.6,396.5 L2102.1,396.2 L2103.5,396.1 L2104.9,396.3 L2106.4,396.8 L2107.7,397.5 L2109.1,398.4 L2110.5,399.3 L2111.8,400.2 L2113.0,401.1 L2114.2,402.1 L2115.4,403.2 L2116.5,404.3 L2117.7,405.4 L2118.9,406.5 L2120.1,407.5 L2121.4,408.7 L2122.8,410.0 L2124.2,411.3 L2125.6,412.5 L2127.0,413.3 L2128.4,413.7 L2129.8,413.6 L2131.2,413.2 L2132.7,412.5 L2134.1,411.6 L2135.4,410.6 L2136.7,409.5 L2137.6,408.5 L2138.5,407.4 L2139.3,406.1 L2140.0,404.8 L2140.8,403.4 L2141.5,402.0 L2142.2,400.6 L2142.9,399.2 L2143.6,397.9 L2144.3,396.5 L2145.0,395.2 L2145.7,393.8 L2146.4,392.4 L2147.1,391.0 L2147.8,389.6 L2148.5,388.2 L2149.1,386.7 L2149.8,385.3 L2150.4,383.9 L2151.0,382.4 L2151.6,380.9 L2152.2,379.5 L2152.9,378.0 L2153.5,376.5 L2154.1,375.0 L2154.7,373.6 L2155.4,372.2 L2156.0,370.8 L2156.7,369.4 L2157.4,368.0 L2158.1,366.7 L2158.8,365.4 L2159.5,364.0 L2160.2,362.6 L2160.9,361.2 L2161.6,359.8 L2162.2,358.3 L2162.8,356.9 L2163.4,355.4 L2163.9,353.9 L2164.5,352.4 L2165.1,350.9 L2165.6,349.3 L2166.2,347.8 L2166.7,346.2 L2167.3,344.7 L2167.8,343.2 L2168.3,341.6 L2168.8,340.1 L2169.3,338.6 L2169.8,337.1 L2170.3,335.6 L2170.7,334.0 L2171.2,332.5 L2171.7,331.0 L2172.1,329.5 L2172.5,328.0 L2173.0,326.6 L2173.4,325.0 L2173.8,323.5 L2174.2,322.0 L2174.6,320.5 L2175.0,319.0 L2175.4,317.5 L2175.8,316.0 L2176.2,314.6 L2176.7,313.3 L2177.1,312.0 L2177.8,310.3 L2178.4,308.5 L2179.1,306.7 L2179.8,305.2 L2180.5,304.2 L2181.3,303.7 L2182.3,304.2 L2183.4,305.4 L2184.5,307.1 L2185.4,308.9 L2186.0,310.1 L2186.5,311.4 L2187.0,312.8 L2187.5,314.3 L2187.9,315.9 L2188.3,317.5 L2188.7,319.2 L2189.2,320.8 L2189.6,322.4 L2190.0,323.8 L2190.4,325.3 L2190.7,326.8 L2191.1,328.3 L2191.5,329.8 L2191.9,331.4 L2192.2,332.9 L2192.6,334.4 L2193.0,336.0 L2193.4,337.5 L2193.7,339.0 L2194.1,340.5 L2194.5,342.0 L2194.8,343.6 L2195.2,345.1 L2195.5,346.6 L2195.9,348.1 L2196.3,349.7 L2196.7,351.2 L2197.0,352.7 L2197.5,354.1 L2197.9,355.6 L2198.3,357.1 L2198.8,358.6 L2199.3,360.1 L2199.8,361.6 L2200.3,363.1 L2200.8,364.6 L2201.3,366.0 L2201.9,367.4 L2202.5,368.8 L2203.1,370.1 L2203.8,371.5 L2204.5,372.9 L2205.3,374.3 L2206.1,375.5 L2206.9,376.8 L2207.7,378.1 L2208.5,379.3 L2209.3,380.5 L2210.3,381.9 L2211.3,383.3 L2212.4,384.7 L2213.4,386.0 L2214.5,387.4 L2215.5,388.8 L2216.4,390.1 L2217.3,391.5 L2218.1,392.9 L2219.0,394.3 L2219.9,395.7 L2220.8,397.0 L2221.7,398.1 L2222.9,399.4 L2224.1,400.5 L2225.3,401.6 L2226.6,402.5 L2228.0,403.3 L2229.5,404.0 L2231.1,404.5 L2232.8,404.9 L2234.6,405.2 L2236.3,405.4 L2237.9,405.5 L2239.6,405.4 L2241.2,405.3 L2242.9,405.3 L2244.6,405.4 L2246.2,405.7 L2247.9,406.0 L2249.6,406.4 L2251.2,406.9 L2252.9,407.5 L2254.2,408.0 L2255.6,408.7 L2256.9,409.5 L2258.3,410.2 L2259.7,410.8 L2261.2,411.2 L2262.8,411.5 L2264.6,411.6 L2266.4,411.6 L2268.2,411.5 L2269.9,411.4 L2271.5,411.2 L2273.2,410.8 L2274.7,410.3 L2276.2,409.8 L2277.8,409.5 L2279.3,409.7 L2281.0,410.0 L2282.7,410.4 L2284.4,410.9 L2286.1,411.2 L2287.7,411.4 L2289.3,411.6 L2291.0,411.7 L2292.6,411.7 L2294.4,411.6 L2295.8,411.5 L2297.3,411.3 L2298.8,411.0 L2300.3,410.7 L2301.8,410.4 L2303.3,410.0 L2304.7,409.5 L2306.2,409.0 L2307.7,408.3 L2309.1,407.6 L2310.4,406.9 L2311.7,406.1 L2313.0,405.4 L2314.6,404.3 L2316.1,403.1 L2317.6,402.0 L2319.3,401.2 L2321.3,401.0 L2323.7,401.0 L2325.7,401.1 L2326.5,401.2" fill="none" stroke="#0000ff" stroke-width="5.8" stroke-linejoin="round" stroke-linecap="butt" clip-path="url(#cr)" />
<path d="M920.7,802.7 L921.1,802.9 L921.9,803.5 L923.1,804.4 L924.7,805.4 L926.3,806.6 L928.1,807.8 L929.7,809.0 L931.1,810.0 L932.4,811.0 L933.8,812.1 L935.1,813.1 L936.4,814.2 L937.7,815.3 L939.0,816.3 L940.2,817.4 L941.5,818.3 L942.9,819.4 L944.3,820.4 L945.6,821.4 L947.0,822.3 L948.4,823.2 L949.8,823.9 L951.4,824.5 L953.0,825.0 L954.6,825.4 L956.3,825.7 L958.1,826.0 L959.5,826.1 L961.0,826.2 L962.6,826.2 L964.1,826.2 L965.8,826.2 L967.4,826.1 L969.0,826.0 L970.5,826.0 L972.1,825.9 L973.7,825.8 L975.3,825.7 L976.8,825.5 L978.4,825.4 L980.0,825.3 L981.5,825.2 L983.0,825.1 L984.8,825.1 L986.5,825.2 L988.2,825.3 L989.9,825.4 L991.6,825.5 L993.4,825.6 L995.1,825.7 L996.8,825.8 L998.5,825.9 L1000.3,826.1 L1002.0,826.1 L1003.7,826.2 L1005.5,826.2 L1007.2,826.1 L1008.9,826.0 L1010.7,825.9 L1012.4,825.8 L1014.1,825.6 L1015.6,825.4 L1017.1,825.2 L1018.6,824.9 L1020.1,824.6 L1021.6,824.3 L1023.0,823.9 L1024.5,823.5 L1026.0,822.9 L1027.5,822.2 L1029.0,821.4 L1030.4,820.6 L1031.9,819.8 L1033.4,819.0 L1034.9,818.3 L1036.3,817.7 L1037.8,817.0 L1039.3,816.4 L1040.8,815.8 L1042.3,815.3 L1043.7,814.7 L1045.2,814.1 L1046.7,813.6 L1048.2,813.0 L1049.7,812.5 L1051.1,812.0 L1052.6,811.5 L1054.1,811.0 L1055.6,810.6 L1057.1,810.3 L1058.5,809.9 L1060.0,809.6 L1061.5,809.3 L1063.0,809.1 L1064.5,809.0 L1066.0,809.0 L1067.5,809.0 L1068.9,809.1 L1070.4,809.3 L1071.9,809.6 L1073.4,809.9 L1074.9,810.3 L1076.3,810.6 L1077.8,811.0 L1079.3,811.5 L1080.8,812.0 L1082.3,812.5 L1083.8,813.0 L1085.2,813.6 L1086.7,814.1 L1088.2,814.7 L1089.7,815.3 L1091.2,815.9 L1092.7,816.5 L1094.1,817.1 L1095.6,817.7 L1097.1,818.3 L1098.6,818.9 L1100.1,819.5 L1101.5,820.1 L1103.0,820.7 L1104.5,821.3 L1106.0,821.9 L1107.5,822.4 L1108.9,823.0 L1110.4,823.4 L1111.9,823.9 L1113.4,824.3 L1114.9,824.8 L1116.4,825.2 L1117.8,825.6 L1119.3,825.9 L1120.7,826.2 L1122.1,826.6 L1123.5,826.8 L1125.0,827.1 L1126.5,827.4 L1128.2,827.6 L1129.6,827.8 L1131.0,828.0 L1132.5,828.1 L1134.0,828.3 L1135.5,828.4 L1137.1,828.6 L1138.8,828.7 L1140.5,828.8 L1142.1,828.9 L1143.8,829.0 L1145.5,829.1 L1147.3,829.2 L1149.0,829.3 L1150.5,829.4 L1152.0,829.4 L1153.6,829.5 L1155.2,829.5 L1156.9,829.6 L1158.6,829.6 L1160.2,829.6 L1161.9,829.7 L1163.6,829.7 L1165.2,829.7 L1166.9,829.7 L1168.5,829.7 L1170.1,829.7 L1171.6,829.7 L1173.1,829.7 L1174.6,829.7 L1175.9,829.7 L1177.7,829.7 L1179.4,829.7 L1181.0,829.6 L1182.6,829.6 L1184.1,829.6 L1185.6,829.5 L1187.1,829.4 L1188.8,829.4 L1190.5,829.3 L1191.9,829.2 L1193.5,829.2 L1195.1,829.1 L1196.7,829.0 L1198.4,828.9 L1200.1,828.8 L1201.8,828.7 L1203.4,828.6 L1205.1,828.5 L1206.7,828.4 L1208.3,828.3 L1209.8,828.2 L1211.2,828.0 L1212.9,827.9 L1214.5,827.7 L1216.0,827.6 L1217.5,827.4 L1218.9,827.2 L1220.4,827.0 L1222.0,826.8 L1223.7,826.6 L1225.1,826.4 L1226.6,826.2 L1228.1,825.9 L1229.7,825.7 L1231.3,825.4 L1232.9,825.1 L1234.5,824.8 L1236.1,824.6 L1237.7,824.3 L1239.3,824.0 L1240.8,823.7 L1242.3,823.5 L1244.0,823.2 L1245.7,822.9 L1247.3,822.6 L1248.8,822.3 L1250.4,822.0 L1252.0,821.7 L1253.6,821.5 L1255.2,821.2 L1256.8,821.0 L1258.3,820.8 L1259.8,820.7 L1261.2,820.5 L1262.7,820.4 L1264.2,820.3 L1265.7,820.2 L1267.2,820.1 L1268.7,820.0 L1270.3,819.9 L1271.9,819.8 L1273.4,819.8 L1275.0,819.7 L1276.6,819.6 L1278.2,819.6 L1279.9,819.6 L1281.6,819.6 L1283.3,819.5 L1285.0,819.5 L1286.6,819.5 L1288.3,819.6 L1289.8,819.6 L1291.4,819.6 L1292.8,819.7 L1294.2,819.8 L1296.1,819.9 L1297.9,820.0 L1299.6,820.2 L1301.2,820.5 L1302.9,820.7 L1304.6,821.0 L1306.1,821.3 L1307.5,821.6 L1309.0,822.0 L1310.5,822.4 L1312.0,822.7 L1313.5,823.1 L1314.9,823.5 L1316.4,823.8 L1317.9,824.2 L1319.4,824.6 L1320.9,824.9 L1322.3,825.3 L1323.8,825.6 L1325.3,826.0 L1326.8,826.3 L1328.2,826.6 L1329.7,826.9 L1331.1,827.2 L1332.6,827.5 L1334.1,827.8 L1335.7,828.0 L1337.2,828.3 L1338.7,828.4 L1340.2,828.6 L1341.8,828.8 L1343.4,828.9 L1345.1,829.0 L1346.8,829.1 L1348.5,829.2 L1350.2,829.3 L1351.7,829.3 L1353.1,829.4 L1354.6,829.4 L1356.1,829.4 L1357.7,829.4 L1359.2,829.4 L1360.8,829.4 L1362.4,829.3 L1364.0,829.3 L1365.7,829.3 L1367.4,829.3 L1369.0,829.2 L1370.7,829.2 L1372.2,829.2 L1373.7,829.2 L1375.2,829.2 L1376.7,829.2 L1378.3,829.3 L1380.0,829.3 L1381.6,829.3 L1383.3,829.3 L1384.9,829.3 L1386.6,829.3 L1388.2,829.4 L1389.8,829.3 L1391.4,829.3 L1392.9,829.3 L1394.4,829.2 L1395.8,829.2 L1397.2,829.1 L1398.5,828.9 L1399.8,828.8 L1401.6,828.5 L1403.3,828.2 L1404.9,827.8 L1406.4,827.4 L1407.9,827.0 L1409.3,826.6 L1410.8,826.1 L1412.2,825.7 L1413.8,825.2 L1415.3,824.7 L1416.8,824.2 L1418.2,823.6 L1419.7,823.1 L1421.1,822.6 L1422.6,822.2 L1424.1,821.8 L1425.6,821.5 L1427.2,821.2 L1428.7,820.9 L1430.2,820.5 L1431.6,820.1 L1433.0,819.5 L1434.3,818.7 L1435.5,817.8 L1436.7,816.8 L1437.9,815.7 L1439.0,814.6 L1440.2,813.4 L1441.3,812.2 L1442.4,811.1 L1443.5,809.9 L1444.6,808.7 L1445.7,807.4 L1446.7,806.2 L1447.7,804.8 L1448.7,803.4 L1449.6,801.8 L1450.2,800.6 L1450.8,799.3 L1451.4,798.0 L1451.9,796.6 L1452.4,795.1 L1452.9,793.7 L1453.4,792.2 L1453.8,790.7 L1454.3,789.1 L1454.7,787.6 L1455.1,786.1 L1455.4,784.6 L1455.8,783.2 L1456.2,781.6 L1456.5,780.1 L1456.8,778.6 L1457.1,777.1 L1457.3,775.5 L1457.6,774.0 L1457.8,772.5 L1458.0,770.9 L1458.2,769.4 L1458.5,767.8 L1458.7,766.1 L1458.9,764.5 L1459.1,763.0 L1459.3,761.5 L1459.5,760.0 L1459.8,758.5 L1460.0,756.9 L1460.2,755.4 L1460.4,753.8 L1460.6,752.2 L1460.8,750.6 L1461.0,749.0 L1461.1,747.4 L1461.3,745.8 L1461.5,744.2 L1461.7,742.7 L1461.9,741.1 L1462.0,739.6 L1462.2,738.0 L1462.4,736.5 L1462.5,735.0 L1462.7,733.5 L1462.8,731.9 L1462.9,730.4 L1463.1,728.9 L1463.2,727.4 L1463.3,725.9 L1463.5,724.4 L1463.6,722.9 L1463.7,721.4 L1463.8,719.8 L1464.0,718.3 L1464.1,716.8 L1464.2,715.2 L1464.4,713.7 L1464.5,712.2 L1464.6,710.6 L1464.8,709.1 L1464.9,707.6 L1465.0,706.0 L1465.1,704.4 L1465.3,702.9 L1465.4,701.3 L1465.5,699.8 L1465.6,698.2 L1465.8,696.6 L1465.9,695.0 L1466.0,693.5 L1466.2,691.9 L1466.3,690.4 L1466.4,688.9 L1466.6,687.4 L1466.7,685.9 L1466.9,684.5 L1467.0,683.0 L1467.1,681.5 L1467.3,680.0 L1467.4,678.4 L1467.6,676.9 L1467.7,675.4 L1467.9,673.9 L1468.0,672.4 L1468.1,670.9 L1468.3,669.4 L1468.4,667.9 L1468.5,666.4 L1468.7,664.9 L1468.8,663.4 L1468.9,661.9 L1469.0,660.4 L1469.2,658.9 L1469.3,657.4 L1469.4,655.9 L1469.5,654.4 L1469.6,652.9 L1469.7,651.4 L1469.8,649.9 L1470.0,648.4 L1470.1,646.9 L1470.2,645.4 L1470.3,643.9 L1470.4,642.4 L1470.5,640.9 L1470.6,639.4 L1470.7,637.9 L1470.9,636.4 L1471.0,634.9 L1471.1,633.4 L1471.2,631.9 L1471.3,630.4 L1471.4,628.9 L1471.5,627.4 L1471.7,625.9 L1471.8,624.4 L1471.9,622.9 L1472.0,621.4 L1472.1,619.9 L1472.2,618.4 L1472.4,616.9 L1472.5,615.4 L1472.6,613.9 L1472.7,612.4 L1472.8,611.0 L1472.9,609.4 L1473.1,607.8 L1473.2,606.1 L1473.3,604.5 L1473.4,602.9 L1473.6,601.3 L1473.7,599.6 L1473.8,598.0 L1473.9,596.5 L1474.1,594.9 L1474.2,593.3 L1474.3,591.8 L1474.5,590.3 L1474.6,588.9 L1474.7,587.4 L1474.9,586.1 L1475.1,584.4 L1475.3,582.7 L1475.4,581.0 L1475.6,579.3 L1475.8,577.7 L1476.0,576.1 L1476.2,574.7 L1476.4,573.4 L1476.7,572.2 L1477.0,571.1 L1477.8,568.7 L1478.6,567.6 L1479.3,568.3 L1480.1,570.1 L1480.7,572.2 L1481.0,573.3 L1481.3,574.7 L1481.5,576.1 L1481.7,577.7 L1481.9,579.3 L1482.1,581.0 L1482.3,582.8 L1482.4,584.5 L1482.6,586.3 L1482.8,588.1 L1482.9,589.5 L1483.1,591.0 L1483.2,592.4 L1483.3,593.9 L1483.5,595.4 L1483.6,596.9 L1483.7,598.5 L1483.8,600.1 L1484.0,601.6 L1484.1,603.2 L1484.2,604.9 L1484.3,606.5 L1484.5,608.1 L1484.6,609.7 L1484.7,611.4 L1484.9,613.0 L1485.0,614.5 L1485.1,616.0 L1485.2,617.5 L1485.3,619.0 L1485.5,620.6 L1485.6,622.1 L1485.7,623.7 L1485.8,625.2 L1486.0,626.8 L1486.1,628.4 L1486.2,630.0 L1486.3,631.5 L1486.5,633.1 L1486.6,634.7 L1486.7,636.3 L1486.8,637.9 L1487.0,639.4 L1487.1,641.0 L1487.2,642.6 L1487.3,644.1 L1487.5,645.7 L1487.6,647.3 L1487.7,648.8 L1487.9,650.4 L1488.0,652.0 L1488.1,653.6 L1488.3,655.1 L1488.4,656.7 L1488.5,658.3 L1488.7,659.9 L1488.8,661.4 L1488.9,663.0 L1489.1,664.5 L1489.2,666.1 L1489.3,667.6 L1489.5,669.2 L1489.6,670.7 L1489.8,672.2 L1489.9,673.8 L1490.0,675.3 L1490.2,676.8 L1490.3,678.4 L1490.5,679.9 L1490.6,681.4 L1490.8,682.9 L1490.9,684.4 L1491.1,685.9 L1491.2,687.4 L1491.4,688.9 L1491.5,690.4 L1491.7,691.9 L1491.8,693.4 L1492.0,694.9 L1492.1,696.4 L1492.3,697.8 L1492.4,699.3 L1492.6,700.8 L1492.7,702.2 L1492.9,703.8 L1493.0,705.4 L1493.2,707.0 L1493.3,708.6 L1493.5,710.2 L1493.6,711.8 L1493.8,713.3 L1493.9,714.9 L1494.1,716.5 L1494.2,718.0 L1494.4,719.6 L1494.5,721.1 L1494.7,722.6 L1494.9,724.1 L1495.0,725.6 L1495.2,727.1 L1495.4,728.8 L1495.7,730.4 L1495.9,732.1 L1496.1,733.7 L1496.3,735.3 L1496.5,736.9 L1496.8,738.5 L1497.0,740.1 L1497.3,741.7 L1497.5,743.2 L1497.8,744.8 L1498.1,746.3 L1498.3,747.9 L1498.6,749.5 L1498.9,751.1 L1499.3,752.7 L1499.6,754.3 L1499.9,755.9 L1500.2,757.5 L1500.6,759.0 L1500.9,760.6 L1501.3,762.1 L1501.7,763.6 L1502.1,765.1 L1502.5,766.6 L1502.9,768.1 L1503.4,769.7 L1503.8,771.3 L1504.3,772.8 L1504.8,774.3 L1505.3,775.8 L1505.9,777.2 L1506.4,778.6 L1507.0,779.9 L1507.7,781.1 L1508.6,782.7 L1509.6,784.3 L1510.7,785.9 L1511.8,787.2 L1512.9,788.0 L1513.9,788.3 L1515.0,787.8 L1516.1,786.6 L1517.2,784.9 L1518.2,783.0 L1519.1,781.1 L1519.6,779.9 L1520.1,778.5 L1520.5,777.1 L1520.9,775.6 L1521.3,774.0 L1521.6,772.4 L1521.9,770.8 L1522.3,769.1 L1522.6,767.5 L1522.9,766.0 L1523.2,764.5 L1523.6,762.8 L1523.9,761.0 L1524.2,759.3 L1524.6,757.5 L1524.9,755.8 L1525.2,754.2 L1525.5,752.6 L1525.9,751.2 L1526.3,750.0 L1527.1,748.2 L1527.8,746.5 L1528.7,745.3 L1529.5,744.8 L1530.3,745.3 L1531.1,746.5 L1531.9,748.2 L1532.6,750.0 L1533.0,751.1 L1533.3,752.4 L1533.6,753.8 L1533.9,755.3 L1534.2,756.8 L1534.4,758.5 L1534.7,760.1 L1534.9,761.8 L1535.2,763.4 L1535.4,765.0 L1535.7,766.6 L1536.0,768.1 L1536.2,769.6 L1536.5,771.1 L1536.8,772.6 L1537.0,774.2 L1537.3,775.7 L1537.6,777.2 L1537.9,778.7 L1538.2,780.2 L1538.5,781.7 L1538.8,783.2 L1539.2,784.7 L1539.5,786.2 L1539.9,787.6 L1540.3,789.1 L1540.7,790.6 L1541.1,792.0 L1541.6,793.5 L1542.0,794.9 L1542.5,796.3 L1542.9,797.7 L1543.5,799.3 L1544.1,801.0 L1544.7,802.6 L1545.4,804.2 L1546.0,805.8 L1546.7,807.3 L1547.4,808.8 L1548.1,810.1 L1549.1,811.8 L1550.0,813.3 L1551.0,814.8 L1552.1,816.1 L1553.3,817.4 L1554.5,818.4 L1555.9,819.3 L1557.3,820.2 L1558.7,821.0 L1560.2,821.8 L1561.6,822.6 L1563.0,823.3 L1564.4,824.1 L1565.7,824.8 L1567.1,825.5 L1568.5,826.2 L1569.9,826.7 L1571.5,827.3 L1573.1,827.8 L1574.7,828.2 L1576.4,828.5 L1578.2,828.8 L1579.6,829.0 L1581.1,829.1 L1582.7,829.2 L1584.3,829.3 L1585.9,829.3 L1587.5,829.3 L1589.1,829.3 L1590.7,829.2 L1592.2,829.1 L1593.8,829.1 L1595.4,829.0 L1597.0,828.9 L1598.6,828.7 L1600.1,828.4 L1601.6,828.1 L1603.1,827.8 L1604.7,827.2 L1606.2,826.6 L1607.7,825.9 L1609.2,825.1 L1610.6,824.3 L1612.0,823.4 L1613.5,822.6 L1614.8,821.7 L1616.1,820.8 L1617.4,819.8 L1618.7,818.9 L1620.0,817.9 L1621.3,816.9 L1622.6,816.1 L1623.9,815.3 L1625.3,814.6 L1626.6,813.9 L1628.0,813.3 L1629.4,812.7 L1630.8,812.2 L1632.2,811.8 L1633.8,811.3 L1635.5,810.9 L1637.1,810.5 L1638.8,810.3 L1640.5,810.3 L1642.1,810.6 L1643.8,811.0 L1645.5,811.5 L1647.1,812.2 L1648.8,812.8 L1650.1,813.4 L1651.5,814.1 L1652.8,814.9 L1654.2,815.6 L1655.6,816.3 L1657.1,817.0 L1658.5,817.5 L1659.9,818.0 L1661.4,818.5 L1662.9,819.0 L1664.4,819.5 L1665.9,820.0 L1667.4,820.5 L1668.9,821.1 L1670.4,821.7 L1671.8,822.4 L1673.3,823.0 L1674.7,823.6 L1676.3,824.2 L1677.8,824.6 L1679.3,825.0 L1680.8,825.3 L1682.4,825.6 L1683.9,825.8 L1685.5,826.0 L1687.1,826.1 L1688.7,826.2 L1690.2,826.3 L1691.8,826.4 L1693.4,826.4 L1694.9,826.3 L1696.5,826.3 L1698.0,826.2 L1699.6,826.1 L1701.1,825.9 L1702.7,825.7 L1704.3,825.4 L1705.8,825.1 L1707.4,824.8 L1708.9,824.4 L1710.5,823.9 L1712.1,823.5 L1713.6,823.0 L1715.1,822.6 L1716.7,822.1 L1718.3,821.6 L1719.9,821.0 L1721.5,820.5 L1723.0,819.9 L1724.6,819.3 L1726.1,818.7 L1727.6,818.0 L1729.2,817.3 L1730.8,816.6 L1732.3,815.8 L1733.8,815.1 L1735.3,814.2 L1736.7,813.3 L1738.0,812.2 L1739.0,811.1 L1740.0,810.0 L1741.0,808.7 L1741.9,807.4 L1742.7,806.1 L1743.6,804.7 L1744.4,803.3 L1745.2,801.8 L1746.0,800.5 L1746.8,799.1 L1747.6,797.8 L1748.3,796.3 L1749.1,794.9 L1749.8,793.4 L1750.5,791.9 L1751.2,790.4 L1751.9,788.9 L1752.5,787.3 L1753.0,785.9 L1753.5,784.4 L1754.0,782.9 L1754.5,781.3 L1755.0,779.8 L1755.4,778.2 L1755.8,776.6 L1756.2,775.1 L1756.6,773.5 L1757.0,771.8 L1757.3,770.2 L1757.7,768.6 L1758.0,767.1 L1758.3,765.5 L1758.6,763.9 L1758.8,762.4 L1759.1,760.8 L1759.3,759.2 L1759.6,757.6 L1759.8,755.9 L1760.0,754.3 L1760.2,752.7 L1760.4,751.1 L1760.6,749.5 L1760.8,747.9 L1761.0,746.4 L1761.1,744.9 L1761.3,743.4 L1761.5,741.9 L1761.6,740.4 L1761.8,738.9 L1761.9,737.4 L1762.0,735.9 L1762.2,734.4 L1762.3,732.9 L1762.4,731.4 L1762.6,729.8 L1762.7,728.3 L1762.9,726.7 L1763.0,725.2 L1763.1,723.7 L1763.3,722.2 L1763.4,720.7 L1763.5,719.1 L1763.7,717.6 L1763.8,716.0 L1763.9,714.5 L1764.1,712.9 L1764.2,711.3 L1764.3,709.7 L1764.5,708.2 L1764.6,706.6 L1764.7,705.0 L1764.8,703.4 L1764.9,701.8 L1765.0,700.4 L1765.1,698.9 L1765.2,697.4 L1765.3,695.9 L1765.4,694.5 L1765.5,693.0 L1765.6,691.5 L1765.7,690.0 L1765.8,688.5 L1765.9,687.0 L1766.0,685.5 L1766.1,684.0 L1766.2,682.5 L1766.3,681.0 L1766.3,679.5 L1766.4,677.9 L1766.5,676.4 L1766.6,674.9 L1766.7,673.3 L1766.8,671.8 L1766.8,670.3 L1766.9,668.8 L1767.0,667.2 L1767.1,665.7 L1767.1,664.1 L1767.2,662.6 L1767.3,661.0 L1767.3,659.4 L1767.4,657.9 L1767.5,656.3 L1767.6,654.7 L1767.6,653.1 L1767.7,651.6 L1767.8,650.0 L1767.8,648.4 L1767.9,646.9 L1768.0,645.3 L1768.0,643.7 L1768.1,642.2 L1768.2,640.6 L1768.3,639.1 L1768.3,637.5 L1768.4,636.0 L1768.5,634.4 L1768.5,632.8 L1768.6,631.3 L1768.7,629.7 L1768.8,628.2 L1768.8,626.6 L1768.9,625.1 L1769.0,623.5 L1769.1,621.9 L1769.1,620.4 L1769.2,618.8 L1769.3,617.3 L1769.3,615.7 L1769.4,614.2 L1769.5,612.6 L1769.6,611.1 L1769.7,609.5 L1769.7,607.9 L1769.8,606.4 L1769.9,604.8 L1770.0,603.3 L1770.1,601.7 L1770.2,600.2 L1770.3,598.6 L1770.4,597.1 L1770.4,595.5 L1770.5,593.9 L1770.6,592.4 L1770.7,590.8 L1770.8,589.3 L1770.9,587.7 L1770.9,586.2 L1771.0,584.6 L1771.1,583.1 L1771.2,581.5 L1771.2,580.0 L1771.3,578.5 L1771.3,577.0 L1771.4,575.5 L1771.5,574.1 L1771.5,572.7 L1771.6,571.3 L1771.6,569.9 L1771.6,568.4 L1771.7,567.0 L1771.7,565.5 L1771.8,564.1 L1771.8,562.5 L1771.9,561.0 L1771.9,559.4 L1772.0,557.7 L1772.0,556.0 L1772.1,554.2 L1772.1,552.3 L1772.2,550.4 L1772.2,549.3 L1772.3,548.1 L1772.3,547.0 L1772.3,545.8 L1772.4,544.6 L1772.4,543.4 L1772.5,542.2 L1772.5,540.9 L1772.5,539.7 L1772.6,538.4 L1772.6,537.1 L1772.7,535.8 L1772.7,534.4 L1772.7,533.1 L1772.8,531.7 L1772.8,530.3 L1772.9,528.9 L1772.9,527.5 L1773.0,526.0 L1773.0,524.6 L1773.0,523.1 L1773.1,521.6 L1773.1,520.2 L1773.2,518.7 L1773.2,517.1 L1773.3,515.6 L1773.3,514.1 L1773.4,512.5 L1773.4,511.0 L1773.5,509.4 L1773.5,507.8 L1773.6,506.3 L1773.6,504.7 L1773.7,503.1 L1773.7,501.5 L1773.8,499.9 L1773.8,498.2 L1773.8,496.6 L1773.9,495.0 L1773.9,493.4 L1774.0,491.7 L1774.0,490.1 L1774.1,488.4 L1774.1,486.8 L1774.2,485.1 L1774.2,483.5 L1774.3,481.8 L1774.3,480.2 L1774.4,478.5 L1774.4,476.9 L1774.5,475.2 L1774.5,473.6 L1774.5,471.9 L1774.6,470.3 L1774.6,468.6 L1774.7,467.0 L1774.7,465.4 L1774.8,463.7 L1774.8,462.1 L1774.8,460.5 L1774.9,458.8 L1774.9,457.2 L1775.0,455.6 L1775.0,454.0 L1775.0,452.6 L1775.1,451.2 L1775.1,449.7 L1775.1,448.3 L1775.2,446.8 L1775.2,445.4 L1775.2,443.9 L1775.3,442.5 L1775.3,441.0 L1775.3,439.5 L1775.4,438.0 L1775.4,436.6 L1775.4,435.1 L1775.5,433.6 L1775.5,432.1 L1775.5,430.6 L1775.6,429.1 L1775.6,427.6 L1775.6,426.0 L1775.6,424.5 L1775.7,423.0 L1775.7,421.5 L1775.7,419.9 L1775.8,418.4 L1775.8,416.9 L1775.8,415.3 L1775.9,413.8 L1775.9,412.3 L1775.9,410.7 L1775.9,409.2 L1776.0,407.6 L1776.0,406.1 L1776.0,404.5 L1776.1,403.0 L1776.1,401.4 L1776.1,399.9 L1776.1,398.3 L1776.2,396.7 L1776.2,395.2 L1776.2,393.6 L1776.3,392.1 L1776.3,390.5 L1776.3,388.9 L1776.3,387.4 L1776.4,385.8 L1776.4,384.3 L1776.4,382.7 L1776.5,381.2 L1776.5,379.6 L1776.5,378.1 L1776.5,376.5 L1776.6,375.0 L1776.6,373.4 L1776.6,371.9 L1776.7,370.3 L1776.7,368.8 L1776.7,367.2 L1776.7,365.7 L1776.8,364.2 L1776.8,362.6 L1776.8,361.1 L1776.8,359.6 L1776.9,358.1 L1776.9,356.5 L1776.9,355.0 L1777.0,353.5 L1777.0,352.0 L1777.0,350.5 L1777.0,349.0 L1777.1,347.5 L1777.1,346.0 L1777.1,344.5 L1777.1,343.1 L1777.2,341.6 L1777.2,340.1 L1777.2,338.7 L1777.3,337.2 L1777.3,335.7 L1777.3,334.3 L1777.3,332.9 L1777.4,331.4 L1777.4,330.0 L1777.4,328.4 L1777.5,326.8 L1777.5,325.2 L1777.5,323.6 L1777.6,322.1 L1777.6,320.5 L1777.6,318.9 L1777.7,317.3 L1777.7,315.8 L1777.7,314.2 L1777.7,312.6 L1777.8,311.1 L1777.8,309.5 L1777.8,308.0 L1777.9,306.4 L1777.9,304.9 L1777.9,303.3 L1778.0,301.8 L1778.0,300.2 L1778.0,298.7 L1778.1,297.2 L1778.1,295.6 L1778.1,294.1 L1778.2,292.6 L1778.2,291.1 L1778.2,289.6 L1778.3,288.0 L1778.3,286.5 L1778.3,285.0 L1778.3,283.5 L1778.4,282.0 L1778.4,280.5 L1778.4,279.0 L1778.5,277.5 L1778.5,276.0 L1778.5,274.5 L1778.6,273.0 L1778.6,271.5 L1778.6,270.0 L1778.7,268.5 L1778.7,267.0 L1778.7,265.6 L1778.7,264.1 L1778.8,262.6 L1778.8,261.1 L1778.8,259.7 L1778.9,258.2 L1778.9,256.7 L1778.9,255.2 L1779.0,253.8 L1779.0,252.3 L1779.0,250.9 L1779.0,249.4 L1779.1,247.9 L1779.1,246.5 L1779.1,245.0 L1779.2,243.6 L1779.2,242.1 L1779.2,240.7 L1779.3,239.2 L1779.3,237.8 L1779.3,236.3 L1779.3,234.9 L1779.4,233.4 L1779.4,232.0 L1779.4,230.4 L1779.5,228.8 L1779.5,227.2 L1779.5,225.6 L1779.6,224.1 L1779.6,222.5 L1779.6,220.9 L1779.7,219.3 L1779.7,217.7 L1779.7,216.1 L1779.8,214.5 L1779.8,212.9 L1779.8,211.3 L1779.8,209.7 L1779.9,208.1 L1779.9,206.5 L1779.9,205.0 L1780.0,203.4 L1780.0,201.8 L1780.0,200.2 L1780.1,198.6 L1780.1,197.1 L1780.1,195.5 L1780.2,193.9 L1780.2,192.4 L1780.2,190.8 L1780.3,189.3 L1780.3,187.7 L1780.3,186.2 L1780.3,184.7 L1780.4,183.1 L1780.4,181.6 L1780.4,180.1 L1780.5,178.6 L1780.5,177.1 L1780.5,175.6 L1780.6,174.1 L1780.6,172.6 L1780.6,171.1 L1780.6,169.6 L1780.7,168.2 L1780.7,166.7 L1780.7,165.3 L1780.7,163.8 L1780.8,162.4 L1780.8,161.0 L1780.8,159.6 L1780.9,158.2 L1780.9,156.8 L1780.9,155.4 L1780.9,154.0 L1781.0,152.7 L1781.0,151.3 L1781.0,150.0 L1781.0,148.3 L1781.1,146.6 L1781.1,145.0 L1781.1,143.3 L1781.1,141.7 L1781.2,140.1 L1781.2,138.5 L1781.2,136.9 L1781.3,135.3 L1781.3,133.7 L1781.3,132.2 L1781.3,130.6 L1781.4,129.1 L1781.4,127.6 L1781.4,126.1 L1781.4,124.6 L1781.5,123.1 L1781.5,121.6 L1781.5,120.1 L1781.5,118.6 L1781.6,117.2 L1781.6,115.7 L1781.6,114.3 L1781.6,112.8 L1781.6,111.4 L1781.7,109.9 L1781.7,108.5 L1781.7,107.1 L1781.7,105.7 L1781.7,104.2 L1781.8,102.8 L1781.8,101.4 L1781.8,100.0 L1781.8,98.4 L1781.8,96.8 L1781.9,95.2 L1781.9,93.6 L1781.9,92.0 L1781.9,90.4 L1781.9,88.9 L1782.0,87.3 L1782.0,85.8 L1782.0,84.3 L1782.0,82.7 L1782.0,81.2 L1782.0,79.7 L1782.0,78.2 L1782.1,76.7 L1782.1,75.2 L1782.1,73.7 L1782.1,72.3 L1782.1,70.8 L1782.1,69.3 L1782.1,67.8 L1782.2,66.4 L1782.2,64.9 L1782.2,63.5 L1782.2,62.0 L1782.2,60.3 L1782.2,58.6 L1782.2,56.7 L1782.3,54.8 L1782.3,52.8 L1782.3,50.8 L1782.3,48.8 L1782.3,46.7 L1782.3,44.7 L1782.3,42.8 L1782.4,40.9 L1782.4,39.1 L1782.4,37.4 L1782.4,35.8 L1782.4,34.4 L1782.4,33.1 L1782.4,32.1 L1782.5,31.2 L1782.5,30.5 L1782.5,30.1 L1782.5,30.0 L1782.5,30.1 L1782.5,30.5 L1782.6,31.2 L1782.6,32.1 L1782.6,33.1 L1782.6,34.4 L1782.6,35.8 L1782.6,37.4 L1782.7,39.1 L1782.7,40.9 L1782.7,42.8 L1782.7,44.7 L1782.7,46.7 L1782.8,48.8 L1782.8,50.8 L1782.8,52.8 L1782.8,54.8 L1782.8,56.7 L1782.9,58.6 L1782.9,60.3 L1782.9,62.0 L1782.9,63.5 L1782.9,64.9 L1782.9,66.4 L1783.0,67.8 L1783.0,69.3 L1783.0,70.8 L1783.0,72.3 L1783.0,73.7 L1783.0,75.2 L1783.1,76.7 L1783.1,78.2 L1783.1,79.7 L1783.1,81.2 L1783.1,82.7 L1783.1,84.3 L1783.1,85.8 L1783.2,87.3 L1783.2,88.9 L1783.2,90.4 L1783.2,92.0 L1783.2,93.6 L1783.2,95.2 L1783.3,96.8 L1783.3,98.4 L1783.3,100.0 L1783.3,101.4 L1783.3,102.8 L1783.4,104.2 L1783.4,105.7 L1783.4,107.1 L1783.4,108.5 L1783.4,109.9 L1783.4,111.4 L1783.5,112.8 L1783.5,114.3 L1783.5,115.7 L1783.5,117.2 L1783.5,118.6 L1783.6,120.1 L1783.6,121.6 L1783.6,123.1 L1783.6,124.6 L1783.6,126.1 L1783.7,127.6 L1783.7,129.1 L1783.7,130.6 L1783.7,132.2 L1783.7,133.7 L1783.8,135.3 L1783.8,136.9 L1783.8,138.5 L1783.8,140.1 L1783.9,141.7 L1783.9,143.3 L1783.9,145.0 L1783.9,146.6 L1784.0,148.3 L1784.0,150.0 L1784.0,151.3 L1784.0,152.7 L1784.1,154.0 L1784.1,155.4 L1784.1,156.8 L1784.1,158.2 L1784.2,159.6 L1784.2,161.0 L1784.2,162.4 L1784.3,163.8 L1784.3,165.3 L1784.3,166.7 L1784.3,168.2 L1784.4,169.6 L1784.4,171.1 L1784.4,172.6 L1784.4,174.1 L1784.5,175.6 L1784.5,177.1 L1784.5,178.6 L1784.6,180.1 L1784.6,181.6 L1784.6,183.1 L1784.7,184.7 L1784.7,186.2 L1784.7,187.7 L1784.8,189.3 L1784.8,190.8 L1784.8,192.4 L1784.9,193.9 L1784.9,195.5 L1784.9,197.1 L1785.0,198.6 L1785.0,200.2 L1785.0,201.8 L1785.1,203.4 L1785.1,205.0 L1785.1,206.5 L1785.2,208.1 L1785.2,209.7 L1785.2,211.3 L1785.3,212.9 L1785.3,214.5 L1785.3,216.1 L1785.4,217.7 L1785.4,219.3 L1785.4,220.9 L1785.5,222.5 L1785.5,224.1 L1785.6,225.6 L1785.6,227.2 L1785.6,228.8 L1785.7,230.4 L1785.7,232.0 L1785.7,233.4 L1785.8,234.9 L1785.8,236.3 L1785.8,237.8 L1785.9,239.2 L1785.9,240.7 L1785.9,242.1 L1786.0,243.6 L1786.0,245.0 L1786.0,246.5 L1786.1,247.9 L1786.1,249.4 L1786.1,250.9 L1786.2,252.3 L1786.2,253.8 L1786.3,255.3 L1786.3,256.7 L1786.3,258.2 L1786.4,259.7 L1786.4,261.1 L1786.4,262.6 L1786.5,264.1 L1786.5,265.6 L1786.5,267.0 L1786.6,268.5 L1786.6,270.0 L1786.7,271.5 L1786.7,273.0 L1786.7,274.5 L1786.8,276.0 L1786.8,277.5 L1786.8,279.0 L1786.9,280.5 L1786.9,282.0 L1787.0,283.5 L1787.0,285.0 L1787.0,286.5 L1787.1,288.0 L1787.1,289.6 L1787.2,291.1 L1787.2,292.6 L1787.2,294.1 L1787.3,295.6 L1787.3,297.2 L1787.4,298.7 L1787.4,300.2 L1787.4,301.8 L1787.5,303.3 L1787.5,304.9 L1787.6,306.4 L1787.6,308.0 L1787.6,309.5 L1787.7,311.1 L1787.7,312.6 L1787.8,314.2 L1787.8,315.8 L1787.9,317.3 L1787.9,318.9 L1787.9,320.5 L1788.0,322.1 L1788.0,323.6 L1788.1,325.2 L1788.1,326.8 L1788.2,328.4 L1788.2,330.0 L1788.2,331.4 L1788.3,332.9 L1788.3,334.3 L1788.4,335.7 L1788.4,337.2 L1788.4,338.6 L1788.5,340.1 L1788.5,341.6 L1788.6,343.0 L1788.6,344.5 L1788.7,346.0 L1788.7,347.5 L1788.7,348.9 L1788.8,350.4 L1788.8,351.9 L1788.9,353.4 L1788.9,354.9 L1789.0,356.4 L1789.0,357.9 L1789.0,359.4 L1789.1,361.0 L1789.1,362.5 L1789.2,364.0 L1789.2,365.5 L1789.3,367.0 L1789.3,368.6 L1789.4,370.1 L1789.4,371.6 L1789.5,373.2 L1789.5,374.7 L1789.5,376.2 L1789.6,377.8 L1789.6,379.3 L1789.7,380.8 L1789.7,382.4 L1789.8,383.9 L1789.8,385.5 L1789.9,387.0 L1789.9,388.6 L1790.0,390.1 L1790.0,391.7 L1790.1,393.2 L1790.1,394.8 L1790.2,396.3 L1790.2,397.9 L1790.2,399.4 L1790.3,401.0 L1790.3,402.5 L1790.4,404.1 L1790.4,405.6 L1790.5,407.2 L1790.5,408.7 L1790.6,410.2 L1790.6,411.8 L1790.7,413.3 L1790.7,414.9 L1790.8,416.4 L1790.8,417.9 L1790.9,419.5 L1790.9,421.0 L1791.0,422.5 L1791.0,424.1 L1791.0,425.6 L1791.1,427.1 L1791.1,428.6 L1791.2,430.2 L1791.2,431.7 L1791.3,433.2 L1791.3,434.7 L1791.4,436.2 L1791.4,437.7 L1791.5,439.2 L1791.5,440.7 L1791.5,442.2 L1791.6,443.7 L1791.6,445.2 L1791.7,446.7 L1791.7,448.1 L1791.8,449.6 L1791.8,451.1 L1791.9,452.5 L1791.9,454.0 L1791.9,455.6 L1792.0,457.1 L1792.0,458.7 L1792.1,460.3 L1792.1,461.9 L1792.2,463.5 L1792.2,465.1 L1792.3,466.7 L1792.3,468.4 L1792.4,470.0 L1792.4,471.6 L1792.5,473.3 L1792.5,474.9 L1792.6,476.6 L1792.6,478.2 L1792.7,479.9 L1792.7,481.5 L1792.7,483.2 L1792.8,484.8 L1792.8,486.5 L1792.9,488.1 L1792.9,489.8 L1793.0,491.4 L1793.0,493.1 L1793.1,494.7 L1793.1,496.4 L1793.2,498.0 L1793.2,499.7 L1793.3,501.3 L1793.3,503.0 L1793.4,504.6 L1793.4,506.2 L1793.5,507.8 L1793.5,509.4 L1793.6,511.1 L1793.6,512.7 L1793.6,514.3 L1793.7,515.8 L1793.7,517.4 L1793.8,519.0 L1793.8,520.5 L1793.9,522.1 L1793.9,523.6 L1794.0,525.2 L1794.0,526.7 L1794.0,528.2 L1794.1,529.7 L1794.1,531.2 L1794.2,532.6 L1794.2,534.1 L1794.3,535.5 L1794.3,537.0 L1794.3,538.4 L1794.4,539.8 L1794.4,541.2 L1794.5,542.5 L1794.5,543.9 L1794.5,545.2 L1794.6,546.5 L1794.6,547.8 L1794.7,549.1 L1794.7,550.4 L1794.7,551.6 L1794.8,552.8 L1794.8,554.0 L1794.8,555.2 L1794.9,556.3 L1794.9,557.5 L1795.0,558.6 L1795.0,559.7 L1795.0,560.7 L1795.1,562.7 L1795.1,564.6 L1795.2,566.4 L1795.2,568.2 L1795.3,569.8 L1795.3,571.5 L1795.4,573.0 L1795.4,574.5 L1795.5,576.0 L1795.5,577.5 L1795.5,578.9 L1795.6,580.3 L1795.6,581.7 L1795.7,583.1 L1795.7,584.5 L1795.8,585.9 L1795.9,587.4 L1795.9,588.8 L1796.0,590.3 L1796.1,591.9 L1796.1,593.4 L1796.2,595.0 L1796.3,596.5 L1796.4,598.1 L1796.5,599.6 L1796.6,601.2 L1796.7,602.8 L1796.8,604.3 L1796.9,605.9 L1797.0,607.4 L1797.1,609.0 L1797.3,610.5 L1797.4,612.1 L1797.5,613.7 L1797.6,615.2 L1797.7,616.8 L1797.8,618.3 L1797.9,619.9 L1798.0,621.4 L1798.1,623.0 L1798.2,624.5 L1798.3,626.1 L1798.4,627.7 L1798.5,629.2 L1798.6,630.8 L1798.8,632.4 L1798.9,634.0 L1799.0,635.5 L1799.1,637.1 L1799.2,638.7 L1799.3,640.3 L1799.4,641.8 L1799.5,643.4 L1799.6,644.9 L1799.7,646.5 L1799.8,648.0 L1799.9,649.6 L1800.0,651.1 L1800.1,652.6 L1800.2,654.1 L1800.3,655.7 L1800.4,657.2 L1800.5,658.7 L1800.6,660.2 L1800.7,661.7 L1800.9,663.2 L1801.0,664.7 L1801.1,666.2 L1801.2,667.7 L1801.3,669.1 L1801.4,670.6 L1801.5,672.1 L1801.6,673.6 L1801.8,675.1 L1801.9,676.6 L1802.0,678.1 L1802.1,679.6 L1802.3,681.1 L1802.4,682.6 L1802.6,684.1 L1802.7,685.6 L1802.9,687.1 L1803.0,688.7 L1803.2,690.2 L1803.4,691.8 L1803.5,693.3 L1803.7,694.8 L1803.9,696.4 L1804.0,697.9 L1804.2,699.5 L1804.4,701.0 L1804.5,702.5 L1804.7,704.1 L1804.9,705.6 L1805.1,707.1 L1805.2,708.6 L1805.4,710.1 L1805.6,711.7 L1805.7,713.2 L1805.9,714.7 L1806.1,716.2 L1806.2,717.8 L1806.4,719.3 L1806.5,720.8 L1806.7,722.3 L1806.9,723.8 L1807.0,725.3 L1807.2,726.8 L1807.4,728.3 L1807.5,729.8 L1807.7,731.3 L1807.9,732.7 L1808.1,734.2 L1808.3,735.7 L1808.5,737.1 L1808.7,738.7 L1809.0,740.3 L1809.3,741.8 L1809.5,743.4 L1809.8,744.9 L1810.1,746.5 L1810.3,748.0 L1810.6,749.5 L1810.9,751.1 L1811.2,752.6 L1811.5,754.1 L1811.8,755.5 L1812.1,757.0 L1812.4,758.5 L1812.7,759.9 L1813.0,761.6 L1813.3,763.2 L1813.6,764.8 L1813.9,766.4 L1814.2,768.0 L1814.5,769.6 L1814.9,771.1 L1815.2,772.6 L1815.6,774.2 L1815.9,775.7 L1816.4,777.1 L1816.8,778.6 L1817.3,780.2 L1817.9,781.7 L1818.4,783.3 L1819.0,784.8 L1819.7,786.3 L1820.3,787.8 L1821.0,789.2 L1821.6,790.6 L1822.3,791.9 L1823.0,793.1 L1824.0,794.7 L1824.9,796.1 L1825.9,797.5 L1826.9,798.8 L1828.1,800.0 L1829.3,801.0 L1830.5,801.8 L1831.8,802.6 L1833.2,803.2 L1834.7,803.8 L1836.1,804.2 L1837.6,804.5 L1839.3,804.8 L1841.0,804.8 L1842.7,804.8 L1844.5,804.6 L1846.2,804.5 L1847.9,804.4 L1849.6,804.3 L1851.3,804.1 L1853.0,803.9 L1854.5,803.5 L1856.2,802.9 L1857.8,802.2 L1859.3,801.4 L1860.7,800.4 L1862.1,799.3 L1863.3,798.2 L1864.6,796.9 L1865.8,795.5 L1867.0,794.1 L1868.1,792.9 L1869.2,791.6 L1870.3,790.3 L1871.3,788.9 L1872.3,787.4 L1873.2,785.9 L1873.8,784.5 L1874.4,783.2 L1874.9,781.7 L1875.3,780.3 L1875.8,778.8 L1876.2,777.2 L1876.6,775.6 L1877.0,774.0 L1877.3,772.4 L1877.7,770.9 L1878.0,769.5 L1878.3,768.0 L1878.6,766.5 L1878.8,765.0 L1879.1,763.5 L1879.3,761.9 L1879.6,760.3 L1879.8,758.7 L1880.0,757.0 L1880.2,755.4 L1880.5,753.7 L1880.6,752.3 L1880.8,750.9 L1880.9,749.5 L1881.1,748.1 L1881.2,746.6 L1881.3,745.2 L1881.4,743.7 L1881.6,742.2 L1881.7,740.6 L1881.8,739.1 L1881.9,737.6 L1882.0,736.0 L1882.1,734.5 L1882.2,732.9 L1882.3,731.4 L1882.4,729.8 L1882.4,728.3 L1882.5,726.7 L1882.6,725.2 L1882.7,723.7 L1882.8,722.2 L1882.8,720.6 L1882.9,719.1 L1882.9,717.6 L1883.0,716.0 L1883.0,714.4 L1883.1,712.9 L1883.1,711.3 L1883.2,709.7 L1883.2,708.2 L1883.3,706.6 L1883.3,705.0 L1883.4,703.4 L1883.4,701.9 L1883.4,700.3 L1883.5,698.7 L1883.5,697.2 L1883.6,695.6 L1883.6,694.0 L1883.7,692.5 L1883.7,690.9 L1883.7,689.4 L1883.8,687.8 L1883.8,686.3 L1883.9,684.7 L1883.9,683.2 L1884.0,681.6 L1884.0,680.0 L1884.0,678.5 L1884.1,676.9 L1884.1,675.4 L1884.2,673.8 L1884.2,672.3 L1884.2,670.7 L1884.3,669.1 L1884.3,667.6 L1884.4,666.0 L1884.4,664.5 L1884.4,662.9 L1884.5,661.4 L1884.5,659.8 L1884.6,658.3 L1884.6,656.7 L1884.6,655.1 L1884.7,653.6 L1884.7,652.0 L1884.8,650.5 L1884.8,648.9 L1884.9,647.4 L1884.9,645.8 L1884.9,644.3 L1885.0,642.7 L1885.0,641.1 L1885.1,639.6 L1885.1,638.0 L1885.1,636.5 L1885.2,634.9 L1885.2,633.4 L1885.3,631.8 L1885.3,630.2 L1885.3,628.7 L1885.4,627.1 L1885.4,625.6 L1885.5,624.0 L1885.5,622.5 L1885.5,620.9 L1885.6,619.4 L1885.6,617.8 L1885.7,616.2 L1885.7,614.7 L1885.7,613.1 L1885.8,611.6 L1885.8,610.0 L1885.9,608.5 L1885.9,606.9 L1886.0,605.4 L1886.0,603.8 L1886.1,602.2 L1886.1,600.7 L1886.2,599.1 L1886.2,597.6 L1886.3,596.0 L1886.3,594.5 L1886.4,592.9 L1886.5,591.3 L1886.5,589.8 L1886.6,588.2 L1886.7,586.7 L1886.7,585.1 L1886.8,583.6 L1886.9,582.0 L1886.9,580.5 L1887.0,578.9 L1887.1,577.3 L1887.1,575.8 L1887.2,574.2 L1887.2,572.7 L1887.3,571.1 L1887.4,569.6 L1887.4,568.1 L1887.5,566.6 L1887.5,565.2 L1887.6,563.7 L1887.6,562.3 L1887.7,560.9 L1887.8,559.5 L1887.8,558.0 L1887.9,556.6 L1887.9,555.1 L1888.0,553.6 L1888.0,552.1 L1888.1,550.5 L1888.1,548.9 L1888.2,547.3 L1888.2,545.6 L1888.3,543.8 L1888.3,541.9 L1888.3,540.0 L1888.4,538.9 L1888.4,537.7 L1888.4,536.5 L1888.4,535.3 L1888.4,534.1 L1888.4,532.8 L1888.5,531.5 L1888.5,530.2 L1888.5,528.9 L1888.5,527.5 L1888.5,526.2 L1888.5,524.8 L1888.5,523.4 L1888.5,521.9 L1888.5,520.5 L1888.5,519.0 L1888.5,517.6 L1888.5,516.1 L1888.5,514.6 L1888.5,513.0 L1888.5,511.5 L1888.5,509.9 L1888.5,508.4 L1888.5,506.8 L1888.5,505.2 L1888.5,503.6 L1888.5,502.0 L1888.5,500.4 L1888.5,498.8 L1888.5,497.2 L1888.5,495.6 L1888.5,493.9 L1888.5,492.3 L1888.5,490.7 L1888.5,489.0 L1888.5,487.4 L1888.5,485.7 L1888.5,484.1 L1888.5,482.4 L1888.5,480.8 L1888.5,479.1 L1888.6,477.5 L1888.6,475.8 L1888.6,474.2 L1888.6,472.5 L1888.6,470.9 L1888.6,469.3 L1888.6,467.7 L1888.6,466.0 L1888.6,464.4 L1888.6,462.8 L1888.6,461.3 L1888.6,459.7 L1888.6,458.1 L1888.7,456.6 L1888.7,455.0 L1888.7,453.5 L1888.7,452.0 L1888.7,450.5 L1888.8,449.0 L1888.8,447.4 L1888.8,445.9 L1888.8,444.3 L1888.9,442.8 L1888.9,441.3 L1888.9,439.7 L1888.9,438.2 L1889.0,436.7 L1889.0,435.2 L1889.0,433.6 L1889.1,432.1 L1889.1,430.6 L1889.1,429.1 L1889.2,427.6 L1889.2,426.1 L1889.2,424.5 L1889.3,423.0 L1889.3,421.5 L1889.4,420.0 L1889.4,418.5 L1889.4,417.0 L1889.5,415.5 L1889.5,414.0 L1889.5,412.5 L1889.6,411.0 L1889.6,409.5 L1889.7,408.0 L1889.7,406.5 L1889.8,405.0 L1889.8,403.5 L1889.8,402.0 L1889.9,400.5 L1889.9,399.0 L1890.0,397.5 L1890.0,396.0 L1890.0,394.5 L1890.1,393.0 L1890.1,391.5 L1890.2,390.0 L1890.2,388.5 L1890.3,387.0 L1890.3,385.5 L1890.3,384.0 L1890.4,382.5 L1890.4,381.0 L1890.5,379.5 L1890.5,378.0 L1890.6,376.5 L1890.6,375.0 L1890.6,373.5 L1890.7,372.0 L1890.7,370.5 L1890.8,369.0 L1890.8,367.5 L1890.8,366.0 L1890.9,364.5 L1890.9,362.9 L1890.9,361.4 L1891.0,359.9 L1891.0,358.4 L1891.1,356.8 L1891.1,355.3 L1891.1,353.7 L1891.2,352.2 L1891.2,350.6 L1891.3,349.1 L1891.3,347.5 L1891.3,345.9 L1891.4,344.4 L1891.4,342.8 L1891.5,341.2 L1891.5,339.7 L1891.5,338.1 L1891.6,336.5 L1891.6,335.0 L1891.7,333.4 L1891.7,331.8 L1891.8,330.2 L1891.8,328.7 L1891.8,327.1 L1891.9,325.6 L1891.9,324.0 L1892.0,322.4 L1892.0,320.9 L1892.0,319.3 L1892.1,317.8 L1892.1,316.3 L1892.1,314.7 L1892.2,313.2 L1892.2,311.7 L1892.3,310.2 L1892.3,308.7 L1892.3,307.2 L1892.4,305.7 L1892.4,304.2 L1892.5,302.7 L1892.5,301.2 L1892.5,299.8 L1892.6,298.3 L1892.6,296.9 L1892.6,295.4 L1892.7,294.0 L1892.7,292.6 L1892.7,291.2 L1892.8,289.8 L1892.8,288.4 L1892.8,287.0 L1892.8,285.7 L1892.9,284.3 L1892.9,283.0 L1892.9,281.3 L1893.0,279.5 L1893.0,277.8 L1893.0,276.2 L1893.1,274.5 L1893.1,272.8 L1893.1,271.1 L1893.1,269.5 L1893.2,267.9 L1893.2,266.2 L1893.2,264.6 L1893.2,263.0 L1893.2,261.5 L1893.3,259.9 L1893.3,258.3 L1893.3,256.8 L1893.3,255.2 L1893.3,253.7 L1893.4,252.2 L1893.4,250.6 L1893.4,249.1 L1893.4,247.7 L1893.4,246.2 L1893.5,244.7 L1893.5,243.3 L1893.5,241.8 L1893.6,240.4 L1893.6,239.0 L1893.6,237.5 L1893.7,236.1 L1893.7,234.8 L1893.8,233.4 L1893.8,232.0 L1893.9,230.3 L1893.9,228.7 L1894.0,227.0 L1894.1,225.4 L1894.1,223.8 L1894.2,222.3 L1894.3,220.7 L1894.4,219.2 L1894.4,217.7 L1894.5,216.2 L1894.6,214.7 L1894.7,213.3 L1894.8,211.8 L1894.9,210.3 L1895.0,208.8 L1895.0,207.4 L1895.1,205.9 L1895.2,204.5 L1895.3,203.0 L1895.4,201.5 L1895.5,200.0 L1895.6,198.5 L1895.7,196.9 L1895.8,195.4 L1895.9,193.9 L1896.0,192.3 L1896.1,190.8 L1896.2,189.3 L1896.3,187.7 L1896.4,186.2 L1896.5,184.7 L1896.6,183.2 L1896.7,181.6 L1896.8,180.1 L1896.9,178.7 L1897.0,177.2 L1897.2,175.7 L1897.3,174.3 L1897.4,172.8 L1897.5,171.4 L1897.6,170.0 L1897.7,168.3 L1897.9,166.5 L1898.0,164.6 L1898.1,162.6 L1898.3,160.6 L1898.4,158.6 L1898.6,156.7 L1898.7,154.8 L1898.8,153.1 L1899.0,151.5 L1899.1,150.2 L1899.2,149.1 L1899.4,148.2 L1899.5,147.7 L1899.6,147.5 L1899.7,147.7 L1899.8,148.2 L1899.9,149.1 L1900.0,150.2 L1900.1,151.6 L1900.2,153.1 L1900.3,154.8 L1900.4,156.7 L1900.5,158.6 L1900.6,160.6 L1900.6,162.6 L1900.7,164.6 L1900.8,166.5 L1900.8,168.3 L1900.9,170.0 L1900.9,171.4 L1901.0,172.8 L1901.0,174.3 L1901.1,175.7 L1901.1,177.2 L1901.1,178.7 L1901.2,180.1 L1901.2,181.6 L1901.2,183.2 L1901.2,184.7 L1901.2,186.2 L1901.3,187.7 L1901.3,189.3 L1901.3,190.8 L1901.3,192.3 L1901.3,193.9 L1901.3,195.4 L1901.4,196.9 L1901.4,198.5 L1901.4,200.0 L1901.4,201.5 L1901.4,203.0 L1901.5,204.5 L1901.5,205.9 L1901.5,207.4 L1901.6,208.9 L1901.6,210.3 L1901.6,211.8 L1901.6,213.3 L1901.7,214.7 L1901.7,216.2 L1901.7,217.7 L1901.7,219.2 L1901.7,220.7 L1901.8,222.3 L1901.8,223.8 L1901.8,225.4 L1901.8,227.0 L1901.9,228.7 L1901.9,230.3 L1901.9,232.0 L1901.9,233.4 L1901.9,234.8 L1901.9,236.1 L1901.9,237.5 L1902.0,239.0 L1902.0,240.4 L1902.0,241.8 L1902.0,243.3 L1902.0,244.7 L1902.0,246.2 L1902.0,247.7 L1902.0,249.2 L1902.0,250.7 L1902.0,252.2 L1902.0,253.7 L1902.0,255.2 L1902.0,256.8 L1902.0,258.3 L1902.0,259.9 L1902.0,261.5 L1902.0,263.0 L1902.0,264.6 L1902.0,266.3 L1902.0,267.9 L1902.0,269.5 L1902.1,271.2 L1902.1,272.8 L1902.1,274.5 L1902.1,276.2 L1902.1,277.8 L1902.2,279.5 L1902.2,281.3 L1902.2,283.0 L1902.3,284.3 L1902.3,285.7 L1902.3,287.0 L1902.4,288.4 L1902.4,289.8 L1902.5,291.2 L1902.5,292.6 L1902.5,294.0 L1902.6,295.4 L1902.6,296.9 L1902.7,298.3 L1902.7,299.8 L1902.8,301.2 L1902.8,302.7 L1902.9,304.2 L1902.9,305.7 L1903.0,307.2 L1903.0,308.7 L1903.1,310.2 L1903.2,311.7 L1903.2,313.2 L1903.3,314.7 L1903.3,316.3 L1903.4,317.8 L1903.5,319.4 L1903.5,320.9 L1903.6,322.4 L1903.6,324.0 L1903.7,325.6 L1903.8,327.1 L1903.8,328.7 L1903.9,330.2 L1904.0,331.8 L1904.0,333.4 L1904.1,335.0 L1904.2,336.5 L1904.2,338.1 L1904.3,339.7 L1904.4,341.2 L1904.4,342.8 L1904.5,344.4 L1904.6,345.9 L1904.6,347.5 L1904.7,349.1 L1904.7,350.6 L1904.8,352.2 L1904.9,353.7 L1904.9,355.3 L1905.0,356.8 L1905.1,358.4 L1905.1,359.9 L1905.2,361.4 L1905.2,362.9 L1905.3,364.5 L1905.4,366.0 L1905.4,367.5 L1905.5,369.0 L1905.5,370.5 L1905.6,372.1 L1905.6,373.6 L1905.7,375.1 L1905.8,376.7 L1905.8,378.2 L1905.9,379.7 L1905.9,381.3 L1906.0,382.8 L1906.0,384.4 L1906.1,386.0 L1906.2,387.5 L1906.2,389.1 L1906.3,390.6 L1906.3,392.2 L1906.4,393.7 L1906.5,395.3 L1906.5,396.9 L1906.6,398.4 L1906.6,400.0 L1906.7,401.5 L1906.7,403.1 L1906.8,404.7 L1906.9,406.2 L1906.9,407.8 L1907.0,409.3 L1907.0,410.9 L1907.1,412.4 L1907.1,413.9 L1907.2,415.5 L1907.3,417.0 L1907.3,418.5 L1907.4,420.0 L1907.4,421.6 L1907.5,423.1 L1907.5,424.6 L1907.6,426.1 L1907.7,427.6 L1907.7,429.0 L1907.8,430.5 L1907.8,432.0 L1907.9,433.5 L1907.9,434.9 L1908.0,436.4 L1908.0,437.8 L1908.1,439.2 L1908.2,440.6 L1908.2,442.1 L1908.3,443.5 L1908.3,444.9 L1908.4,446.2 L1908.4,447.6 L1908.5,449.0 L1908.5,450.6 L1908.6,452.3 L1908.7,454.0 L1908.7,455.6 L1908.8,457.3 L1908.8,458.9 L1908.9,460.5 L1908.9,462.2 L1909.0,463.8 L1909.1,465.4 L1909.1,467.0 L1909.2,468.6 L1909.2,470.1 L1909.3,471.7 L1909.3,473.3 L1909.4,474.8 L1909.4,476.3 L1909.5,477.9 L1909.5,479.4 L1909.6,480.9 L1909.7,482.4 L1909.7,483.9 L1909.8,485.4 L1909.8,486.9 L1909.9,488.4 L1909.9,489.8 L1910.0,491.3 L1910.1,492.7 L1910.1,494.2 L1910.2,495.6 L1910.2,497.0 L1910.3,498.4 L1910.3,499.8 L1910.4,501.2 L1910.5,502.6 L1910.5,503.9 L1910.6,505.6 L1910.7,507.3 L1910.8,508.9 L1910.9,510.6 L1911.0,512.2 L1911.0,513.8 L1911.1,515.4 L1911.2,517.0 L1911.3,518.6 L1911.4,520.2 L1911.5,521.8 L1911.6,523.3 L1911.7,524.8 L1911.8,526.3 L1911.9,527.8 L1912.0,529.3 L1912.0,530.7 L1912.1,532.1 L1912.2,533.5 L1912.3,534.9 L1912.4,536.2 L1912.5,537.5 L1912.5,538.8 L1912.6,540.0 L1912.7,541.7 L1912.8,543.4 L1912.9,544.9 L1913.0,546.4 L1913.1,547.9 L1913.2,549.3 L1913.3,550.7 L1913.3,552.1 L1913.4,553.6 L1913.5,555.0 L1913.7,556.6 L1913.8,558.1 L1913.9,559.7 L1914.0,561.2 L1914.1,562.8 L1914.2,564.4 L1914.3,566.0 L1914.4,567.6 L1914.6,569.3 L1914.7,570.9 L1914.8,572.5 L1915.0,574.1 L1915.1,575.7 L1915.3,577.3 L1915.5,578.9 L1915.7,580.6 L1915.8,582.2 L1916.0,583.8 L1916.2,585.4 L1916.4,587.0 L1916.6,588.6 L1916.9,590.2 L1917.1,591.8 L1917.3,593.4 L1917.5,595.0 L1917.8,596.6 L1918.0,598.1 L1918.3,599.8 L1918.5,601.5 L1918.7,603.2 L1919.0,605.0 L1919.2,606.7 L1919.5,608.3 L1919.8,610.0 L1920.1,611.5 L1920.5,613.0 L1920.9,614.4 L1921.3,615.7 L1922.0,617.3 L1922.7,618.6 L1923.5,619.9 L1924.4,621.1 L1925.2,622.2 L1926.1,623.4 L1927.1,624.7 L1928.2,625.9 L1929.2,627.1 L1930.3,628.3 L1931.3,629.6 L1932.2,631.0 L1933.0,632.4 L1933.9,633.8 L1934.7,635.3 L1935.4,636.9 L1936.1,638.5 L1936.5,639.9 L1936.9,641.3 L1937.2,642.7 L1937.5,644.1 L1937.8,645.6 L1938.1,647.2 L1938.3,648.8 L1938.5,650.4 L1938.8,652.0 L1938.9,653.5 L1939.1,655.0 L1939.3,656.5 L1939.4,658.0 L1939.6,659.6 L1939.7,661.2 L1939.8,662.9 L1939.9,664.5 L1940.0,666.2 L1940.1,667.8 L1940.2,669.5 L1940.3,671.1 L1940.4,672.8 L1940.5,674.3 L1940.6,675.8 L1940.6,677.3 L1940.7,678.8 L1940.8,680.3 L1940.8,681.9 L1940.9,683.4 L1940.9,685.0 L1941.0,686.5 L1941.0,688.0 L1941.0,689.6 L1941.1,691.1 L1941.1,692.6 L1941.2,694.1 L1941.2,695.6 L1941.3,697.2 L1941.4,698.8 L1941.4,700.5 L1941.5,702.1 L1941.5,703.7 L1941.6,705.2 L1941.7,706.8 L1941.7,708.4 L1941.8,710.0 L1941.9,711.6 L1941.9,713.2 L1942.0,714.8 L1942.1,716.3 L1942.2,717.9 L1942.2,719.5 L1942.3,721.1 L1942.4,722.6 L1942.4,724.2 L1942.5,725.8 L1942.6,727.3 L1942.7,728.9 L1942.8,730.5 L1942.9,732.1 L1943.0,733.8 L1943.2,735.4 L1943.3,737.1 L1943.5,738.5 L1943.6,740.0 L1943.8,741.4 L1943.9,743.0 L1944.1,744.5 L1944.3,746.0 L1944.5,747.6 L1944.6,749.1 L1944.8,750.7 L1945.0,752.2 L1945.3,753.8 L1945.5,755.3 L1945.7,756.8 L1945.9,758.4 L1946.1,759.8 L1946.4,761.3 L1946.6,762.7 L1946.8,764.1 L1947.1,765.8 L1947.5,767.4 L1947.8,769.0 L1948.1,770.7 L1948.4,772.2 L1948.7,773.8 L1949.1,775.3 L1949.4,776.8 L1949.8,778.3 L1950.2,779.8 L1950.6,781.3 L1951.0,782.7 L1951.4,784.3 L1951.9,785.8 L1952.3,787.3 L1952.8,788.8 L1953.3,790.3 L1953.8,791.7 L1954.3,793.2 L1954.9,794.6 L1955.5,795.9 L1956.2,797.3 L1957.0,798.7 L1957.8,800.1 L1958.6,801.5 L1959.5,802.8 L1960.5,804.1 L1961.5,805.4 L1962.5,806.6 L1963.5,807.7 L1964.5,808.7 L1965.8,809.8 L1967.1,810.7 L1968.5,811.6 L1970.0,812.3 L1971.4,813.1 L1972.8,813.9 L1974.1,814.6 L1975.4,815.4 L1976.7,816.1 L1978.1,816.8 L1979.5,817.4 L1981.1,818.0 L1982.5,818.5 L1984.0,818.9 L1985.5,819.3 L1987.1,819.7 L1988.7,820.0 L1990.4,820.3 L1992.1,820.6 L1993.8,820.9 L1995.6,821.1 L1997.1,821.3 L1998.6,821.4 L2000.1,821.5 L2001.7,821.6 L2003.3,821.7 L2004.9,821.7 L2006.6,821.7 L2008.2,821.7 L2009.8,821.8 L2011.5,821.8 L2013.1,821.7 L2014.7,821.7 L2016.3,821.7 L2018.0,821.7 L2019.6,821.8 L2021.3,821.8 L2023.0,821.8 L2024.7,821.8 L2026.3,821.7 L2028.0,821.7 L2029.7,821.7 L2031.3,821.6 L2032.8,821.5 L2034.3,821.4 L2035.7,821.3 L2037.1,821.1 L2038.8,820.9 L2040.3,820.6 L2041.8,820.2 L2043.3,819.9 L2044.6,819.4 L2046.0,819.0 L2047.5,818.4 L2049.0,817.8 L2050.5,817.1 L2052.0,816.4 L2053.5,815.7 L2055.0,814.8 L2056.4,813.9 L2057.8,812.8 L2059.0,811.9 L2060.1,810.9 L2061.2,809.8 L2062.3,808.6 L2063.3,807.4 L2064.4,806.2 L2065.4,805.0 L2066.4,803.7 L2067.3,802.6 L2068.2,801.4 L2069.2,800.1 L2070.1,798.8 L2071.0,797.5 L2071.9,796.2 L2072.7,794.9 L2073.5,793.5 L2074.4,792.1 L2075.2,790.8 L2076.0,789.4 L2076.8,788.0 L2077.6,786.5 L2078.4,785.0 L2079.2,783.6 L2080.0,782.1 L2080.9,780.8 L2081.8,779.6 L2082.7,778.6 L2084.0,777.4 L2085.4,776.5 L2086.8,775.6 L2088.2,774.8 L2089.6,774.1 L2091.0,773.4 L2092.4,772.7 L2093.8,772.0 L2095.1,771.4 L2096.5,770.8 L2097.9,770.3 L2099.3,769.9 L2101.0,769.5 L2102.7,769.1 L2104.5,768.9 L2106.1,768.9 L2107.6,769.3 L2108.8,770.0 L2109.9,771.0 L2110.9,772.3 L2111.9,773.7 L2112.9,775.2 L2113.9,776.5 L2114.9,777.9 L2115.9,779.4 L2116.9,780.8 L2117.9,782.3 L2119.0,783.6 L2120.1,784.8 L2121.5,786.1 L2123.0,787.3 L2124.5,788.2 L2126.3,789.0 L2127.7,789.3 L2129.2,789.6 L2130.8,789.8 L2132.5,789.8 L2134.1,789.8 L2135.8,789.7 L2137.3,789.4 L2138.8,789.0 L2140.1,788.3 L2141.4,787.5 L2142.5,786.5 L2143.7,785.4 L2144.8,784.2 L2145.9,782.9 L2147.1,781.7 L2148.1,780.6 L2149.1,779.5 L2150.2,778.3 L2151.3,777.0 L2152.3,775.7 L2153.4,774.4 L2154.4,773.1 L2155.4,771.8 L2156.5,770.5 L2157.4,769.3 L2158.4,768.0 L2159.4,766.7 L2160.3,765.5 L2161.2,764.2 L2162.1,762.9 L2163.0,761.7 L2163.9,760.4 L2164.8,759.1 L2165.7,757.8 L2166.7,756.5 L2167.6,755.0 L2168.5,753.5 L2169.4,752.0 L2170.3,750.5 L2171.3,749.1 L2172.2,747.8 L2173.1,746.5 L2174.0,745.4 L2175.3,744.0 L2176.5,742.6 L2177.7,741.4 L2179.0,740.6 L2180.2,740.2 L2181.8,740.5 L2183.4,741.5 L2185.0,742.9 L2186.5,744.4 L2187.4,745.5 L2188.4,746.7 L2189.2,748.1 L2190.1,749.5 L2190.9,750.9 L2191.8,752.4 L2192.7,753.7 L2193.7,755.1 L2194.7,756.5 L2195.7,757.9 L2196.7,759.2 L2197.7,760.6 L2198.9,762.0 L2199.9,763.1 L2201.0,764.3 L2202.1,765.5 L2203.3,766.7 L2204.5,767.8 L2205.7,769.0 L2206.9,770.2 L2208.1,771.3 L2209.3,772.4 L2210.6,773.5 L2211.8,774.7 L2213.1,775.9 L2214.4,777.0 L2215.7,778.1 L2217.0,779.1 L2218.3,780.0 L2219.7,780.7 L2221.1,781.2 L2222.6,781.7 L2224.1,782.0 L2225.6,782.3 L2227.1,782.4 L2228.6,782.4 L2230.0,782.3 L2231.5,782.1 L2233.1,781.7 L2234.6,781.2 L2236.1,780.5 L2237.6,779.9 L2239.0,779.2 L2240.4,778.6 L2241.8,777.9 L2243.2,777.1 L2244.5,776.2 L2245.9,775.4 L2247.3,774.8 L2248.7,774.4 L2250.1,774.4 L2251.6,774.6 L2253.1,775.0 L2254.7,775.5 L2256.2,775.9 L2257.7,776.1 L2259.1,776.1 L2260.6,775.8 L2262.0,775.2 L2263.4,774.5 L2264.7,773.8 L2266.0,773.0 L2267.4,772.4 L2268.9,771.6 L2270.4,770.8 L2271.9,770.0 L2273.3,769.4 L2274.6,769.3 L2276.0,769.6 L2277.3,770.3 L2278.5,771.3 L2279.8,772.4 L2280.9,773.3 L2282.0,774.5 L2283.2,775.8 L2284.3,777.2 L2285.6,778.5 L2286.8,779.7 L2288.1,780.7 L2289.5,781.5 L2290.9,782.1 L2292.4,782.7 L2293.9,783.2 L2295.5,783.7 L2297.0,784.3 L2298.5,784.8 L2300.0,785.4 L2301.5,786.1 L2303.0,786.8 L2304.5,787.4 L2306.0,788.0 L2307.4,788.6 L2308.9,789.0 L2310.6,789.3 L2312.2,789.4 L2313.9,789.4 L2315.5,789.5 L2317.2,789.6 L2318.9,789.8 L2320.9,790.1 L2323.0,790.4 L2324.8,790.7 L2326.0,791.0 L2326.5,791.0" fill="none" stroke="#000000" stroke-width="4.0" stroke-linejoin="round" stroke-linecap="butt" clip-path="url(#cr)" />
<path d="M920.7,802.7 L921.1,802.9 L921.9,803.5 L923.1,804.4 L924.7,805.4 L926.3,806.6 L928.1,807.8 L929.7,809.0 L931.1,810.0 L932.4,811.0 L933.8,812.1 L935.1,813.1 L936.4,814.2 L937.7,815.3 L939.0,816.3 L940.2,817.4 L941.5,818.3 L942.9,819.4 L944.3,820.4 L945.6,821.4 L947.0,822.3 L948.4,823.2 L949.8,823.9 L951.4,824.5 L953.0,825.1 L954.6,825.4 L956.3,825.7 L958.1,826.0 L959.5,826.1 L961.0,826.1 L962.6,826.1 L964.2,826.1 L965.8,826.0 L967.4,825.9 L969.0,825.7 L970.5,825.6 L972.1,825.3 L973.7,825.1 L975.3,824.8 L976.8,824.4 L978.4,824.1 L980.0,823.7 L981.5,823.4 L983.0,823.1 L984.5,822.7 L986.0,822.4 L987.5,822.1 L989.0,821.7 L990.4,821.4 L991.9,821.2 L993.4,821.0 L995.1,820.9 L996.8,820.9 L998.5,821.0 L1000.3,821.0 L1002.0,821.1 L1003.7,821.0 L1005.2,820.9 L1006.8,820.7 L1008.3,820.6 L1009.8,820.4 L1011.3,820.1 L1012.7,819.8 L1014.1,819.3 L1015.6,818.8 L1017.0,818.1 L1018.4,817.4 L1019.7,816.6 L1021.1,815.7 L1022.4,814.8 L1023.6,813.8 L1024.8,812.7 L1026.0,811.6 L1027.2,810.4 L1028.3,809.2 L1029.5,808.0 L1030.7,806.9 L1031.9,805.8 L1033.1,804.8 L1034.3,803.8 L1035.5,802.8 L1036.7,801.8 L1037.8,800.7 L1039.0,799.6 L1040.1,798.5 L1041.1,797.4 L1042.1,796.2 L1043.2,795.0 L1044.2,793.7 L1045.2,792.5 L1046.2,791.4 L1047.3,790.3 L1048.5,789.1 L1049.6,788.0 L1050.8,786.9 L1051.9,785.8 L1053.1,784.8 L1054.4,783.8 L1055.6,783.0 L1057.2,782.2 L1058.9,781.5 L1060.5,780.9 L1062.2,780.4 L1063.9,779.9 L1065.5,779.6 L1067.2,779.3 L1068.8,779.1 L1070.5,778.9 L1072.2,778.9 L1073.9,778.9 L1075.6,779.0 L1077.3,779.2 L1079.1,779.4 L1080.8,779.7 L1082.6,779.9 L1084.1,780.1 L1085.6,780.3 L1087.1,780.5 L1088.6,780.8 L1090.1,781.0 L1091.5,781.3 L1092.9,781.6 L1094.7,782.0 L1096.3,782.6 L1098.0,783.2 L1099.6,783.7 L1101.2,784.1 L1102.9,784.3 L1104.6,784.5 L1106.2,784.6 L1107.9,784.6 L1109.5,784.5 L1111.2,784.2 L1112.9,783.7 L1114.6,783.1 L1116.3,782.4 L1117.8,781.6 L1119.1,780.8 L1120.4,780.0 L1121.7,779.0 L1122.9,778.0 L1124.0,776.9 L1125.1,775.8 L1126.0,774.7 L1126.8,773.5 L1127.7,772.2 L1128.4,770.9 L1129.2,769.6 L1129.9,768.2 L1130.6,766.8 L1131.3,765.4 L1132.1,763.9 L1132.7,762.4 L1133.4,760.8 L1134.1,759.3 L1134.7,757.7 L1135.3,756.1 L1135.9,754.5 L1136.5,752.9 L1137.1,751.4 L1137.6,749.9 L1138.2,748.3 L1138.7,746.8 L1139.2,745.3 L1139.7,743.7 L1140.2,742.1 L1140.7,740.5 L1141.1,738.9 L1141.4,737.4 L1141.8,735.8 L1142.1,734.2 L1142.5,732.6 L1142.8,730.9 L1143.1,729.3 L1143.4,727.6 L1143.8,726.0 L1144.1,724.5 L1144.4,723.0 L1144.7,721.5 L1145.0,720.0 L1145.3,718.5 L1145.6,717.0 L1145.8,715.5 L1146.1,713.9 L1146.4,712.4 L1146.6,710.9 L1146.9,709.4 L1147.1,707.9 L1147.3,706.4 L1147.5,704.9 L1147.7,703.3 L1147.9,701.8 L1148.1,700.3 L1148.3,698.8 L1148.5,697.3 L1148.6,695.8 L1148.8,694.3 L1149.0,692.8 L1149.1,691.3 L1149.3,689.8 L1149.4,688.3 L1149.5,686.8 L1149.6,685.3 L1149.8,683.9 L1149.9,682.4 L1150.0,680.8 L1150.1,679.3 L1150.3,677.8 L1150.4,676.2 L1150.6,674.7 L1150.7,673.1 L1150.9,671.5 L1151.0,670.0 L1151.2,668.4 L1151.3,666.8 L1151.5,665.1 L1151.7,663.5 L1151.8,661.9 L1152.0,660.3 L1152.2,658.6 L1152.5,657.0 L1152.7,655.4 L1152.9,653.9 L1153.2,652.4 L1153.5,650.9 L1153.8,649.4 L1154.1,647.9 L1154.4,646.4 L1154.7,644.9 L1155.0,643.4 L1155.3,641.9 L1155.6,640.4 L1156.0,639.0 L1156.3,637.5 L1156.6,636.1 L1156.8,634.7 L1157.2,633.1 L1157.5,631.6 L1157.8,630.1 L1158.1,628.6 L1158.4,627.1 L1158.7,625.7 L1159.0,624.2 L1159.3,622.7 L1159.6,621.2 L1159.9,619.7 L1160.2,618.1 L1160.4,616.6 L1160.6,615.0 L1160.7,613.3 L1160.9,611.6 L1161.0,609.9 L1161.2,608.2 L1161.3,606.5 L1161.4,604.9 L1161.6,603.2 L1161.8,601.7 L1162.1,600.1 L1162.3,598.7 L1162.7,597.3 L1163.2,595.6 L1163.8,593.9 L1164.4,592.4 L1165.1,590.9 L1165.8,589.5 L1166.5,588.2 L1167.2,587.0 L1168.4,585.2 L1169.6,583.6 L1171.0,582.4 L1172.9,581.1 L1174.9,580.5 L1176.3,580.8 L1177.8,581.5 L1179.0,582.4 L1180.0,583.8 L1180.8,585.5 L1181.5,587.4 L1182.0,588.6 L1182.6,589.8 L1183.1,591.2 L1183.6,592.6 L1184.1,594.1 L1184.6,595.7 L1185.1,597.3 L1185.3,598.6 L1185.6,599.9 L1185.8,601.3 L1186.0,602.7 L1186.2,604.2 L1186.4,605.7 L1186.6,607.3 L1186.7,608.9 L1186.9,610.5 L1187.1,612.1 L1187.2,613.8 L1187.4,615.4 L1187.6,617.0 L1187.8,618.6 L1188.0,620.2 L1188.2,621.7 L1188.4,623.3 L1188.6,624.8 L1188.8,626.4 L1189.0,628.0 L1189.2,629.6 L1189.5,631.3 L1189.7,632.9 L1189.9,634.5 L1190.1,636.1 L1190.4,637.6 L1190.6,639.2 L1190.8,640.7 L1191.0,642.2 L1191.3,643.6 L1191.5,645.1 L1191.8,646.7 L1192.0,648.3 L1192.3,649.9 L1192.6,651.4 L1192.9,652.9 L1193.2,654.4 L1193.5,655.9 L1193.7,657.3 L1194.0,658.8 L1194.3,660.2 L1194.6,661.7 L1194.9,663.3 L1195.3,664.9 L1195.6,666.5 L1196.0,668.1 L1196.4,669.7 L1196.7,671.3 L1197.1,672.9 L1197.4,674.5 L1197.7,676.2 L1198.0,677.6 L1198.3,679.1 L1198.5,680.5 L1198.8,682.0 L1199.1,683.5 L1199.3,684.9 L1199.6,686.4 L1199.8,688.0 L1200.0,689.5 L1200.2,691.1 L1200.4,692.8 L1200.6,694.2 L1200.7,695.7 L1200.8,697.2 L1200.9,698.8 L1201.0,700.4 L1201.1,702.0 L1201.1,703.6 L1201.2,705.2 L1201.3,706.9 L1201.3,708.5 L1201.4,710.1 L1201.5,711.7 L1201.6,713.2 L1201.6,714.8 L1201.7,716.3 L1201.9,717.7 L1202.0,719.3 L1202.1,720.9 L1202.3,722.5 L1202.4,724.1 L1202.5,725.6 L1202.7,727.1 L1202.9,728.6 L1203.1,730.0 L1203.3,731.5 L1203.6,732.9 L1203.9,734.3 L1204.4,735.9 L1205.0,737.5 L1205.7,739.1 L1206.4,740.6 L1207.1,742.1 L1207.8,743.7 L1208.5,745.2 L1209.1,746.7 L1209.7,748.3 L1210.3,749.8 L1210.8,751.4 L1211.3,752.9 L1211.8,754.5 L1212.3,756.0 L1212.8,757.6 L1213.3,759.2 L1213.7,760.7 L1214.1,762.3 L1214.4,764.0 L1214.7,765.6 L1215.0,767.2 L1215.4,768.7 L1215.9,770.2 L1216.4,771.6 L1217.1,773.1 L1217.9,774.6 L1218.8,775.9 L1219.7,777.3 L1220.6,778.6 L1221.6,779.9 L1222.5,781.3 L1223.5,782.7 L1224.5,784.1 L1225.6,785.5 L1226.7,786.9 L1227.8,788.2 L1228.9,789.4 L1230.0,790.7 L1231.1,791.9 L1232.3,793.1 L1233.6,794.3 L1234.8,795.4 L1236.1,796.5 L1237.3,797.5 L1238.5,798.5 L1239.8,799.5 L1241.1,800.5 L1242.4,801.4 L1243.8,802.3 L1245.1,803.1 L1246.5,803.8 L1247.9,804.4 L1249.4,804.9 L1250.8,805.4 L1252.3,805.8 L1253.8,806.1 L1255.3,806.5 L1256.8,806.9 L1258.3,807.3 L1259.8,807.7 L1261.4,808.1 L1262.9,808.5 L1264.5,808.9 L1266.1,809.3 L1267.7,809.6 L1269.3,810.0 L1270.9,810.3 L1272.5,810.7 L1274.1,811.0 L1275.8,811.3 L1277.5,811.6 L1279.1,811.9 L1280.7,812.2 L1282.3,812.4 L1283.8,812.7 L1285.6,813.0 L1287.4,813.2 L1289.1,813.4 L1290.8,813.6 L1292.5,813.8 L1294.2,814.1 L1295.7,814.5 L1297.2,814.9 L1298.6,815.4 L1300.1,815.9 L1301.6,816.4 L1303.1,816.9 L1304.6,817.3 L1306.0,817.6 L1307.5,817.9 L1309.0,818.2 L1310.5,818.5 L1312.0,818.7 L1313.5,819.0 L1314.9,819.3 L1316.4,819.7 L1317.9,820.0 L1319.4,820.3 L1320.9,820.7 L1322.4,821.0 L1323.8,821.4 L1325.3,821.8 L1326.8,822.3 L1328.3,822.9 L1329.8,823.4 L1331.2,824.0 L1332.7,824.6 L1334.2,825.1 L1335.7,825.6 L1337.2,825.9 L1338.6,826.2 L1340.1,826.4 L1341.6,826.6 L1343.1,826.8 L1344.6,827.0 L1346.1,827.2 L1347.8,827.5 L1349.5,827.8 L1351.1,828.0 L1352.8,828.3 L1354.6,828.5 L1356.4,828.7 L1357.9,828.8 L1359.4,828.8 L1360.8,828.9 L1362.4,828.9 L1363.9,828.9 L1365.5,828.8 L1367.2,828.8 L1368.9,828.8 L1370.7,828.8 L1372.1,828.8 L1373.4,828.8 L1374.9,828.8 L1376.4,828.8 L1378.0,828.9 L1379.6,828.9 L1381.2,828.9 L1382.9,828.9 L1384.6,828.9 L1386.2,829.0 L1387.9,829.0 L1389.6,828.9 L1391.2,828.9 L1392.8,828.9 L1394.3,828.8 L1395.8,828.7 L1397.2,828.6 L1398.5,828.5 L1399.8,828.4 L1401.6,828.1 L1403.3,827.8 L1404.9,827.4 L1406.4,827.0 L1407.9,826.6 L1409.3,826.2 L1410.8,825.7 L1412.2,825.3 L1413.8,824.8 L1415.3,824.3 L1416.8,823.8 L1418.2,823.2 L1419.7,822.7 L1421.1,822.2 L1422.6,821.7 L1424.1,821.4 L1425.6,821.0 L1427.2,820.8 L1428.7,820.5 L1430.2,820.1 L1431.6,819.7 L1433.0,819.0 L1434.3,818.3 L1435.5,817.4 L1436.7,816.4 L1437.9,815.3 L1439.0,814.1 L1440.2,813.0 L1441.3,811.8 L1442.4,810.6 L1443.5,809.5 L1444.6,808.3 L1445.7,807.0 L1446.7,805.7 L1447.7,804.4 L1448.7,802.9 L1449.6,801.4 L1450.2,800.2 L1450.8,798.9 L1451.4,797.6 L1451.9,796.2 L1452.4,794.7 L1452.9,793.3 L1453.4,791.8 L1453.8,790.2 L1454.3,788.7 L1454.7,787.2 L1455.1,785.7 L1455.4,784.2 L1455.8,782.7 L1456.2,781.2 L1456.5,779.7 L1456.8,778.2 L1457.1,776.6 L1457.3,775.1 L1457.6,773.6 L1457.8,772.1 L1458.0,770.5 L1458.2,768.9 L1458.5,767.3 L1458.7,765.7 L1458.9,764.1 L1459.1,762.6 L1459.3,761.1 L1459.5,759.6 L1459.8,758.1 L1460.0,756.5 L1460.2,755.0 L1460.4,753.4 L1460.6,751.8 L1460.8,750.2 L1461.0,748.6 L1461.1,747.0 L1461.3,745.4 L1461.5,743.8 L1461.7,742.3 L1461.9,740.7 L1462.0,739.2 L1462.2,737.6 L1462.4,736.1 L1462.5,734.6 L1462.7,733.0 L1462.8,731.5 L1462.9,730.0 L1463.1,728.5 L1463.2,727.0 L1463.3,725.5 L1463.5,724.0 L1463.6,722.5 L1463.7,721.0 L1463.8,719.4 L1464.0,717.9 L1464.1,716.3 L1464.2,714.8 L1464.4,713.3 L1464.5,711.8 L1464.6,710.2 L1464.8,708.7 L1464.9,707.1 L1465.0,705.6 L1465.1,704.0 L1465.3,702.5 L1465.4,700.9 L1465.5,699.3 L1465.6,697.8 L1465.8,696.2 L1465.9,694.6 L1466.0,693.0 L1466.2,691.5 L1466.3,690.0 L1466.4,688.5 L1466.6,687.0 L1466.7,685.5 L1466.9,684.0 L1467.0,682.5 L1467.1,681.0 L1467.3,679.5 L1467.4,678.0 L1467.6,676.5 L1467.7,675.0 L1467.9,673.5 L1468.0,672.0 L1468.1,670.5 L1468.3,669.0 L1468.4,667.5 L1468.5,666.0 L1468.7,664.5 L1468.8,663.0 L1468.9,661.5 L1469.0,660.0 L1469.2,658.5 L1469.3,657.0 L1469.4,655.5 L1469.5,654.0 L1469.6,652.5 L1469.7,651.0 L1469.8,649.5 L1470.0,648.0 L1470.1,646.5 L1470.2,645.0 L1470.3,643.5 L1470.4,642.0 L1470.5,640.5 L1470.6,639.0 L1470.7,637.5 L1470.9,636.0 L1471.0,634.5 L1471.1,633.0 L1471.2,631.5 L1471.3,630.0 L1471.4,628.5 L1471.5,627.0 L1471.7,625.5 L1471.8,624.0 L1471.9,622.5 L1472.0,620.9 L1472.1,619.4 L1472.2,618.0 L1472.4,616.5 L1472.5,615.0 L1472.6,613.5 L1472.7,612.0 L1472.8,610.5 L1472.9,608.9 L1473.1,607.3 L1473.2,605.7 L1473.3,604.1 L1473.4,602.5 L1473.6,600.8 L1473.7,599.2 L1473.8,597.6 L1473.9,596.0 L1474.1,594.4 L1474.2,592.9 L1474.3,591.4 L1474.5,589.9 L1474.6,588.4 L1474.7,587.0 L1474.9,585.6 L1475.1,583.8 L1475.3,581.9 L1475.5,580.1 L1475.7,578.3 L1475.9,576.6 L1476.1,575.0 L1476.4,573.5 L1476.7,572.2 L1477.0,571.1 L1477.8,569.0 L1478.6,568.0 L1479.3,568.7 L1480.1,570.2 L1480.7,572.2 L1481.0,573.3 L1481.3,574.6 L1481.5,576.0 L1481.7,577.5 L1481.9,579.1 L1482.1,580.7 L1482.3,582.5 L1482.4,584.2 L1482.6,586.0 L1482.8,587.7 L1482.9,589.1 L1483.1,590.5 L1483.2,592.0 L1483.3,593.5 L1483.5,595.0 L1483.6,596.5 L1483.7,598.1 L1483.8,599.6 L1484.0,601.2 L1484.1,602.8 L1484.2,604.4 L1484.3,606.1 L1484.5,607.7 L1484.6,609.3 L1484.7,611.0 L1484.9,612.6 L1485.0,614.1 L1485.1,615.6 L1485.2,617.1 L1485.3,618.6 L1485.5,620.2 L1485.6,621.7 L1485.7,623.2 L1485.8,624.8 L1486.0,626.4 L1486.1,628.0 L1486.2,629.5 L1486.3,631.1 L1486.5,632.7 L1486.6,634.3 L1486.7,635.9 L1486.8,637.5 L1487.0,639.0 L1487.1,640.6 L1487.2,642.2 L1487.3,643.7 L1487.5,645.3 L1487.6,646.9 L1487.7,648.4 L1487.9,650.0 L1488.0,651.6 L1488.1,653.1 L1488.3,654.7 L1488.4,656.3 L1488.5,657.9 L1488.7,659.4 L1488.8,661.0 L1488.9,662.6 L1489.1,664.1 L1489.2,665.7 L1489.3,667.2 L1489.5,668.8 L1489.6,670.3 L1489.8,671.8 L1489.9,673.3 L1490.0,674.9 L1490.2,676.4 L1490.3,677.9 L1490.5,679.5 L1490.6,681.0 L1490.8,682.5 L1490.9,684.0 L1491.1,685.5 L1491.2,687.0 L1491.4,688.5 L1491.5,690.0 L1491.7,691.5 L1491.8,693.0 L1492.0,694.5 L1492.1,695.9 L1492.3,697.4 L1492.4,698.9 L1492.6,700.4 L1492.7,701.8 L1492.9,703.4 L1493.0,705.0 L1493.2,706.6 L1493.3,708.2 L1493.5,709.8 L1493.6,711.3 L1493.8,712.9 L1493.9,714.5 L1494.1,716.0 L1494.2,717.6 L1494.4,719.1 L1494.5,720.7 L1494.7,722.2 L1494.9,723.7 L1495.0,725.2 L1495.2,726.7 L1495.4,728.4 L1495.7,730.0 L1495.9,731.7 L1496.1,733.3 L1496.3,734.9 L1496.5,736.5 L1496.8,738.1 L1497.0,739.7 L1497.3,741.2 L1497.5,742.8 L1497.8,744.4 L1498.1,745.9 L1498.3,747.5 L1498.6,749.1 L1498.9,750.7 L1499.3,752.3 L1499.6,753.9 L1499.9,755.5 L1500.2,757.0 L1500.6,758.6 L1500.9,760.2 L1501.3,761.7 L1501.7,763.2 L1502.1,764.7 L1502.5,766.1 L1502.9,767.7 L1503.4,769.3 L1503.8,770.8 L1504.3,772.4 L1504.8,773.9 L1505.3,775.4 L1505.9,776.8 L1506.4,778.2 L1507.0,779.5 L1507.7,780.7 L1508.6,782.3 L1509.6,783.9 L1510.7,785.5 L1511.8,786.8 L1512.9,787.6 L1513.9,787.9 L1515.0,787.4 L1516.1,786.2 L1517.2,784.5 L1518.2,782.6 L1519.1,780.7 L1519.6,779.4 L1520.1,778.1 L1520.5,776.7 L1520.9,775.1 L1521.3,773.6 L1521.6,772.0 L1521.9,770.3 L1522.3,768.7 L1522.6,767.1 L1522.9,765.6 L1523.2,764.1 L1523.6,762.4 L1523.9,760.6 L1524.2,758.9 L1524.6,757.1 L1524.9,755.4 L1525.2,753.8 L1525.5,752.2 L1525.9,750.8 L1526.3,749.5 L1527.1,747.8 L1527.8,746.1 L1528.7,744.8 L1529.5,744.4 L1530.3,744.8 L1531.1,746.1 L1531.9,747.8 L1532.6,749.5 L1533.0,750.7 L1533.3,752.0 L1533.6,753.4 L1533.9,754.8 L1534.2,756.4 L1534.4,758.0 L1534.7,759.7 L1534.9,761.3 L1535.2,763.0 L1535.4,764.6 L1535.7,766.1 L1536.0,767.7 L1536.2,769.2 L1536.5,770.7 L1536.8,772.2 L1537.0,773.8 L1537.3,775.3 L1537.6,776.8 L1537.9,778.3 L1538.2,779.8 L1538.5,781.3 L1538.8,782.7 L1539.2,784.2 L1539.5,785.7 L1539.9,787.2 L1540.3,788.7 L1540.7,790.2 L1541.1,791.6 L1541.6,793.0 L1542.0,794.5 L1542.5,795.9 L1542.9,797.3 L1543.5,798.9 L1544.1,800.6 L1544.7,802.2 L1545.4,803.8 L1546.0,805.4 L1546.7,806.9 L1547.4,808.3 L1548.1,809.7 L1549.1,811.4 L1550.0,812.9 L1551.0,814.4 L1552.1,815.7 L1553.3,817.0 L1554.5,818.0 L1555.9,818.9 L1557.3,819.8 L1558.7,820.6 L1560.2,821.4 L1561.6,822.2 L1563.0,822.9 L1564.4,823.7 L1565.7,824.4 L1567.1,825.1 L1568.5,825.7 L1569.9,826.3 L1571.5,826.9 L1573.1,827.3 L1574.7,827.8 L1576.4,828.1 L1578.2,828.4 L1579.6,828.6 L1581.1,828.7 L1582.7,828.8 L1584.3,828.8 L1585.9,828.9 L1587.5,828.9 L1589.1,828.8 L1590.7,828.8 L1592.2,828.7 L1593.8,828.7 L1595.4,828.6 L1597.0,828.4 L1598.6,828.3 L1600.1,828.0 L1601.6,827.7 L1603.1,827.3 L1604.7,826.8 L1606.2,826.2 L1607.7,825.5 L1609.2,824.7 L1610.6,823.9 L1612.0,823.0 L1613.5,822.2 L1614.8,821.3 L1616.1,820.4 L1617.4,819.4 L1618.7,818.4 L1620.0,817.4 L1621.3,816.5 L1622.6,815.6 L1623.9,814.9 L1625.5,814.1 L1627.2,813.4 L1628.8,812.8 L1630.5,812.2 L1632.2,811.8 L1633.8,811.4 L1635.5,811.1 L1637.1,810.8 L1638.8,810.7 L1640.5,810.7 L1642.1,810.9 L1643.8,811.3 L1645.5,811.7 L1647.1,812.2 L1648.8,812.8 L1650.1,813.4 L1651.5,814.1 L1652.8,814.8 L1654.2,815.6 L1655.6,816.3 L1657.1,817.0 L1658.5,817.5 L1659.9,817.9 L1661.4,818.4 L1662.9,818.8 L1664.4,819.2 L1665.9,819.6 L1667.4,820.1 L1668.9,820.6 L1670.4,821.3 L1671.8,821.9 L1673.3,822.6 L1674.7,823.2 L1676.3,823.8 L1677.8,824.2 L1679.3,824.6 L1680.8,824.9 L1682.4,825.2 L1683.9,825.4 L1685.5,825.6 L1687.1,825.7 L1688.7,825.8 L1690.2,825.9 L1691.8,825.9 L1693.4,826.0 L1694.9,825.9 L1696.5,825.9 L1698.0,825.8 L1699.6,825.6 L1701.1,825.5 L1702.7,825.3 L1704.3,825.0 L1705.8,824.7 L1707.4,824.3 L1708.9,824.0 L1710.5,823.5 L1712.1,823.1 L1713.6,822.6 L1715.1,822.2 L1716.7,821.7 L1718.3,821.2 L1719.9,820.6 L1721.5,820.1 L1723.0,819.5 L1724.6,818.9 L1726.1,818.3 L1727.6,817.6 L1729.2,816.9 L1730.8,816.2 L1732.3,815.4 L1733.8,814.6 L1735.3,813.8 L1736.7,812.8 L1738.0,811.8 L1739.0,810.7 L1740.0,809.6 L1741.0,808.3 L1741.9,807.0 L1742.7,805.7 L1743.6,804.3 L1744.4,802.8 L1745.2,801.4 L1746.0,800.1 L1746.8,798.7 L1747.6,797.3 L1748.3,795.9 L1749.1,794.5 L1749.8,793.0 L1750.5,791.5 L1751.2,790.0 L1751.9,788.5 L1752.5,786.9 L1753.0,785.4 L1753.5,784.0 L1754.0,782.5 L1754.5,780.9 L1755.0,779.4 L1755.4,777.8 L1755.8,776.2 L1756.2,774.6 L1756.6,773.0 L1757.0,771.4 L1757.3,769.8 L1757.7,768.2 L1758.0,766.7 L1758.3,765.1 L1758.6,763.5 L1758.8,761.9 L1759.1,760.3 L1759.3,758.7 L1759.6,757.1 L1759.8,755.5 L1760.0,753.9 L1760.2,752.3 L1760.4,750.7 L1760.6,749.1 L1760.8,747.5 L1761.0,745.9 L1761.2,744.3 L1761.3,742.7 L1761.5,741.2 L1761.7,739.6 L1761.8,738.0 L1762.0,736.4 L1762.1,734.8 L1762.3,733.2 L1762.4,731.6 L1762.6,730.0 L1762.7,728.4 L1762.9,726.7 L1763.0,725.2 L1763.1,723.7 L1763.3,722.2 L1763.4,720.7 L1763.5,719.1 L1763.7,717.6 L1763.8,716.0 L1763.9,714.5 L1764.1,712.9 L1764.2,711.3 L1764.3,709.8 L1764.5,708.2 L1764.6,706.6 L1764.7,705.0 L1764.8,703.4 L1764.9,701.8 L1765.0,700.4 L1765.1,698.9 L1765.2,697.4 L1765.3,695.9 L1765.4,694.5 L1765.5,693.0 L1765.6,691.5 L1765.7,690.0 L1765.8,688.5 L1765.9,687.0 L1766.0,685.5 L1766.1,684.0 L1766.2,682.5 L1766.3,681.0 L1766.3,679.5 L1766.4,677.9 L1766.5,676.4 L1766.6,674.9 L1766.7,673.3 L1766.8,671.8 L1766.8,670.3 L1766.9,668.8 L1767.0,667.2 L1767.1,665.7 L1767.1,664.1 L1767.2,662.6 L1767.3,661.0 L1767.3,659.4 L1767.4,657.9 L1767.5,656.3 L1767.6,654.7 L1767.6,653.1 L1767.7,651.6 L1767.8,650.0 L1767.8,648.4 L1767.9,646.9 L1768.0,645.3 L1768.0,643.7 L1768.1,642.2 L1768.2,640.6 L1768.3,639.1 L1768.3,637.5 L1768.4,636.0 L1768.5,634.4 L1768.5,632.8 L1768.6,631.3 L1768.7,629.7 L1768.8,628.2 L1768.8,626.6 L1768.9,625.1 L1769.0,623.5 L1769.1,621.9 L1769.1,620.4 L1769.2,618.8 L1769.3,617.3 L1769.3,615.7 L1769.4,614.2 L1769.5,612.6 L1769.6,611.1 L1769.7,609.5 L1769.7,607.9 L1769.8,606.4 L1769.9,604.8 L1770.0,603.3 L1770.1,601.7 L1770.2,600.2 L1770.3,598.6 L1770.4,597.1 L1770.4,595.5 L1770.5,593.9 L1770.6,592.4 L1770.7,590.8 L1770.8,589.3 L1770.9,587.7 L1770.9,586.2 L1771.0,584.6 L1771.1,583.1 L1771.2,581.5 L1771.2,580.0 L1771.3,578.5 L1771.3,577.0 L1771.4,575.5 L1771.5,574.1 L1771.5,572.7 L1771.6,571.3 L1771.6,569.9 L1771.6,568.4 L1771.7,567.0 L1771.7,565.5 L1771.8,564.1 L1771.8,562.5 L1771.9,561.0 L1771.9,559.4 L1772.0,557.7 L1772.0,556.0 L1772.1,554.2 L1772.1,552.3 L1772.2,550.4 L1772.2,549.3 L1772.3,548.1 L1772.3,547.0 L1772.3,545.8 L1772.4,544.6 L1772.4,543.4 L1772.5,542.2 L1772.5,540.9 L1772.5,539.7 L1772.6,538.4 L1772.6,537.1 L1772.7,535.8 L1772.7,534.4 L1772.7,533.1 L1772.8,531.7 L1772.8,530.3 L1772.9,528.9 L1772.9,527.5 L1773.0,526.0 L1773.0,524.6 L1773.0,523.1 L1773.1,521.6 L1773.1,520.2 L1773.2,518.7 L1773.2,517.1 L1773.3,515.6 L1773.3,514.1 L1773.4,512.5 L1773.4,511.0 L1773.5,509.4 L1773.5,507.8 L1773.6,506.3 L1773.6,504.7 L1773.7,503.1 L1773.7,501.5 L1773.8,499.9 L1773.8,498.2 L1773.8,496.6 L1773.9,495.0 L1773.9,493.4 L1774.0,491.7 L1774.0,490.1 L1774.1,488.4 L1774.1,486.8 L1774.2,485.1 L1774.2,483.5 L1774.3,481.8 L1774.3,480.2 L1774.4,478.5 L1774.4,476.9 L1774.5,475.2 L1774.5,473.6 L1774.5,471.9 L1774.6,470.3 L1774.6,468.6 L1774.7,467.0 L1774.7,465.4 L1774.8,463.7 L1774.8,462.1 L1774.8,460.5 L1774.9,458.8 L1774.9,457.2 L1775.0,455.6 L1775.0,454.0 L1775.0,452.6 L1775.1,451.2 L1775.1,449.7 L1775.1,448.3 L1775.2,446.8 L1775.2,445.4 L1775.2,443.9 L1775.3,442.5 L1775.3,441.0 L1775.3,439.5 L1775.4,438.0 L1775.4,436.6 L1775.4,435.1 L1775.5,433.6 L1775.5,432.1 L1775.5,430.6 L1775.6,429.1 L1775.6,427.6 L1775.6,426.0 L1775.6,424.5 L1775.7,423.0 L1775.7,421.5 L1775.7,419.9 L1775.8,418.4 L1775.8,416.9 L1775.8,415.3 L1775.9,413.8 L1775.9,412.3 L1775.9,410.7 L1775.9,409.2 L1776.0,407.6 L1776.0,406.1 L1776.0,404.5 L1776.1,403.0 L1776.1,401.4 L1776.1,399.9 L1776.1,398.3 L1776.2,396.7 L1776.2,395.2 L1776.2,393.6 L1776.3,392.1 L1776.3,390.5 L1776.3,388.9 L1776.3,387.4 L1776.4,385.8 L1776.4,384.3 L1776.4,382.7 L1776.5,381.2 L1776.5,379.6 L1776.5,378.1 L1776.5,376.5 L1776.6,375.0 L1776.6,373.4 L1776.6,371.9 L1776.7,370.3 L1776.7,368.8 L1776.7,367.2 L1776.7,365.7 L1776.8,364.2 L1776.8,362.6 L1776.8,361.1 L1776.8,359.6 L1776.9,358.1 L1776.9,356.5 L1776.9,355.0 L1777.0,353.5 L1777.0,352.0 L1777.0,350.5 L1777.0,349.0 L1777.1,347.5 L1777.1,346.0 L1777.1,344.5 L1777.1,343.1 L1777.2,341.6 L1777.2,340.1 L1777.2,338.7 L1777.3,337.2 L1777.3,335.7 L1777.3,334.3 L1777.3,332.9 L1777.4,331.4 L1777.4,330.0 L1777.4,328.4 L1777.5,326.8 L1777.5,325.2 L1777.5,323.6 L1777.6,322.1 L1777.6,320.5 L1777.6,318.9 L1777.7,317.3 L1777.7,315.8 L1777.7,314.2 L1777.7,312.6 L1777.8,311.1 L1777.8,309.5 L1777.8,308.0 L1777.9,306.4 L1777.9,304.9 L1777.9,303.3 L1778.0,301.8 L1778.0,300.2 L1778.0,298.7 L1778.1,297.2 L1778.1,295.6 L1778.1,294.1 L1778.2,292.6 L1778.2,291.1 L1778.2,289.6 L1778.3,288.0 L1778.3,286.5 L1778.3,285.0 L1778.3,283.5 L1778.4,282.0 L1778.4,280.5 L1778.4,279.0 L1778.5,277.5 L1778.5,276.0 L1778.5,274.5 L1778.6,273.0 L1778.6,271.5 L1778.6,270.0 L1778.7,268.5 L1778.7,267.0 L1778.7,265.6 L1778.7,264.1 L1778.8,262.6 L1778.8,261.1 L1778.8,259.7 L1778.9,258.2 L1778.9,256.7 L1778.9,255.2 L1779.0,253.8 L1779.0,252.3 L1779.0,250.9 L1779.0,249.4 L1779.1,247.9 L1779.1,246.5 L1779.1,245.0 L1779.2,243.6 L1779.2,242.1 L1779.2,240.7 L1779.3,239.2 L1779.3,237.8 L1779.3,236.3 L1779.3,234.9 L1779.4,233.4 L1779.4,232.0 L1779.4,230.4 L1779.5,228.8 L1779.5,227.2 L1779.5,225.6 L1779.6,224.1 L1779.6,222.5 L1779.6,220.9 L1779.7,219.3 L1779.7,217.7 L1779.7,216.1 L1779.8,214.5 L1779.8,212.9 L1779.8,211.3 L1779.8,209.7 L1779.9,208.1 L1779.9,206.5 L1779.9,205.0 L1780.0,203.4 L1780.0,201.8 L1780.0,200.2 L1780.1,198.6 L1780.1,197.1 L1780.1,195.5 L1780.2,193.9 L1780.2,192.4 L1780.2,190.8 L1780.3,189.3 L1780.3,187.7 L1780.3,186.2 L1780.3,184.7 L1780.4,183.1 L1780.4,181.6 L1780.4,180.1 L1780.5,178.6 L1780.5,177.1 L1780.5,175.6 L1780.6,174.1 L1780.6,172.6 L1780.6,171.1 L1780.6,169.6 L1780.7,168.2 L1780.7,166.7 L1780.7,165.3 L1780.7,163.8 L1780.8,162.4 L1780.8,161.0 L1780.8,159.6 L1780.9,158.2 L1780.9,156.8 L1780.9,155.4 L1780.9,154.0 L1781.0,152.7 L1781.0,151.3 L1781.0,150.0 L1781.0,148.3 L1781.1,146.6 L1781.1,145.0 L1781.1,143.3 L1781.1,141.7 L1781.2,140.1 L1781.2,138.5 L1781.2,136.9 L1781.3,135.3 L1781.3,133.7 L1781.3,132.2 L1781.3,130.6 L1781.4,129.1 L1781.4,127.6 L1781.4,126.1 L1781.4,124.6 L1781.5,123.1 L1781.5,121.6 L1781.5,120.1 L1781.5,118.6 L1781.6,117.2 L1781.6,115.7 L1781.6,114.3 L1781.6,112.8 L1781.6,111.4 L1781.7,109.9 L1781.7,108.5 L1781.7,107.1 L1781.7,105.7 L1781.7,104.2 L1781.8,102.8 L1781.8,101.4 L1781.8,100.0 L1781.8,98.4 L1781.8,96.8 L1781.9,95.2 L1781.9,93.6 L1781.9,92.0 L1781.9,90.4 L1781.9,88.9 L1782.0,87.3 L1782.0,85.8 L1782.0,84.3 L1782.0,82.7 L1782.0,81.2 L1782.0,79.7 L1782.0,78.2 L1782.1,76.7 L1782.1,75.2 L1782.1,73.7 L1782.1,72.3 L1782.1,70.8 L1782.1,69.3 L1782.1,67.8 L1782.2,66.4 L1782.2,64.9 L1782.2,63.5 L1782.2,62.0 L1782.2,60.3 L1782.2,58.6 L1782.2,56.7 L1782.3,54.8 L1782.3,52.8 L1782.3,50.8 L1782.3,48.8 L1782.3,46.7 L1782.3,44.7 L1782.3,42.8 L1782.4,40.9 L1782.4,39.1 L1782.4,37.4 L1782.4,35.8 L1782.4,34.4 L1782.4,33.1 L1782.4,32.1 L1782.5,31.2 L1782.5,30.5 L1782.5,30.1 L1782.5,30.0 L1782.5,30.1 L1782.5,30.5 L1782.6,31.2 L1782.6,32.1 L1782.6,33.1 L1782.6,34.4 L1782.6,35.8 L1782.6,37.4 L1782.7,39.1 L1782.7,40.9 L1782.7,42.8 L1782.7,44.7 L1782.7,46.7 L1782.8,48.8 L1782.8,50.8 L1782.8,52.8 L1782.8,54.8 L1782.8,56.7 L1782.9,58.6 L1782.9,60.3 L1782.9,62.0 L1782.9,63.5 L1782.9,64.9 L1782.9,66.4 L1783.0,67.8 L1783.0,69.3 L1783.0,70.8 L1783.0,72.3 L1783.0,73.7 L1783.0,75.2 L1783.1,76.7 L1783.1,78.2 L1783.1,79.7 L1783.1,81.2 L1783.1,82.7 L1783.1,84.3 L1783.1,85.8 L1783.2,87.3 L1783.2,88.9 L1783.2,90.4 L1783.2,92.0 L1783.2,93.6 L1783.2,95.2 L1783.3,96.8 L1783.3,98.4 L1783.3,100.0 L1783.3,101.4 L1783.3,102.8 L1783.4,104.2 L1783.4,105.7 L1783.4,107.1 L1783.4,108.5 L1783.4,109.9 L1783.4,111.4 L1783.5,112.8 L1783.5,114.3 L1783.5,115.7 L1783.5,117.2 L1783.5,118.6 L1783.6,120.1 L1783.6,121.6 L1783.6,123.1 L1783.6,124.6 L1783.6,126.1 L1783.7,127.6 L1783.7,129.1 L1783.7,130.6 L1783.7,132.2 L1783.7,133.7 L1783.8,135.3 L1783.8,136.9 L1783.8,138.5 L1783.8,140.1 L1783.9,141.7 L1783.9,143.3 L1783.9,145.0 L1783.9,146.6 L1784.0,148.3 L1784.0,150.0 L1784.0,151.3 L1784.0,152.7 L1784.1,154.0 L1784.1,155.4 L1784.1,156.8 L1784.1,158.2 L1784.2,159.6 L1784.2,161.0 L1784.2,162.4 L1784.3,163.8 L1784.3,165.3 L1784.3,166.7 L1784.3,168.2 L1784.4,169.6 L1784.4,171.1 L1784.4,172.6 L1784.4,174.1 L1784.5,175.6 L1784.5,177.1 L1784.5,178.6 L1784.6,180.1 L1784.6,181.6 L1784.6,183.1 L1784.7,184.7 L1784.7,186.2 L1784.7,187.7 L1784.8,189.3 L1784.8,190.8 L1784.8,192.4 L1784.9,193.9 L1784.9,195.5 L1784.9,197.1 L1785.0,198.6 L1785.0,200.2 L1785.0,201.8 L1785.1,203.4 L1785.1,205.0 L1785.1,206.5 L1785.2,208.1 L1785.2,209.7 L1785.2,211.3 L1785.3,212.9 L1785.3,214.5 L1785.3,216.1 L1785.4,217.7 L1785.4,219.3 L1785.4,220.9 L1785.5,222.5 L1785.5,224.1 L1785.6,225.6 L1785.6,227.2 L1785.6,228.8 L1785.7,230.4 L1785.7,232.0 L1785.7,233.4 L1785.8,234.9 L1785.8,236.3 L1785.8,237.8 L1785.9,239.2 L1785.9,240.7 L1785.9,242.1 L1786.0,243.6 L1786.0,245.0 L1786.0,246.5 L1786.1,247.9 L1786.1,249.4 L1786.1,250.9 L1786.2,252.3 L1786.2,253.8 L1786.3,255.3 L1786.3,256.7 L1786.3,258.2 L1786.4,259.7 L1786.4,261.1 L1786.4,262.6 L1786.5,264.1 L1786.5,265.6 L1786.5,267.0 L1786.6,268.5 L1786.6,270.0 L1786.7,271.5 L1786.7,273.0 L1786.7,274.5 L1786.8,276.0 L1786.8,277.5 L1786.8,279.0 L1786.9,280.5 L1786.9,282.0 L1787.0,283.5 L1787.0,285.0 L1787.0,286.5 L1787.1,288.0 L1787.1,289.6 L1787.2,291.1 L1787.2,292.6 L1787.2,294.1 L1787.3,295.6 L1787.3,297.2 L1787.4,298.7 L1787.4,300.2 L1787.4,301.8 L1787.5,303.3 L1787.5,304.9 L1787.6,306.4 L1787.6,308.0 L1787.6,309.5 L1787.7,311.1 L1787.7,312.6 L1787.8,314.2 L1787.8,315.8 L1787.9,317.3 L1787.9,318.9 L1787.9,320.5 L1788.0,322.1 L1788.0,323.6 L1788.1,325.2 L1788.1,326.8 L1788.2,328.4 L1788.2,330.0 L1788.2,331.4 L1788.3,332.9 L1788.3,334.3 L1788.4,335.7 L1788.4,337.2 L1788.4,338.6 L1788.5,340.1 L1788.5,341.6 L1788.6,343.0 L1788.6,344.5 L1788.7,346.0 L1788.7,347.5 L1788.7,348.9 L1788.8,350.4 L1788.8,351.9 L1788.9,353.4 L1788.9,354.9 L1789.0,356.4 L1789.0,357.9 L1789.0,359.4 L1789.1,361.0 L1789.1,362.5 L1789.2,364.0 L1789.2,365.5 L1789.3,367.0 L1789.3,368.6 L1789.4,370.1 L1789.4,371.6 L1789.5,373.2 L1789.5,374.7 L1789.5,376.2 L1789.6,377.8 L1789.6,379.3 L1789.7,380.8 L1789.7,382.4 L1789.8,383.9 L1789.8,385.5 L1789.9,387.0 L1789.9,388.6 L1790.0,390.1 L1790.0,391.7 L1790.1,393.2 L1790.1,394.8 L1790.2,396.3 L1790.2,397.9 L1790.2,399.4 L1790.3,401.0 L1790.3,402.5 L1790.4,404.1 L1790.4,405.6 L1790.5,407.2 L1790.5,408.7 L1790.6,410.2 L1790.6,411.8 L1790.7,413.3 L1790.7,414.9 L1790.8,416.4 L1790.8,417.9 L1790.9,419.5 L1790.9,421.0 L1791.0,422.5 L1791.0,424.1 L1791.0,425.6 L1791.1,427.1 L1791.1,428.6 L1791.2,430.2 L1791.2,431.7 L1791.3,433.2 L1791.3,434.7 L1791.4,436.2 L1791.4,437.7 L1791.5,439.2 L1791.5,440.7 L1791.5,442.2 L1791.6,443.7 L1791.6,445.2 L1791.7,446.7 L1791.7,448.1 L1791.8,449.6 L1791.8,451.1 L1791.9,452.5 L1791.9,454.0 L1791.9,455.6 L1792.0,457.1 L1792.0,458.7 L1792.1,460.3 L1792.1,461.9 L1792.2,463.5 L1792.2,465.1 L1792.3,466.7 L1792.3,468.4 L1792.4,470.0 L1792.4,471.6 L1792.5,473.3 L1792.5,474.9 L1792.6,476.6 L1792.6,478.2 L1792.7,479.9 L1792.7,481.5 L1792.7,483.2 L1792.8,484.8 L1792.8,486.5 L1792.9,488.1 L1792.9,489.8 L1793.0,491.4 L1793.0,493.1 L1793.1,494.7 L1793.1,496.4 L1793.2,498.0 L1793.2,499.7 L1793.3,501.3 L1793.3,503.0 L1793.4,504.6 L1793.4,506.2 L1793.5,507.8 L1793.5,509.4 L1793.6,511.1 L1793.6,512.7 L1793.6,514.3 L1793.7,515.8 L1793.7,517.4 L1793.8,519.0 L1793.8,520.5 L1793.9,522.1 L1793.9,523.6 L1794.0,525.2 L1794.0,526.7 L1794.0,528.2 L1794.1,529.7 L1794.1,531.2 L1794.2,532.6 L1794.2,534.1 L1794.3,535.5 L1794.3,537.0 L1794.3,538.4 L1794.4,539.8 L1794.4,541.2 L1794.5,542.5 L1794.5,543.9 L1794.5,545.2 L1794.6,546.5 L1794.6,547.8 L1794.7,549.1 L1794.7,550.4 L1794.7,551.6 L1794.8,552.8 L1794.8,554.0 L1794.8,555.2 L1794.9,556.3 L1794.9,557.5 L1795.0,558.6 L1795.0,559.7 L1795.0,560.7 L1795.1,562.7 L1795.1,564.6 L1795.2,566.4 L1795.2,568.2 L1795.3,569.8 L1795.3,571.5 L1795.4,573.0 L1795.4,574.5 L1795.5,576.0 L1795.5,577.5 L1795.5,578.9 L1795.6,580.3 L1795.6,581.7 L1795.7,583.1 L1795.7,584.5 L1795.8,585.9 L1795.9,587.4 L1795.9,588.8 L1796.0,590.3 L1796.1,591.9 L1796.1,593.4 L1796.2,595.0 L1796.3,596.5 L1796.4,598.1 L1796.5,599.6 L1796.6,601.2 L1796.7,602.8 L1796.8,604.3 L1796.9,605.9 L1797.0,607.4 L1797.1,609.0 L1797.3,610.5 L1797.4,612.1 L1797.5,613.7 L1797.6,615.2 L1797.7,616.8 L1797.8,618.3 L1797.9,619.9 L1798.0,621.4 L1798.1,623.0 L1798.2,624.5 L1798.3,626.1 L1798.4,627.7 L1798.5,629.2 L1798.6,630.8 L1798.8,632.4 L1798.9,634.0 L1799.0,635.5 L1799.1,637.1 L1799.2,638.7 L1799.3,640.3 L1799.4,641.8 L1799.5,643.4 L1799.6,644.9 L1799.7,646.5 L1799.8,648.0 L1799.9,649.6 L1800.0,651.1 L1800.1,652.6 L1800.2,654.1 L1800.3,655.7 L1800.4,657.2 L1800.5,658.7 L1800.6,660.2 L1800.7,661.7 L1800.9,663.2 L1801.0,664.7 L1801.1,666.2 L1801.2,667.7 L1801.3,669.1 L1801.4,670.6 L1801.5,672.1 L1801.6,673.6 L1801.8,675.1 L1801.9,676.6 L1802.0,678.1 L1802.1,679.6 L1802.3,681.1 L1802.4,682.6 L1802.6,684.1 L1802.7,685.6 L1802.9,687.1 L1803.0,688.7 L1803.2,690.2 L1803.4,691.8 L1803.5,693.3 L1803.7,694.8 L1803.9,696.4 L1804.0,697.9 L1804.2,699.5 L1804.4,701.0 L1804.5,702.5 L1804.7,704.1 L1804.9,705.6 L1805.1,707.1 L1805.2,708.6 L1805.4,710.1 L1805.6,711.7 L1805.7,713.2 L1805.9,714.7 L1806.1,716.2 L1806.2,717.8 L1806.4,719.3 L1806.5,720.8 L1806.7,722.3 L1806.9,723.8 L1807.0,725.3 L1807.2,726.8 L1807.4,728.3 L1807.5,729.8 L1807.7,731.3 L1807.9,732.7 L1808.1,734.2 L1808.3,735.7 L1808.5,737.1 L1808.7,738.7 L1809.0,740.3 L1809.2,741.8 L1809.5,743.4 L1809.8,745.0 L1810.0,746.6 L1810.3,748.1 L1810.6,749.6 L1810.9,751.2 L1811.2,752.7 L1811.5,754.2 L1811.8,755.6 L1812.1,757.1 L1812.4,758.5 L1812.7,759.9 L1813.0,761.5 L1813.3,763.1 L1813.7,764.7 L1814.0,766.3 L1814.3,767.8 L1814.7,769.3 L1815.1,770.8 L1815.5,772.3 L1815.9,773.7 L1816.3,775.1 L1816.8,776.5 L1817.4,778.0 L1818.0,779.5 L1818.6,781.0 L1819.3,782.5 L1820.0,783.9 L1820.7,785.3 L1821.5,786.6 L1822.2,787.8 L1823.0,789.0 L1824.2,790.5 L1825.3,791.9 L1826.6,793.2 L1827.8,794.3 L1829.3,795.2 L1830.9,795.9 L1832.7,796.5 L1834.5,797.0 L1836.2,797.2 L1837.6,797.3 L1840.0,796.2 L1841.4,795.4 L1843.0,794.5 L1844.7,793.3 L1846.2,792.1 L1847.3,791.0 L1848.3,789.8 L1849.3,788.5 L1850.3,787.2 L1851.3,785.9 L1852.4,784.8 L1853.7,783.8 L1855.1,783.0 L1856.6,782.2 L1858.1,781.4 L1859.5,780.6 L1860.7,779.6 L1861.9,778.6 L1863.0,777.5 L1864.0,776.3 L1865.0,775.1 L1866.0,773.8 L1867.0,772.4 L1867.7,771.2 L1868.5,769.9 L1869.2,768.6 L1869.9,767.2 L1870.6,765.8 L1871.3,764.4 L1871.9,762.9 L1872.6,761.4 L1873.2,759.9 L1873.7,758.5 L1874.3,757.1 L1874.8,755.7 L1875.3,754.2 L1875.8,752.7 L1876.3,751.2 L1876.7,749.6 L1877.2,748.1 L1877.6,746.5 L1878.0,744.9 L1878.4,743.3 L1878.7,741.8 L1879.0,740.3 L1879.3,738.8 L1879.6,737.2 L1879.8,735.7 L1880.1,734.1 L1880.3,732.5 L1880.5,730.9 L1880.7,729.3 L1880.9,727.6 L1881.1,725.9 L1881.3,724.3 L1881.5,722.6 L1881.6,721.2 L1881.8,719.7 L1881.9,718.3 L1882.0,716.9 L1882.1,715.4 L1882.2,713.9 L1882.3,712.4 L1882.4,710.9 L1882.5,709.4 L1882.6,707.9 L1882.6,706.4 L1882.7,704.9 L1882.8,703.3 L1882.9,701.8 L1882.9,700.3 L1883.0,698.7 L1883.1,697.2 L1883.2,695.6 L1883.2,694.1 L1883.3,692.6 L1883.4,691.1 L1883.4,689.5 L1883.5,688.0 L1883.5,686.4 L1883.6,684.9 L1883.6,683.3 L1883.7,681.8 L1883.7,680.2 L1883.8,678.6 L1883.8,677.0 L1883.9,675.5 L1883.9,673.9 L1883.9,672.3 L1884.0,670.7 L1884.0,669.2 L1884.1,667.6 L1884.1,666.0 L1884.2,664.5 L1884.2,662.9 L1884.3,661.4 L1884.3,659.8 L1884.4,658.3 L1884.5,656.7 L1884.5,655.1 L1884.6,653.6 L1884.6,652.0 L1884.7,650.5 L1884.7,648.9 L1884.8,647.4 L1884.8,645.8 L1884.9,644.3 L1884.9,642.7 L1885.0,641.1 L1885.0,639.6 L1885.1,638.0 L1885.1,636.5 L1885.2,634.9 L1885.2,633.4 L1885.3,631.8 L1885.3,630.2 L1885.4,628.7 L1885.4,627.1 L1885.4,625.6 L1885.5,624.0 L1885.5,622.5 L1885.6,620.9 L1885.6,619.4 L1885.6,617.8 L1885.7,616.2 L1885.7,614.7 L1885.7,613.1 L1885.8,611.6 L1885.8,610.0 L1885.9,608.5 L1885.9,606.9 L1886.0,605.4 L1886.0,603.8 L1886.1,602.2 L1886.1,600.7 L1886.2,599.1 L1886.2,597.6 L1886.3,596.0 L1886.3,594.5 L1886.4,592.9 L1886.5,591.3 L1886.5,589.8 L1886.6,588.2 L1886.7,586.7 L1886.7,585.1 L1886.8,583.6 L1886.9,582.0 L1886.9,580.5 L1887.0,578.9 L1887.1,577.3 L1887.1,575.8 L1887.2,574.2 L1887.2,572.7 L1887.3,571.1 L1887.4,569.6 L1887.4,568.1 L1887.5,566.6 L1887.5,565.2 L1887.6,563.7 L1887.6,562.3 L1887.7,560.9 L1887.8,559.5 L1887.8,558.0 L1887.9,556.6 L1887.9,555.1 L1888.0,553.6 L1888.0,552.1 L1888.1,550.5 L1888.1,548.9 L1888.2,547.3 L1888.2,545.6 L1888.3,543.8 L1888.3,541.9 L1888.3,540.0 L1888.4,538.9 L1888.4,537.7 L1888.4,536.5 L1888.4,535.3 L1888.4,534.1 L1888.4,532.8 L1888.5,531.5 L1888.5,530.2 L1888.5,528.9 L1888.5,527.5 L1888.5,526.2 L1888.5,524.8 L1888.5,523.4 L1888.5,521.9 L1888.5,520.5 L1888.5,519.0 L1888.5,517.6 L1888.5,516.1 L1888.5,514.6 L1888.5,513.0 L1888.5,511.5 L1888.5,509.9 L1888.5,508.4 L1888.5,506.8 L1888.5,505.2 L1888.5,503.6 L1888.5,502.0 L1888.5,500.4 L1888.5,498.8 L1888.5,497.2 L1888.5,495.6 L1888.5,493.9 L1888.5,492.3 L1888.5,490.7 L1888.5,489.0 L1888.5,487.4 L1888.5,485.7 L1888.5,484.1 L1888.5,482.4 L1888.5,480.8 L1888.5,479.1 L1888.6,477.5 L1888.6,475.8 L1888.6,474.2 L1888.6,472.5 L1888.6,470.9 L1888.6,469.3 L1888.6,467.7 L1888.6,466.0 L1888.6,464.4 L1888.6,462.8 L1888.6,461.3 L1888.6,459.7 L1888.6,458.1 L1888.7,456.6 L1888.7,455.0 L1888.7,453.5 L1888.7,452.0 L1888.7,450.5 L1888.8,449.0 L1888.8,447.4 L1888.8,445.9 L1888.8,444.3 L1888.9,442.8 L1888.9,441.3 L1888.9,439.7 L1888.9,438.2 L1889.0,436.7 L1889.0,435.2 L1889.0,433.6 L1889.1,432.1 L1889.1,430.6 L1889.1,429.1 L1889.2,427.6 L1889.2,426.1 L1889.2,424.5 L1889.3,423.0 L1889.3,421.5 L1889.4,420.0 L1889.4,418.5 L1889.4,417.0 L1889.5,415.5 L1889.5,414.0 L1889.5,412.5 L1889.6,411.0 L1889.6,409.5 L1889.7,408.0 L1889.7,406.5 L1889.8,405.0 L1889.8,403.5 L1889.8,402.0 L1889.9,400.5 L1889.9,399.0 L1890.0,397.5 L1890.0,396.0 L1890.0,394.5 L1890.1,393.0 L1890.1,391.5 L1890.2,390.0 L1890.2,388.5 L1890.3,387.0 L1890.3,385.5 L1890.3,384.0 L1890.4,382.5 L1890.4,381.0 L1890.5,379.5 L1890.5,378.0 L1890.6,376.5 L1890.6,375.0 L1890.6,373.5 L1890.7,372.0 L1890.7,370.5 L1890.8,369.0 L1890.8,367.5 L1890.8,366.0 L1890.9,364.5 L1890.9,362.9 L1890.9,361.4 L1891.0,359.9 L1891.0,358.4 L1891.1,356.8 L1891.1,355.3 L1891.1,353.7 L1891.2,352.2 L1891.2,350.6 L1891.3,349.1 L1891.3,347.5 L1891.3,345.9 L1891.4,344.4 L1891.4,342.8 L1891.5,341.2 L1891.5,339.7 L1891.5,338.1 L1891.6,336.5 L1891.6,335.0 L1891.7,333.4 L1891.7,331.8 L1891.8,330.2 L1891.8,328.7 L1891.8,327.1 L1891.9,325.6 L1891.9,324.0 L1892.0,322.4 L1892.0,320.9 L1892.0,319.3 L1892.1,317.8 L1892.1,316.3 L1892.1,314.7 L1892.2,313.2 L1892.2,311.7 L1892.3,310.2 L1892.3,308.7 L1892.3,307.2 L1892.4,305.7 L1892.4,304.2 L1892.5,302.7 L1892.5,301.2 L1892.5,299.8 L1892.6,298.3 L1892.6,296.9 L1892.6,295.4 L1892.7,294.0 L1892.7,292.6 L1892.7,291.2 L1892.8,289.8 L1892.8,288.4 L1892.8,287.0 L1892.8,285.7 L1892.9,284.3 L1892.9,283.0 L1892.9,281.3 L1893.0,279.5 L1893.0,277.8 L1893.0,276.2 L1893.1,274.5 L1893.1,272.8 L1893.1,271.1 L1893.1,269.5 L1893.2,267.9 L1893.2,266.2 L1893.2,264.6 L1893.2,263.0 L1893.2,261.5 L1893.3,259.9 L1893.3,258.3 L1893.3,256.8 L1893.3,255.2 L1893.3,253.7 L1893.4,252.2 L1893.4,250.6 L1893.4,249.1 L1893.4,247.7 L1893.4,246.2 L1893.5,244.7 L1893.5,243.3 L1893.5,241.8 L1893.6,240.4 L1893.6,239.0 L1893.6,237.5 L1893.7,236.1 L1893.7,234.8 L1893.8,233.4 L1893.8,232.0 L1893.9,230.3 L1893.9,228.7 L1894.0,227.0 L1894.1,225.4 L1894.1,223.8 L1894.2,222.3 L1894.3,220.7 L1894.4,219.2 L1894.4,217.7 L1894.5,216.2 L1894.6,214.7 L1894.7,213.3 L1894.8,211.8 L1894.9,210.3 L1895.0,208.8 L1895.0,207.4 L1895.1,205.9 L1895.2,204.5 L1895.3,203.0 L1895.4,201.5 L1895.5,200.0 L1895.6,198.5 L1895.7,196.9 L1895.8,195.4 L1895.9,193.9 L1896.0,192.3 L1896.1,190.8 L1896.2,189.3 L1896.3,187.7 L1896.4,186.2 L1896.5,184.7 L1896.6,183.2 L1896.7,181.6 L1896.8,180.1 L1896.9,178.7 L1897.0,177.2 L1897.2,175.7 L1897.3,174.3 L1897.4,172.8 L1897.5,171.4 L1897.6,170.0 L1897.7,168.3 L1897.9,166.5 L1898.0,164.6 L1898.1,162.6 L1898.3,160.6 L1898.4,158.6 L1898.6,156.7 L1898.7,154.8 L1898.8,153.1 L1899.0,151.5 L1899.1,150.2 L1899.2,149.1 L1899.4,148.2 L1899.5,147.7 L1899.6,147.5 L1899.7,147.7 L1899.8,148.2 L1899.9,149.1 L1900.0,150.2 L1900.1,151.6 L1900.2,153.1 L1900.3,154.8 L1900.4,156.7 L1900.5,158.6 L1900.6,160.6 L1900.6,162.6 L1900.7,164.6 L1900.8,166.5 L1900.8,168.3 L1900.9,170.0 L1900.9,171.4 L1901.0,172.8 L1901.0,174.3 L1901.1,175.7 L1901.1,177.2 L1901.1,178.7 L1901.2,180.1 L1901.2,181.6 L1901.2,183.2 L1901.2,184.7 L1901.2,186.2 L1901.3,187.7 L1901.3,189.3 L1901.3,190.8 L1901.3,192.3 L1901.3,193.9 L1901.3,195.4 L1901.4,196.9 L1901.4,198.5 L1901.4,200.0 L1901.4,201.5 L1901.4,203.0 L1901.5,204.5 L1901.5,205.9 L1901.5,207.4 L1901.6,208.9 L1901.6,210.3 L1901.6,211.8 L1901.6,213.3 L1901.7,214.7 L1901.7,216.2 L1901.7,217.7 L1901.7,219.2 L1901.7,220.7 L1901.8,222.3 L1901.8,223.8 L1901.8,225.4 L1901.8,227.0 L1901.9,228.7 L1901.9,230.3 L1901.9,232.0 L1901.9,233.4 L1901.9,234.8 L1901.9,236.1 L1901.9,237.5 L1902.0,239.0 L1902.0,240.4 L1902.0,241.8 L1902.0,243.3 L1902.0,244.7 L1902.0,246.2 L1902.0,247.7 L1902.0,249.2 L1902.0,250.7 L1902.0,252.2 L1902.0,253.7 L1902.0,255.2 L1902.0,256.8 L1902.0,258.3 L1902.0,259.9 L1902.0,261.5 L1902.0,263.0 L1902.0,264.6 L1902.0,266.3 L1902.0,267.9 L1902.0,269.5 L1902.1,271.2 L1902.1,272.8 L1902.1,274.5 L1902.1,276.2 L1902.1,277.8 L1902.2,279.5 L1902.2,281.3 L1902.2,283.0 L1902.3,284.3 L1902.3,285.7 L1902.3,287.0 L1902.4,288.4 L1902.4,289.8 L1902.5,291.2 L1902.5,292.6 L1902.5,294.0 L1902.6,295.4 L1902.6,296.9 L1902.7,298.3 L1902.7,299.8 L1902.8,301.2 L1902.8,302.7 L1902.9,304.2 L1902.9,305.7 L1903.0,307.2 L1903.0,308.7 L1903.1,310.2 L1903.2,311.7 L1903.2,313.2 L1903.3,314.7 L1903.3,316.3 L1903.4,317.8 L1903.5,319.4 L1903.5,320.9 L1903.6,322.4 L1903.6,324.0 L1903.7,325.6 L1903.8,327.1 L1903.8,328.7 L1903.9,330.2 L1904.0,331.8 L1904.0,333.4 L1904.1,335.0 L1904.2,336.5 L1904.2,338.1 L1904.3,339.7 L1904.4,341.2 L1904.4,342.8 L1904.5,344.4 L1904.6,345.9 L1904.6,347.5 L1904.7,349.1 L1904.7,350.6 L1904.8,352.2 L1904.9,353.7 L1904.9,355.3 L1905.0,356.8 L1905.1,358.4 L1905.1,359.9 L1905.2,361.4 L1905.2,362.9 L1905.3,364.5 L1905.4,366.0 L1905.4,367.5 L1905.5,369.0 L1905.5,370.5 L1905.6,372.1 L1905.6,373.6 L1905.7,375.1 L1905.8,376.7 L1905.8,378.2 L1905.9,379.7 L1905.9,381.3 L1906.0,382.8 L1906.0,384.4 L1906.1,386.0 L1906.2,387.5 L1906.2,389.1 L1906.3,390.6 L1906.3,392.2 L1906.4,393.7 L1906.5,395.3 L1906.5,396.9 L1906.6,398.4 L1906.6,400.0 L1906.7,401.5 L1906.7,403.1 L1906.8,404.7 L1906.9,406.2 L1906.9,407.8 L1907.0,409.3 L1907.0,410.9 L1907.1,412.4 L1907.1,413.9 L1907.2,415.5 L1907.3,417.0 L1907.3,418.5 L1907.4,420.0 L1907.4,421.6 L1907.5,423.1 L1907.5,424.6 L1907.6,426.1 L1907.7,427.6 L1907.7,429.0 L1907.8,430.5 L1907.8,432.0 L1907.9,433.5 L1907.9,434.9 L1908.0,436.4 L1908.0,437.8 L1908.1,439.2 L1908.2,440.6 L1908.2,442.1 L1908.3,443.5 L1908.3,444.9 L1908.4,446.2 L1908.4,447.6 L1908.5,449.0 L1908.5,450.6 L1908.6,452.3 L1908.7,454.0 L1908.7,455.6 L1908.8,457.3 L1908.8,458.9 L1908.9,460.5 L1908.9,462.2 L1909.0,463.8 L1909.1,465.4 L1909.1,467.0 L1909.2,468.6 L1909.2,470.1 L1909.3,471.7 L1909.3,473.3 L1909.4,474.8 L1909.4,476.3 L1909.5,477.9 L1909.5,479.4 L1909.6,480.9 L1909.7,482.4 L1909.7,483.9 L1909.8,485.4 L1909.8,486.9 L1909.9,488.4 L1909.9,489.8 L1910.0,491.3 L1910.1,492.7 L1910.1,494.2 L1910.2,495.6 L1910.2,497.0 L1910.3,498.4 L1910.3,499.8 L1910.4,501.2 L1910.5,502.6 L1910.5,503.9 L1910.6,505.6 L1910.7,507.3 L1910.8,508.9 L1910.9,510.6 L1911.0,512.2 L1911.0,513.8 L1911.1,515.4 L1911.2,517.0 L1911.3,518.6 L1911.4,520.2 L1911.5,521.8 L1911.6,523.3 L1911.7,524.8 L1911.8,526.3 L1911.9,527.8 L1912.0,529.3 L1912.0,530.7 L1912.1,532.1 L1912.2,533.5 L1912.3,534.9 L1912.4,536.2 L1912.5,537.5 L1912.5,538.8 L1912.6,540.0 L1912.7,541.7 L1912.8,543.4 L1912.9,544.9 L1913.0,546.4 L1913.1,547.9 L1913.1,549.3 L1913.2,550.7 L1913.3,552.1 L1913.4,553.6 L1913.5,555.0 L1913.7,556.6 L1913.8,558.1 L1913.9,559.7 L1914.0,561.2 L1914.2,562.8 L1914.3,564.4 L1914.5,566.0 L1914.6,567.6 L1914.8,569.3 L1915.0,570.9 L1915.2,572.5 L1915.3,574.1 L1915.5,575.7 L1915.7,577.3 L1915.9,578.9 L1916.1,580.6 L1916.4,582.2 L1916.6,583.8 L1916.8,585.4 L1917.1,587.1 L1917.3,588.7 L1917.6,590.3 L1917.8,591.9 L1918.1,593.5 L1918.3,595.0 L1918.6,596.6 L1918.8,598.1 L1919.1,599.7 L1919.3,601.3 L1919.6,602.9 L1919.8,604.5 L1920.1,606.1 L1920.3,607.7 L1920.6,609.2 L1920.9,610.7 L1921.2,612.1 L1921.6,613.4 L1922.0,614.7 L1922.5,616.3 L1923.2,617.7 L1923.9,619.1 L1924.6,620.4 L1925.3,621.7 L1926.1,623.0 L1927.1,624.5 L1928.1,625.9 L1929.2,627.3 L1930.2,628.8 L1931.3,630.2 L1932.2,631.6 L1933.1,632.9 L1934.0,634.2 L1934.9,635.5 L1935.7,637.0 L1936.5,638.5 L1937.0,639.9 L1937.4,641.2 L1937.8,642.6 L1938.2,644.1 L1938.5,645.6 L1938.8,647.2 L1939.1,648.8 L1939.3,650.4 L1939.6,652.0 L1939.8,653.5 L1940.0,655.0 L1940.1,656.5 L1940.3,658.0 L1940.4,659.6 L1940.5,661.2 L1940.6,662.9 L1940.7,664.5 L1940.8,666.2 L1940.9,667.8 L1941.0,669.5 L1941.1,671.1 L1941.2,672.8 L1941.3,674.3 L1941.4,675.8 L1941.5,677.3 L1941.6,678.8 L1941.7,680.3 L1941.8,681.9 L1941.9,683.4 L1942.0,685.0 L1942.1,686.5 L1942.2,688.0 L1942.3,689.6 L1942.4,691.1 L1942.5,692.6 L1942.6,694.1 L1942.7,695.6 L1942.8,697.2 L1943.0,698.9 L1943.1,700.5 L1943.3,702.1 L1943.4,703.7 L1943.6,705.2 L1943.7,706.8 L1943.9,708.4 L1944.0,710.0 L1944.2,711.6 L1944.4,713.2 L1944.6,714.8 L1944.8,716.3 L1945.0,717.9 L1945.2,719.6 L1945.4,721.2 L1945.6,722.8 L1945.8,724.4 L1946.1,726.0 L1946.3,727.6 L1946.5,729.2 L1946.8,730.8 L1947.1,732.4 L1947.3,734.0 L1947.6,735.5 L1947.9,737.1 L1948.2,738.7 L1948.5,740.3 L1948.8,741.9 L1949.1,743.5 L1949.5,745.2 L1949.8,746.8 L1950.2,748.3 L1950.5,749.9 L1950.9,751.4 L1951.3,752.9 L1951.7,754.4 L1952.0,755.8 L1952.5,757.5 L1953.0,759.1 L1953.5,760.7 L1954.0,762.3 L1954.5,763.8 L1955.0,765.3 L1955.6,766.7 L1956.2,768.2 L1956.8,769.8 L1957.5,771.4 L1958.2,772.9 L1958.9,774.4 L1959.7,775.9 L1960.5,777.3 L1961.4,778.6 L1962.4,780.0 L1963.5,781.3 L1964.7,782.6 L1965.9,783.8 L1967.2,784.9 L1968.6,785.9 L1970.0,786.7 L1971.4,787.4 L1972.9,788.0 L1974.4,788.6 L1975.9,789.1 L1977.5,789.6 L1979.0,790.0 L1980.7,790.4 L1982.5,790.6 L1984.2,790.8 L1986.0,791.0 L1987.7,791.0 L1989.4,791.0 L1991.1,791.0 L1992.8,790.8 L1994.4,790.6 L1996.0,790.3 L1997.7,790.0 L1999.3,789.6 L2001.0,789.1 L2002.7,788.7 L2004.3,788.2 L2006.0,787.9 L2007.6,787.7 L2009.3,787.6 L2011.0,787.6 L2012.6,787.6 L2014.3,787.9 L2015.7,788.4 L2017.1,789.0 L2018.5,789.7 L2019.8,790.5 L2021.2,791.3 L2022.6,792.1 L2024.0,792.9 L2025.4,793.7 L2026.8,794.6 L2028.2,795.5 L2029.6,796.4 L2030.9,797.3 L2032.2,798.2 L2033.4,799.2 L2034.5,800.1 L2035.8,801.0 L2037.1,801.8 L2038.6,802.6 L2040.3,803.2 L2042.0,803.8 L2043.7,804.2 L2045.4,804.5 L2047.1,804.7 L2048.7,804.7 L2050.4,804.6 L2052.1,804.4 L2053.7,803.9 L2055.1,803.3 L2056.6,802.5 L2057.9,801.6 L2059.3,800.5 L2060.7,799.4 L2062.0,798.3 L2063.1,797.3 L2064.2,796.2 L2065.2,795.1 L2066.2,794.0 L2067.3,792.7 L2068.3,791.5 L2069.3,790.2 L2070.3,789.0 L2071.2,787.7 L2072.2,786.3 L2073.1,784.9 L2074.0,783.4 L2074.9,782.0 L2075.8,780.5 L2076.7,779.1 L2077.6,777.8 L2078.6,776.5 L2079.7,775.2 L2080.9,773.9 L2082.0,772.6 L2083.2,771.4 L2084.4,770.3 L2085.7,769.2 L2086.9,768.2 L2088.2,767.2 L2089.6,766.3 L2091.0,765.4 L2092.4,764.6 L2093.8,763.8 L2095.2,763.0 L2096.6,762.2 L2098.0,761.4 L2099.4,760.5 L2100.8,759.8 L2102.1,759.2 L2103.5,758.9 L2105.1,758.7 L2106.7,758.8 L2108.3,759.2 L2109.7,759.9 L2110.9,760.8 L2111.9,762.1 L2112.9,763.6 L2113.9,765.1 L2114.9,766.7 L2115.9,768.2 L2116.9,769.6 L2117.9,771.0 L2118.9,772.5 L2119.9,774.0 L2121.0,775.3 L2122.1,776.5 L2123.2,777.6 L2124.6,778.6 L2126.0,779.5 L2127.5,780.2 L2129.0,780.6 L2130.5,780.7 L2131.9,780.3 L2133.3,779.4 L2134.7,778.3 L2136.1,777.1 L2137.5,775.7 L2138.8,774.4 L2139.9,773.2 L2141.0,771.9 L2142.0,770.6 L2143.0,769.2 L2144.0,767.7 L2145.0,766.1 L2145.7,764.9 L2146.4,763.6 L2147.1,762.2 L2147.7,760.8 L2148.4,759.4 L2149.0,757.9 L2149.7,756.5 L2150.4,755.1 L2151.2,753.7 L2152.0,752.3 L2152.9,750.8 L2153.8,749.4 L2154.7,747.9 L2155.6,746.5 L2156.6,745.1 L2157.5,743.8 L2158.5,742.5 L2159.5,741.2 L2160.7,739.9 L2161.9,738.7 L2163.1,737.5 L2164.3,736.3 L2165.5,735.2 L2166.7,734.1 L2167.8,732.9 L2168.9,731.7 L2169.9,730.4 L2170.9,729.1 L2171.9,727.8 L2172.9,726.7 L2174.0,725.7 L2175.5,724.5 L2177.1,723.3 L2178.7,722.5 L2180.2,722.2 L2181.8,722.5 L2183.4,723.2 L2185.0,724.4 L2186.5,725.7 L2187.4,726.7 L2188.2,727.8 L2189.0,729.1 L2189.7,730.5 L2190.4,731.9 L2191.2,733.4 L2191.9,734.7 L2192.7,736.1 L2193.6,737.4 L2194.5,738.8 L2195.3,740.1 L2196.2,741.4 L2197.1,742.7 L2198.0,744.1 L2198.9,745.4 L2199.8,746.8 L2200.6,748.1 L2201.5,749.5 L2202.3,750.9 L2203.2,752.3 L2204.1,753.5 L2205.1,754.7 L2206.4,755.9 L2207.8,757.0 L2209.3,758.0 L2210.7,758.9 L2212.1,759.9 L2213.4,761.0 L2214.8,762.2 L2216.0,763.5 L2217.2,764.8 L2218.4,766.1 L2219.7,767.2 L2221.1,768.3 L2222.6,769.3 L2224.2,770.1 L2225.9,770.7 L2227.4,771.0 L2229.1,771.1 L2230.9,771.1 L2232.7,770.9 L2234.5,770.6 L2236.3,770.3 L2237.8,769.8 L2239.2,769.2 L2240.7,768.4 L2242.1,767.6 L2243.6,766.8 L2245.1,766.2 L2246.6,765.7 L2248.1,765.5 L2249.7,765.6 L2251.3,765.7 L2253.0,765.9 L2254.6,766.1 L2256.2,766.1 L2257.7,766.1 L2259.1,765.7 L2260.4,765.1 L2261.7,764.2 L2262.9,763.1 L2264.0,762.0 L2265.1,760.9 L2266.2,759.8 L2267.4,758.9 L2268.8,757.8 L2270.3,756.7 L2271.7,755.8 L2273.2,755.1 L2274.6,754.7 L2276.1,754.9 L2277.5,755.3 L2279.0,756.1 L2280.5,756.9 L2281.9,757.8 L2283.1,758.7 L2284.2,759.7 L2285.4,760.8 L2286.5,762.0 L2287.7,763.1 L2288.9,764.2 L2290.2,765.1 L2291.6,765.9 L2293.0,766.5 L2294.5,767.1 L2296.0,767.7 L2297.6,768.2 L2299.1,768.7 L2300.6,769.3 L2302.1,769.8 L2303.6,770.5 L2305.1,771.1 L2306.6,771.7 L2308.1,772.2 L2309.5,772.6 L2311.0,772.8 L2312.7,772.7 L2314.4,772.4 L2316.0,772.0 L2317.6,771.6 L2319.3,771.3 L2321.4,771.2 L2323.8,771.2 L2325.7,771.3 L2326.5,771.3" fill="none" stroke="#008000" stroke-width="5.8" stroke-linejoin="round" stroke-linecap="butt" clip-path="url(#cr)" />
<path d="M920.6,1178.1 L920.9,1178.2 L921.6,1178.5 L922.7,1178.2 L924.1,1178.0 L925.7,1177.9 L927.6,1177.4 L929.6,1177.4 L931.7,1177.4 L933.8,1177.4 L935.8,1176.7 L937.8,1176.5 L939.6,1176.0 L941.1,1176.5 L942.8,1176.5 L944.3,1175.7 L945.8,1176.2 L947.2,1176.3 L948.7,1175.9 L950.1,1175.6 L951.6,1174.9 L953.2,1174.3 L954.8,1174.5 L956.2,1174.1 L957.7,1174.0 L959.2,1174.0 L960.8,1173.7 L962.4,1174.0 L964.0,1174.1 L965.6,1174.6 L967.2,1174.5 L968.8,1174.5 L970.4,1174.4 L972.1,1174.4 L973.7,1174.2 L975.3,1173.9 L976.8,1174.4 L978.5,1174.6 L980.1,1174.4 L981.7,1174.2 L983.3,1173.6 L985.0,1173.2 L986.6,1172.9 L988.2,1172.5 L989.8,1172.9 L991.3,1172.6 L992.8,1172.8 L994.3,1172.3 L995.7,1172.5 L997.4,1172.2 L999.0,1171.1 L1000.5,1170.5 L1002.0,1170.6 L1003.5,1170.0 L1005.0,1170.0 L1006.4,1169.1 L1007.9,1168.1 L1009.4,1167.9 L1010.9,1167.6 L1012.5,1166.7 L1014.1,1165.7 L1015.6,1165.2 L1017.2,1165.2 L1018.7,1164.7 L1020.2,1163.4 L1021.6,1162.5 L1023.0,1161.5 L1024.4,1160.5 L1025.8,1160.3 L1027.1,1159.1 L1028.4,1158.4 L1029.6,1157.4 L1030.8,1156.1 L1032.1,1155.4 L1033.3,1153.9 L1034.3,1153.2 L1035.4,1151.8 L1036.4,1150.8 L1037.5,1149.5 L1038.5,1148.3 L1039.5,1147.8 L1040.5,1146.8 L1041.5,1145.2 L1042.5,1144.5 L1043.5,1142.9 L1044.7,1141.6 L1045.9,1140.8 L1047.1,1139.5 L1048.3,1137.7 L1049.4,1137.1 L1050.4,1135.5 L1051.3,1134.3 L1052.0,1133.9 L1053.5,1131.7 L1054.3,1130.5 L1055.3,1128.9 L1056.4,1127.3 L1057.5,1126.2 L1058.7,1124.6 L1059.8,1123.4 L1060.6,1122.0 L1061.5,1120.7 L1062.4,1119.8 L1063.3,1118.3 L1064.2,1116.9 L1065.1,1115.9 L1066.0,1114.1 L1067.0,1112.5 L1068.0,1111.8 L1069.0,1110.8 L1070.0,1109.1 L1071.1,1107.7 L1072.2,1107.0 L1073.5,1106.3 L1074.8,1104.7 L1076.3,1104.2 L1077.7,1103.4 L1079.1,1102.2 L1080.5,1100.8 L1081.7,1099.2 L1083.0,1097.8 L1084.2,1097.4 L1085.4,1095.9 L1086.6,1094.9 L1087.7,1093.4 L1088.8,1092.6 L1089.9,1091.2 L1091.0,1089.4 L1092.0,1087.7 L1093.0,1086.7 L1094.0,1084.9 L1095.0,1083.6 L1096.3,1082.5 L1097.7,1081.8 L1099.0,1080.5 L1100.2,1078.8 L1101.0,1078.1 L1101.8,1076.4 L1102.6,1074.6 L1103.4,1073.3 L1104.1,1072.1 L1104.8,1070.4 L1105.4,1068.9 L1106.0,1067.7 L1106.5,1066.5 L1106.9,1064.7 L1107.4,1063.3 L1107.8,1062.4 L1108.1,1061.3 L1108.5,1059.6 L1108.8,1058.1 L1109.1,1056.5 L1109.4,1054.6 L1109.6,1052.7 L1109.9,1051.1 L1110.2,1050.3 L1110.6,1049.0 L1111.0,1047.8 L1111.5,1045.5 L1112.0,1044.2 L1112.6,1042.6 L1113.1,1041.2 L1113.7,1039.3 L1114.2,1038.3 L1114.7,1036.2 L1115.2,1034.8 L1115.7,1033.6 L1116.2,1032.4 L1116.6,1030.9 L1117.1,1029.4 L1117.5,1028.0 L1117.8,1026.6 L1118.2,1024.7 L1118.5,1023.2 L1118.7,1021.9 L1119.0,1020.5 L1119.2,1018.5 L1119.4,1017.1 L1119.7,1015.7 L1119.9,1013.9 L1120.2,1012.3 L1120.4,1010.4 L1120.6,1008.9 L1120.9,1007.4 L1121.1,1005.3 L1121.4,1004.1 L1121.7,1003.1 L1122.0,1001.7 L1122.4,1000.1 L1122.8,998.2 L1123.3,997.0 L1123.8,995.5 L1124.3,993.8 L1124.7,992.6 L1125.1,990.5 L1125.4,989.3 L1125.7,987.3 L1125.9,986.0 L1126.1,984.4 L1126.3,982.5 L1126.5,981.2 L1126.7,979.5 L1126.9,977.9 L1127.2,976.7 L1127.5,974.6 L1127.8,972.4 L1128.1,970.8 L1128.5,969.6 L1128.8,967.7 L1129.2,965.9 L1129.6,965.0 L1129.9,963.5 L1130.3,961.7 L1130.7,960.5 L1131.1,958.5 L1131.4,957.1 L1131.8,955.2 L1132.2,953.7 L1132.6,952.5 L1133.0,951.3 L1133.4,949.9 L1133.8,947.9 L1134.2,946.3 L1134.6,944.5 L1135.0,942.6 L1135.3,941.2 L1135.7,940.1 L1136.1,938.8 L1136.5,937.2 L1136.9,935.9 L1137.3,933.7 L1137.7,931.8 L1138.1,930.3 L1138.4,928.6 L1138.8,926.9 L1139.2,925.5 L1139.6,924.3 L1140.1,922.8 L1140.5,921.1 L1140.9,920.0 L1141.4,918.9 L1141.8,917.1 L1142.3,915.1 L1142.7,913.3 L1143.2,912.5 L1143.6,910.5 L1144.1,909.5 L1144.5,908.0 L1145.0,906.3 L1145.4,905.2 L1145.9,903.2 L1146.3,901.4 L1146.7,899.9 L1147.1,897.8 L1147.6,896.9 L1148.2,895.2 L1149.0,893.7 L1150.3,892.5 L1151.9,892.3 L1153.6,891.7 L1155.2,891.2 L1156.5,890.4 L1157.7,889.5 L1158.9,888.7 L1160.2,887.5 L1161.4,885.9 L1162.9,884.7 L1164.5,883.3 L1166.0,881.9 L1167.6,881.4 L1169.1,881.3 L1170.7,880.6 L1172.3,880.4 L1173.9,880.4 L1175.3,880.9 L1176.9,881.1 L1178.4,881.6 L1179.8,882.4 L1181.1,882.9 L1182.2,884.2 L1183.2,885.7 L1184.0,886.4 L1184.8,888.5 L1185.6,890.0 L1186.3,891.0 L1187.0,892.6 L1187.7,894.5 L1188.3,896.5 L1188.8,897.9 L1189.4,899.5 L1190.0,901.6 L1190.5,903.6 L1191.0,905.6 L1191.7,906.8 L1192.5,908.0 L1194.2,908.4 L1196.1,909.1 L1197.7,910.2 L1198.3,911.1 L1198.8,912.4 L1199.1,913.4 L1199.3,915.4 L1199.5,917.4 L1199.6,919.3 L1199.8,920.6 L1200.0,922.0 L1200.1,923.0 L1200.2,924.9 L1200.3,926.6 L1200.4,927.7 L1200.4,928.8 L1200.5,930.5 L1200.6,932.2 L1200.7,934.1 L1200.7,935.4 L1200.8,936.3 L1200.9,938.5 L1201.1,939.6 L1201.2,941.7 L1201.3,942.9 L1201.4,944.4 L1201.5,946.3 L1201.7,947.4 L1201.9,948.7 L1202.1,950.7 L1202.3,952.7 L1202.5,954.7 L1202.7,956.4 L1203.0,958.3 L1203.4,959.5 L1203.9,961.2 L1204.8,962.1 L1205.9,963.3 L1207.1,964.8 L1208.2,966.1 L1209.1,968.0 L1209.7,969.4 L1210.3,970.7 L1210.8,972.5 L1211.2,973.9 L1211.6,975.1 L1211.9,976.5 L1212.2,978.5 L1212.5,980.3 L1212.6,981.2 L1212.8,983.1 L1212.9,985.0 L1212.9,986.3 L1213.0,987.7 L1213.1,988.9 L1213.3,990.7 L1213.5,992.3 L1213.7,994.0 L1213.9,995.1 L1214.1,997.4 L1214.4,998.9 L1214.6,1000.4 L1214.9,1002.3 L1215.1,1003.9 L1215.4,1005.3 L1215.6,1007.1 L1215.8,1008.1 L1216.0,1009.9 L1216.2,1011.5 L1216.5,1013.5 L1216.7,1015.3 L1217.1,1016.3 L1217.4,1017.7 L1217.9,1018.9 L1218.5,1020.5 L1219.1,1022.4 L1219.7,1024.2 L1220.3,1025.3 L1221.0,1026.5 L1221.6,1027.7 L1222.2,1029.5 L1222.8,1031.4 L1223.4,1032.2 L1224.0,1034.0 L1224.6,1034.9 L1225.2,1036.3 L1225.7,1037.9 L1226.1,1039.9 L1226.5,1041.3 L1226.9,1042.9 L1227.2,1044.8 L1227.5,1046.1 L1227.8,1048.2 L1228.1,1049.5 L1228.5,1051.3 L1228.8,1052.6 L1229.3,1054.1 L1229.7,1055.8 L1230.1,1057.4 L1230.6,1058.8 L1231.0,1060.2 L1231.5,1061.8 L1232.0,1062.9 L1232.4,1064.3 L1232.8,1066.2 L1233.2,1067.9 L1233.6,1069.4 L1234.1,1071.2 L1234.6,1072.6 L1235.1,1074.2 L1235.7,1075.3 L1236.3,1077.2 L1237.0,1078.9 L1237.7,1080.7 L1238.4,1081.7 L1239.2,1082.9 L1240.2,1084.9 L1241.3,1085.9 L1242.4,1087.8 L1243.5,1089.4 L1244.4,1090.2 L1245.2,1091.6 L1245.9,1093.6 L1246.5,1095.0 L1247.1,1096.4 L1247.5,1098.7 L1247.8,1100.2 L1247.9,1102.2 L1247.9,1103.4 L1248.1,1105.1 L1248.5,1107.0 L1249.3,1107.9 L1250.2,1109.2 L1251.3,1111.0 L1252.5,1112.8 L1253.7,1114.5 L1254.8,1115.1 L1255.8,1116.6 L1256.8,1118.2 L1257.8,1119.5 L1258.8,1121.0 L1259.9,1121.9 L1261.0,1123.0 L1262.1,1124.0 L1263.2,1125.1 L1264.4,1126.7 L1265.6,1128.1 L1266.9,1129.4 L1268.1,1130.2 L1269.3,1131.3 L1270.5,1132.4 L1271.6,1134.3 L1272.8,1135.9 L1273.9,1137.3 L1275.1,1137.7 L1276.3,1138.5 L1277.6,1140.3 L1278.8,1141.1 L1280.0,1142.4 L1281.3,1143.0 L1282.6,1143.9 L1283.9,1144.9 L1285.3,1145.7 L1286.6,1146.7 L1288.0,1146.9 L1289.4,1148.0 L1290.9,1149.1 L1292.3,1149.2 L1293.8,1149.8 L1295.3,1150.6 L1296.8,1150.9 L1298.3,1151.2 L1299.8,1151.5 L1301.4,1152.3 L1302.9,1152.5 L1304.5,1153.7 L1306.1,1154.5 L1307.6,1155.1 L1309.2,1155.7 L1310.8,1156.0 L1312.3,1156.2 L1313.9,1156.6 L1315.4,1157.0 L1317.0,1157.8 L1318.6,1158.2 L1320.1,1158.0 L1321.7,1158.8 L1323.2,1159.2 L1324.9,1159.7 L1326.6,1160.2 L1328.5,1160.3 L1330.2,1161.0 L1331.9,1161.6 L1333.5,1161.8 L1334.7,1162.2 L1335.7,1162.4 L1337.0,1162.3 L1338.0,1162.8 L1339.2,1162.7 L1340.6,1163.3 L1342.2,1164.1 L1343.9,1164.4 L1345.6,1165.2 L1347.3,1166.1 L1348.6,1166.7 L1350.1,1166.7 L1351.6,1167.6 L1353.1,1168.0 L1354.7,1167.9 L1356.3,1168.4 L1357.9,1168.7 L1359.5,1168.9 L1361.2,1169.0 L1362.8,1169.8 L1364.3,1170.0 L1365.9,1170.3 L1367.4,1170.6 L1369.0,1171.1 L1370.5,1170.5 L1372.1,1170.9 L1373.6,1171.3 L1375.2,1171.2 L1376.8,1171.4 L1378.3,1171.3 L1379.9,1171.5 L1381.4,1171.9 L1383.0,1172.1 L1384.5,1172.5 L1386.1,1173.5 L1387.6,1173.9 L1389.2,1174.2 L1390.7,1175.1 L1392.3,1175.3 L1393.8,1176.0 L1395.4,1176.2 L1396.9,1176.6 L1398.5,1176.3 L1400.0,1176.8 L1401.6,1177.4 L1403.1,1177.1 L1404.7,1178.0 L1406.2,1177.8 L1407.8,1178.2 L1409.3,1178.3 L1410.9,1178.7 L1412.4,1179.3 L1414.0,1179.1 L1415.5,1180.1 L1417.1,1180.2 L1418.6,1180.5 L1420.2,1180.9 L1421.7,1181.0 L1423.3,1181.2 L1424.8,1181.8 L1426.4,1182.1 L1427.9,1182.2 L1429.5,1182.8 L1431.0,1182.8 L1432.6,1182.7 L1434.1,1183.1 L1435.7,1183.2 L1437.2,1183.5 L1438.8,1184.4 L1440.3,1184.7 L1441.9,1185.5 L1443.4,1185.9 L1445.0,1185.6 L1446.6,1186.5 L1448.1,1187.0 L1449.7,1186.6 L1451.2,1187.3 L1452.8,1187.3 L1454.3,1187.5 L1455.9,1188.2 L1457.4,1188.0 L1459.0,1188.3 L1460.5,1188.9 L1462.1,1189.2 L1463.6,1189.1 L1465.2,1189.8 L1466.7,1190.0 L1468.3,1190.1 L1469.8,1189.7 L1471.4,1190.2 L1472.9,1190.4 L1474.5,1190.4 L1476.1,1190.4 L1477.6,1190.9 L1479.2,1190.9 L1480.7,1191.3 L1482.3,1191.7 L1483.8,1191.8 L1485.4,1191.6 L1487.0,1191.7 L1488.6,1191.5 L1490.2,1191.7 L1491.8,1191.4 L1493.4,1191.6 L1495.0,1191.6 L1496.7,1191.4 L1498.3,1190.8 L1500.0,1190.4 L1501.5,1191.1 L1502.9,1191.4 L1504.4,1191.5 L1506.0,1191.5 L1507.5,1191.5 L1509.0,1192.1 L1510.6,1192.5 L1512.1,1192.8 L1513.7,1193.2 L1515.2,1193.6 L1516.7,1193.4 L1518.1,1193.4 L1519.6,1194.2 L1521.2,1194.6 L1522.8,1194.8 L1524.4,1194.1 L1526.0,1193.8 L1527.5,1193.9 L1529.1,1194.1 L1530.6,1194.4 L1532.2,1194.1 L1533.7,1194.4 L1535.3,1194.2 L1536.8,1194.2 L1538.4,1194.9 L1539.9,1195.2 L1541.5,1195.6 L1543.0,1195.6 L1544.5,1195.8 L1546.1,1195.8 L1547.7,1196.0 L1549.3,1196.6 L1550.9,1197.0 L1552.4,1196.5 L1553.8,1196.3 L1555.3,1197.0 L1556.8,1197.1 L1558.3,1197.3 L1559.8,1196.9 L1561.4,1196.9 L1562.9,1196.8 L1564.4,1197.3 L1566.0,1197.1 L1567.5,1197.4 L1569.0,1197.9 L1570.5,1197.5 L1572.1,1197.6 L1573.6,1197.9 L1575.2,1198.3 L1576.9,1198.1 L1578.5,1198.0 L1580.1,1197.7 L1581.7,1198.4 L1583.3,1198.1 L1584.8,1198.0 L1586.2,1198.5 L1587.6,1198.8 L1588.9,1199.3 L1590.1,1199.2 L1592.0,1200.1 L1593.7,1200.4 L1595.2,1200.9 L1596.6,1201.7 L1598.0,1201.3 L1599.0,1200.5 L1599.9,1199.5 L1600.8,1198.1 L1601.6,1196.4 L1602.7,1195.4 L1603.9,1195.8 L1605.3,1197.1 L1606.8,1198.1 L1608.3,1198.8 L1609.7,1199.8 L1611.2,1199.6 L1612.6,1199.2 L1614.0,1198.5 L1615.6,1198.2 L1617.0,1197.8 L1618.5,1198.3 L1620.0,1198.4 L1621.6,1198.7 L1623.4,1199.2 L1625.4,1200.1 L1626.6,1200.5 L1627.9,1200.0 L1629.4,1200.0 L1631.0,1200.0 L1632.7,1200.0 L1634.4,1200.1 L1636.2,1200.1 L1638.1,1200.0 L1640.0,1200.2 L1641.8,1200.6 L1643.7,1200.5 L1645.5,1200.7 L1647.3,1200.5 L1649.0,1200.0 L1650.6,1200.3 L1652.1,1200.5 L1653.5,1199.9 L1654.8,1199.3 L1655.8,1199.4 L1656.7,1199.3 L1658.7,1198.4 L1660.7,1197.9 L1661.5,1197.7 L1662.5,1197.7 L1663.7,1196.9 L1665.0,1197.0 L1666.5,1197.3 L1668.1,1196.8 L1669.7,1196.5 L1671.5,1197.1 L1673.3,1197.6 L1675.1,1197.1 L1677.0,1197.5 L1678.9,1197.2 L1680.8,1197.8 L1682.6,1198.1 L1684.5,1197.9 L1686.3,1197.9 L1688.0,1198.6 L1689.6,1198.7 L1691.1,1199.2 L1692.5,1199.1 L1693.8,1199.2 L1695.0,1199.9 L1695.9,1200.1 L1697.8,1200.7 L1699.2,1201.6 L1700.5,1202.5 L1701.8,1202.9 L1703.2,1202.7 L1704.4,1201.4 L1705.8,1200.6 L1707.7,1199.8 L1708.7,1199.7 L1709.9,1199.6 L1711.2,1199.5 L1712.7,1199.4 L1714.3,1199.4 L1716.0,1199.1 L1717.8,1198.8 L1719.6,1198.8 L1721.5,1198.9 L1723.3,1198.6 L1725.2,1198.5 L1727.1,1198.2 L1728.9,1198.7 L1730.7,1199.3 L1732.4,1199.0 L1734.0,1198.8 L1735.5,1198.8 L1736.8,1199.1 L1738.0,1199.2 L1739.0,1200.1 L1740.9,1200.2 L1742.3,1201.2 L1743.6,1201.7 L1744.9,1202.4 L1746.0,1202.2 L1747.0,1200.7 L1748.1,1199.0 L1749.3,1198.0 L1750.8,1197.4 L1751.9,1197.5 L1753.1,1196.8 L1754.5,1196.5 L1756.0,1196.5 L1757.6,1196.7 L1759.2,1196.9 L1760.9,1197.7 L1762.7,1198.1 L1764.4,1198.1 L1766.2,1198.2 L1767.9,1198.5 L1769.6,1198.6 L1771.3,1199.3 L1772.8,1199.2 L1774.3,1199.3 L1776.0,1199.6 L1777.6,1199.2 L1779.2,1198.7 L1780.8,1198.9 L1782.3,1198.9 L1783.9,1198.1 L1785.4,1197.8 L1786.9,1197.8 L1788.4,1197.2 L1790.0,1196.5 L1791.6,1195.8 L1793.1,1196.1 L1794.7,1195.9 L1796.3,1195.2 L1797.9,1194.7 L1799.5,1194.3 L1801.1,1193.6 L1802.6,1193.8 L1804.2,1193.4 L1805.6,1192.6 L1807.4,1191.9 L1809.1,1191.9 L1810.8,1191.8 L1812.5,1192.0 L1814.2,1191.9 L1815.8,1191.5 L1817.4,1190.5 L1818.8,1189.7 L1820.2,1189.1 L1821.5,1188.2 L1822.9,1188.0 L1824.2,1187.0 L1825.5,1186.1 L1826.8,1185.5 L1828.0,1184.0 L1829.2,1183.0 L1830.3,1181.5 L1831.4,1180.8 L1832.5,1179.1 L1833.5,1178.5 L1834.5,1177.6 L1835.4,1176.4 L1836.2,1174.4 L1837.0,1172.8 L1837.6,1171.8 L1838.1,1169.9 L1838.6,1168.6 L1838.9,1167.1 L1839.3,1166.0 L1839.6,1164.2 L1839.9,1162.8 L1840.2,1160.7 L1840.5,1159.4 L1840.9,1157.5 L1841.3,1156.3 L1841.7,1154.1 L1842.1,1152.9 L1842.4,1150.9 L1842.8,1149.4 L1843.2,1147.9 L1843.6,1146.0 L1844.0,1144.9 L1844.4,1143.1 L1844.8,1141.5 L1845.3,1139.7 L1845.7,1138.2 L1846.1,1136.8 L1846.6,1135.6 L1847.0,1134.0 L1847.5,1132.8 L1848.1,1131.0 L1848.7,1129.8 L1849.6,1128.4 L1850.4,1127.5 L1851.3,1126.3 L1852.3,1125.0 L1853.4,1123.4 L1854.6,1122.7 L1856.0,1122.8 L1857.5,1122.5 L1859.1,1123.0 L1860.8,1123.4 L1862.6,1123.4 L1864.4,1124.4 L1865.9,1124.6 L1867.4,1124.0 L1869.1,1124.1 L1870.7,1123.7 L1872.4,1123.5 L1874.1,1123.6 L1875.7,1123.4 L1877.3,1123.4 L1878.8,1123.6 L1880.1,1124.2 L1881.6,1124.6 L1883.0,1125.4 L1884.2,1126.9 L1885.4,1127.8 L1886.7,1129.4 L1887.9,1130.3 L1889.2,1131.2 L1890.4,1131.8 L1891.7,1132.9 L1893.0,1133.1 L1894.3,1133.6 L1895.8,1134.1 L1897.3,1135.1 L1898.9,1135.9 L1900.6,1136.0 L1902.3,1136.4 L1904.1,1137.1 L1905.8,1137.3 L1907.5,1136.8 L1909.0,1136.5 L1910.4,1136.2 L1911.9,1135.7 L1913.3,1135.5 L1914.8,1134.9 L1916.2,1135.1 L1917.7,1134.4 L1919.3,1133.9 L1920.6,1133.7 L1922.0,1133.4 L1923.4,1133.1 L1924.9,1132.3 L1926.3,1131.5 L1927.8,1131.0 L1929.2,1130.0 L1930.7,1129.6 L1932.1,1129.4 L1933.5,1129.2 L1935.0,1128.6 L1936.3,1127.8 L1937.6,1126.9 L1938.9,1125.4 L1940.2,1124.5 L1941.5,1123.6 L1942.8,1123.0 L1944.1,1121.7 L1945.3,1120.9 L1946.6,1120.2 L1948.0,1119.8 L1949.3,1119.3 L1950.6,1118.6 L1952.2,1117.5 L1953.7,1117.4 L1955.3,1117.3 L1956.8,1116.7 L1958.4,1116.1 L1960.0,1115.8 L1961.6,1115.1 L1963.2,1115.2 L1964.7,1115.3 L1966.3,1114.6 L1967.7,1114.3 L1969.2,1114.0 L1970.7,1113.0 L1972.2,1113.0 L1973.6,1112.4 L1975.1,1111.4 L1976.5,1110.5 L1978.0,1110.0 L1979.3,1109.7 L1980.7,1109.3 L1982.0,1108.4 L1983.3,1108.0 L1984.6,1106.8 L1985.8,1105.8 L1987.0,1104.4 L1988.2,1104.0 L1989.4,1102.5 L1990.5,1101.9 L1991.6,1100.8 L1992.7,1099.8 L1993.7,1098.8 L1994.9,1097.4 L1996.1,1096.8 L1997.2,1095.9 L1998.3,1094.8 L1999.4,1093.6 L2000.5,1092.2 L2001.6,1091.9 L2003.1,1090.8 L2004.5,1090.6 L2006.0,1089.9 L2007.4,1090.1 L2008.7,1090.9 L2009.9,1091.1 L2011.1,1092.3 L2012.2,1093.0 L2013.3,1094.1 L2014.2,1095.3 L2014.9,1097.4 L2015.7,1099.3 L2016.4,1100.7 L2017.1,1101.9 L2017.8,1103.7 L2018.5,1105.4 L2019.2,1106.6 L2020.0,1108.1 L2020.9,1109.7 L2021.7,1110.4 L2022.6,1111.6 L2023.4,1113.1 L2024.3,1114.3 L2025.1,1116.0 L2025.8,1117.6 L2026.4,1118.8 L2027.1,1120.6 L2027.7,1122.0 L2028.4,1123.8 L2029.0,1125.2 L2029.6,1127.0 L2030.3,1128.1 L2031.0,1130.0 L2031.7,1131.2 L2032.4,1133.3 L2033.1,1134.8 L2033.8,1136.1 L2034.5,1137.4 L2035.2,1139.0 L2036.0,1140.6 L2036.8,1142.2 L2037.6,1143.6 L2038.4,1144.7 L2039.3,1146.4 L2040.2,1147.8 L2041.1,1149.1 L2042.0,1150.0 L2042.9,1151.1 L2043.8,1152.4 L2044.7,1154.0 L2045.6,1155.1 L2046.5,1156.3 L2047.4,1157.4 L2048.4,1159.1 L2049.3,1159.9 L2050.3,1160.6 L2051.4,1162.2 L2052.5,1163.7 L2053.7,1164.8 L2054.9,1165.6 L2056.1,1166.7 L2057.4,1167.2 L2058.8,1168.2 L2060.2,1168.6 L2061.5,1169.2 L2062.9,1170.1 L2064.3,1171.0 L2065.7,1171.7 L2067.2,1172.0 L2068.7,1173.2 L2070.2,1173.8 L2071.8,1174.1 L2073.2,1174.4 L2074.7,1174.7 L2076.0,1174.7 L2077.7,1174.3 L2079.3,1174.6 L2080.9,1174.5 L2082.4,1173.6 L2083.9,1172.9 L2085.0,1171.7 L2086.2,1170.8 L2087.3,1169.2 L2088.4,1168.3 L2089.5,1167.1 L2090.6,1166.5 L2091.7,1165.1 L2093.7,1164.8 L2095.7,1164.0 L2097.6,1164.4 L2098.8,1165.4 L2100.0,1165.6 L2101.1,1166.5 L2102.3,1167.7 L2103.4,1168.8 L2104.5,1169.6 L2105.6,1171.4 L2106.7,1172.9 L2107.9,1173.8 L2109.0,1174.8 L2110.1,1176.0 L2111.3,1176.6 L2112.5,1177.5 L2113.8,1179.3 L2115.0,1180.1 L2116.3,1181.2 L2117.7,1182.5 L2119.1,1183.6 L2120.4,1183.8 L2121.8,1183.8 L2123.3,1184.0 L2124.8,1184.9 L2126.3,1185.4 L2127.9,1185.1 L2129.4,1185.7 L2130.9,1185.7 L2132.5,1186.0 L2134.2,1186.1 L2135.8,1187.0 L2137.5,1187.8 L2139.1,1187.5 L2140.9,1188.0 L2142.6,1187.8 L2144.1,1188.4 L2145.7,1187.9 L2147.2,1187.7 L2148.8,1188.2 L2150.5,1188.0 L2152.1,1188.4 L2153.7,1188.6 L2155.3,1188.4 L2156.8,1187.7 L2158.3,1187.8 L2159.9,1187.9 L2161.3,1187.3 L2162.8,1186.5 L2164.2,1186.0 L2165.6,1185.6 L2167.1,1185.7 L2168.5,1185.0 L2170.1,1184.4 L2171.6,1184.0 L2173.1,1184.1 L2174.7,1184.1 L2176.3,1183.5 L2177.9,1183.3 L2179.6,1183.2 L2181.2,1182.7 L2182.7,1181.8 L2184.3,1181.2 L2185.7,1181.3 L2187.3,1180.7 L2188.8,1179.6 L2190.3,1179.0 L2191.7,1177.8 L2193.2,1177.6 L2194.6,1176.7 L2196.0,1175.9 L2197.5,1175.2 L2199.0,1174.0 L2200.4,1173.5 L2201.9,1172.6 L2203.3,1171.7 L2204.8,1171.5 L2206.3,1170.4 L2207.8,1169.9 L2209.2,1170.1 L2210.9,1169.6 L2212.5,1169.6 L2214.2,1170.0 L2215.8,1170.1 L2217.5,1171.0 L2219.2,1171.6 L2221.0,1171.0 L2222.5,1171.1 L2224.0,1171.5 L2225.6,1171.4 L2227.2,1171.9 L2228.9,1171.8 L2230.5,1171.4 L2232.1,1171.5 L2233.7,1171.6 L2235.2,1171.3 L2236.7,1171.3 L2238.3,1171.2 L2239.8,1170.7 L2241.3,1170.3 L2242.8,1170.1 L2244.2,1169.6 L2245.6,1168.9 L2247.0,1168.5 L2248.4,1167.2 L2249.7,1166.8 L2250.9,1165.5 L2252.1,1164.8 L2253.3,1163.5 L2254.5,1162.6 L2255.7,1161.9 L2256.8,1161.0 L2258.0,1160.0 L2259.1,1158.5 L2260.2,1157.4 L2261.3,1156.1 L2262.4,1155.2 L2263.5,1154.1 L2264.6,1152.5 L2265.6,1151.7 L2266.7,1150.8 L2267.8,1149.8 L2268.9,1149.0 L2270.0,1147.6 L2271.3,1146.2 L2272.7,1145.0 L2274.0,1144.5 L2275.4,1143.7 L2276.8,1143.0 L2278.3,1142.1 L2279.8,1141.9 L2281.2,1140.9 L2282.6,1141.0 L2284.1,1140.6 L2285.6,1140.2 L2287.1,1140.1 L2288.6,1139.3 L2290.1,1138.7 L2291.5,1138.3 L2293.0,1137.6 L2294.5,1137.3 L2296.0,1137.2 L2297.5,1136.8 L2298.9,1136.2 L2300.4,1135.9 L2301.8,1134.9 L2303.3,1134.8 L2304.6,1133.8 L2306.0,1133.1 L2307.4,1132.3 L2308.7,1132.0 L2310.1,1131.6 L2311.4,1131.0 L2312.7,1129.5 L2313.9,1128.7 L2315.0,1127.8 L2316.3,1126.6 L2317.6,1126.1 L2318.7,1124.4 L2319.9,1123.3 L2320.9,1122.5 L2321.9,1121.8 L2322.9,1120.2 L2324.6,1118.5 L2326.1,1117.2 L2326.8,1116.0" fill="none" stroke="#ff8000" stroke-width="5.8" stroke-linejoin="round" stroke-linecap="butt" clip-path="url(#cr)" />
<line x1="454.2" y1="394.6" x2="454.2" y2="1083" stroke="#000" stroke-width="3.3" stroke-dasharray="15.6 12.65" stroke-dashoffset="2.00"/>
<line x1="1059.8" y1="383" x2="1059.8" y2="1123" stroke="#000" stroke-width="3.3" stroke-dasharray="15.6 12.65" stroke-dashoffset="8.05"/>
<line x1="1175.9" y1="281.2" x2="1175.9" y2="883" stroke="#000" stroke-width="3.3" stroke-dasharray="15.6 12.65" stroke-dashoffset="5.00"/>
<path d="M258.10,61.80H717.80M258.10,1227.20H720.10M281.70,59.50V1250.80M717.80,59.50V1250.80M499.75,1227.20v23.6M390.73,1227.20v12.3M608.77,1227.20v12.3" fill="none" stroke="#000" stroke-width="4.6"/>
<path d="M281.70,935.85h-23.6M281.70,644.50h-23.6M281.70,353.15h-23.6M281.70,1081.53h-12.3M281.70,790.18h-12.3M281.70,498.83h-12.3M281.70,207.48h-12.3" fill="none" stroke="#000" stroke-width="4.2"/>
<text transform="translate(244.40,1242.20) scale(1,1.030)" font-size="53" text-anchor="end">0.00</text>
<text transform="translate(244.40,950.85) scale(1,1.030)" font-size="53" text-anchor="end">0.05</text>
<text transform="translate(244.40,659.50) scale(1,1.030)" font-size="53" text-anchor="end">0.10</text>
<text transform="translate(244.40,368.15) scale(1,1.030)" font-size="53" text-anchor="end">0.15</text>
<text transform="translate(244.40,76.80) scale(1,1.030)" font-size="53" text-anchor="end">0.20</text>
<text transform="translate(281.70,1306.50) scale(1,1.030)" font-size="53" text-anchor="middle">3600</text>
<text transform="translate(499.75,1306.50) scale(1,1.030)" font-size="53" text-anchor="middle">3400</text>
<text transform="translate(717.80,1306.50) scale(1,1.030)" font-size="53" text-anchor="middle">3200</text>
<path d="M896.40,61.80H2327.90M896.40,1227.20H2330.20M920.00,59.50V1250.80M2327.90,59.50V1250.80M1201.58,1227.20v23.6M1483.16,1227.20v23.6M1764.74,1227.20v23.6M2046.32,1227.20v23.6M1060.79,1227.20v12.3M1342.37,1227.20v12.3M1623.95,1227.20v12.3M1905.53,1227.20v12.3M2187.11,1227.20v12.3" fill="none" stroke="#000" stroke-width="4.6"/>
<path d="M920.00,1081.53h-23.6M920.00,935.85h-23.6M920.00,790.18h-23.6M920.00,644.50h-23.6M920.00,498.83h-23.6M920.00,353.15h-23.6M920.00,207.48h-23.6M920.00,1154.36h-12.3M920.00,1008.69h-12.3M920.00,863.01h-12.3M920.00,717.34h-12.3M920.00,571.66h-12.3M920.00,425.99h-12.3M920.00,280.31h-12.3M920.00,134.64h-12.3" fill="none" stroke="#000" stroke-width="4.2"/>
<text transform="translate(881.00,1242.20) scale(1,1.030)" font-size="53" text-anchor="end">0.0</text>
<text transform="translate(881.00,1096.53) scale(1,1.030)" font-size="53" text-anchor="end">0.2</text>
<text transform="translate(881.00,950.85) scale(1,1.030)" font-size="53" text-anchor="end">0.4</text>
<text transform="translate(881.00,805.18) scale(1,1.030)" font-size="53" text-anchor="end">0.6</text>
<text transform="translate(881.00,659.50) scale(1,1.030)" font-size="53" text-anchor="end">0.8</text>
<text transform="translate(881.00,513.83) scale(1,1.030)" font-size="53" text-anchor="end">1.0</text>
<text transform="translate(881.00,368.15) scale(1,1.030)" font-size="53" text-anchor="end">1.2</text>
<text transform="translate(881.00,222.48) scale(1,1.030)" font-size="53" text-anchor="end">1.4</text>
<text transform="translate(881.00,76.80) scale(1,1.030)" font-size="53" text-anchor="end">1.6</text>
<text transform="translate(920.00,1306.50) scale(1,1.030)" font-size="53" text-anchor="middle">1800</text>
<text transform="translate(1201.58,1306.50) scale(1,1.030)" font-size="53" text-anchor="middle">1700</text>
<text transform="translate(1483.16,1306.50) scale(1,1.030)" font-size="53" text-anchor="middle">1600</text>
<text transform="translate(1764.74,1306.50) scale(1,1.030)" font-size="53" text-anchor="middle">1500</text>
<text transform="translate(2046.32,1306.50) scale(1,1.030)" font-size="53" text-anchor="middle">1400</text>
<text transform="translate(2327.90,1306.50) scale(1,1.030)" font-size="53" text-anchor="middle">1300</text>
<text transform="translate(89.6,940.95) rotate(-90)" font-size="66.2" font-weight="bold">Absorbance Units</text>
<text transform="translate(981.30,1419.30) scale(1,1.03)" font-size="64.4" font-weight="bold">Wavenumber (cm<tspan x="531.9" y="-30.97" font-size="43" font-weight="normal" fill="#222">−</tspan><tspan x="566.3" y="-29.2" font-size="39" font-weight="normal">1</tspan><tspan x="587.1" y="0">)</tspan></text>
<text transform="translate(399.66,384.56) scale(1,1.004)" font-size="53.6">3443</text>
<text transform="translate(999.92,367.84) scale(1,1.065)" font-size="53">1751</text>
<text transform="translate(1113.13,272.05) scale(1,1.058)" font-size="61.13" font-weight="bold">1709</text>
<text transform="translate(1436.72,191.13) scale(1,1.039)" font-size="45" fill="#4d4d4d">1601</text>
<text transform="translate(469.94,436.57) skewX(-12)" font-size="51.31" font-family="Liberation Serif, serif">g</text>
<text transform="translate(1067.90,415.64) skewX(-12)" font-size="50.07" font-family="Liberation Serif, serif">g</text>
<text transform="translate(1192.76,324.19) skewX(-12)" font-size="54.48" font-family="Liberation Serif, serif">g</text>
<text x="1494.02" y="248.33" font-size="45.99" fill="#5a5a5a" font-family="Liberation Serif, serif" font-style="italic">h</text>
<text transform="translate(292.87,534.93) scale(1,1.020)" font-size="53" font-weight="bold">a</text>
<text x="294.82" y="828.95" font-size="53" font-weight="bold">b</text>
<text transform="translate(295.43,1190.33) scale(1,1.020)" font-size="53" font-weight="bold">c</text>
<text transform="translate(928.76,499.03) scale(1,1.020)" font-size="53" font-weight="bold">a</text>
<text x="933.32" y="872.10" font-size="53" font-weight="bold">b</text>
<text transform="translate(932.28,1215.33) scale(1,1.020)" font-size="53" font-weight="bold">c</text>
<text transform="translate(1324.07,393.94) scale(1,1.051)" font-size="43.57" font-weight="bold" fill="#ff8000">2.0</text>
<text transform="translate(1313.38,437.62) scale(1,1.060)" font-size="42.6" font-weight="bold" fill="#ff8000">wt%</text>
<text transform="translate(1327.65,754.26) scale(1,1.052)" font-size="42.03" font-weight="bold" fill="#ff8000">3.3</text>
<text transform="translate(1318.33,798.32) scale(1,1.050)" font-size="42.6" font-weight="bold" fill="#ff8000">wt%</text>
<text transform="translate(2159.93,153.24) scale(1,1.071)" font-size="62.05" font-weight="bold"><tspan x="-58.33" y="0" font-family="DejaVu Serif, serif" font-weight="normal" font-size="70.24" stroke="#000" stroke-width="1.0">γ</tspan><tspan x="-17.25" y="0"> s-PS</tspan></text>
</g>
</svg>
</body></html>
